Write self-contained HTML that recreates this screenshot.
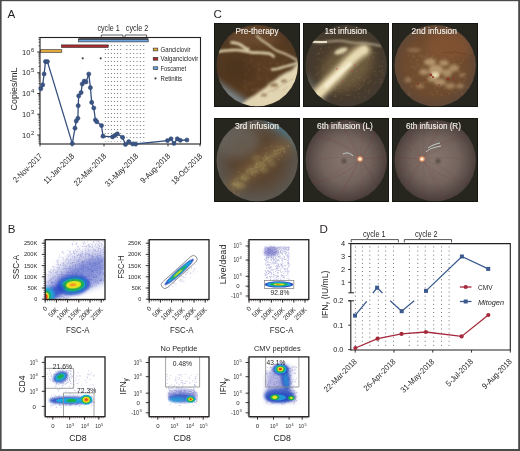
<!DOCTYPE html>
<html><head><meta charset="utf-8"><style>
html,body{margin:0;padding:0;background:#fff;}
svg{display:block;font-family:"Liberation Sans", sans-serif;filter:blur(0.3px);}
</style></head><body>
<svg width="520" height="451" viewBox="0 0 520 451">
<defs>
<filter id="bl05" x="-50%" y="-50%" width="200%" height="200%"><feGaussianBlur stdDeviation="0.5"/></filter>
<filter id="bl1" x="-50%" y="-50%" width="200%" height="200%"><feGaussianBlur stdDeviation="1"/></filter>
<filter id="bl15" x="-50%" y="-50%" width="200%" height="200%"><feGaussianBlur stdDeviation="1.5"/></filter>
<filter id="bl2" x="-50%" y="-50%" width="200%" height="200%"><feGaussianBlur stdDeviation="2"/></filter>
<filter id="bl3" x="-50%" y="-50%" width="200%" height="200%"><feGaussianBlur stdDeviation="3"/></filter>
<filter id="bl4" x="-50%" y="-50%" width="200%" height="200%"><feGaussianBlur stdDeviation="4"/></filter>

<radialGradient id="rg0" cx="0.5" cy="0.5" r="0.5"><stop offset="0" stop-color="#5a3d22"/><stop offset="0.75" stop-color="#573b21"/><stop offset="1" stop-color="#4e3826"/></radialGradient>
<radialGradient id="rg1" cx="0.5" cy="0.5" r="0.5"><stop offset="0" stop-color="#5a4833"/><stop offset="0.6" stop-color="#4a3c2c"/><stop offset="1" stop-color="#433a30"/></radialGradient>
<radialGradient id="rg2" cx="0.5" cy="0.5" r="0.5"><stop offset="0" stop-color="#7a5535"/><stop offset="0.7" stop-color="#6e4a2e"/><stop offset="1" stop-color="#5e4838"/></radialGradient>
<radialGradient id="rg3" cx="0.5" cy="0.5" r="0.5"><stop offset="0" stop-color="#5e4229"/><stop offset="0.55" stop-color="#5a4634"/><stop offset="1" stop-color="#5c5852"/></radialGradient>
<radialGradient id="rg4" cx="0.5" cy="0.5" r="0.5"><stop offset="0" stop-color="#86766f"/><stop offset="0.55" stop-color="#74645e"/><stop offset="1" stop-color="#483c38"/></radialGradient>

<clipPath id="cpB0"><rect x="45.2" y="239.7" width="59.8" height="59.8"/></clipPath><clipPath id="cpB1"><rect x="149.2" y="239.7" width="59.8" height="59.8"/></clipPath><clipPath id="cpB2"><rect x="249.0" y="239.7" width="59.8" height="59.8"/></clipPath><clipPath id="cpB3"><rect x="45.2" y="356.9" width="59.8" height="59.8"/></clipPath><clipPath id="cpB4"><rect x="149.2" y="356.9" width="59.8" height="59.8"/></clipPath><clipPath id="cpB5"><rect x="249.0" y="356.9" width="59.8" height="59.8"/></clipPath>
</defs>
<rect width="520" height="451" fill="#fff"/>
<rect x="0" y="0" width="520" height="1.2" fill="#4a4a4a"/>
<rect x="0" y="0" width="1.6" height="451" fill="#4a4a4a"/>
<rect x="518.2" y="0" width="1.8" height="451" fill="#4a4a4a"/>
<rect x="0" y="449" width="520" height="2" fill="#4a4a4a"/>
<text x="7.6" y="17.6" font-size="11.6" fill="#231f20">A</text>
<line x1="105.3" y1="45" x2="105.3" y2="141.5" stroke="#555" stroke-width="0.9" stroke-dasharray="0.9 3.1"/>
<line x1="108.3" y1="45" x2="108.3" y2="141.5" stroke="#555" stroke-width="0.9" stroke-dasharray="0.9 3.1"/>
<line x1="111.4" y1="45" x2="111.4" y2="141.5" stroke="#555" stroke-width="0.9" stroke-dasharray="0.9 3.1"/>
<line x1="114.6" y1="45" x2="114.6" y2="141.5" stroke="#555" stroke-width="0.9" stroke-dasharray="0.9 3.1"/>
<line x1="117.6" y1="45" x2="117.6" y2="141.5" stroke="#555" stroke-width="0.9" stroke-dasharray="0.9 3.1"/>
<line x1="120.7" y1="45" x2="120.7" y2="141.5" stroke="#555" stroke-width="0.9" stroke-dasharray="0.9 3.1"/>
<line x1="126.9" y1="45" x2="126.9" y2="141.5" stroke="#555" stroke-width="0.9" stroke-dasharray="0.9 3.1"/>
<line x1="130.3" y1="45" x2="130.3" y2="141.5" stroke="#555" stroke-width="0.9" stroke-dasharray="0.9 3.1"/>
<line x1="133.7" y1="45" x2="133.7" y2="141.5" stroke="#555" stroke-width="0.9" stroke-dasharray="0.9 3.1"/>
<line x1="137.0" y1="45" x2="137.0" y2="141.5" stroke="#555" stroke-width="0.9" stroke-dasharray="0.9 3.1"/>
<line x1="140.4" y1="45" x2="140.4" y2="141.5" stroke="#555" stroke-width="0.9" stroke-dasharray="0.9 3.1"/>
<line x1="143.8" y1="45" x2="143.8" y2="141.5" stroke="#555" stroke-width="0.9" stroke-dasharray="0.9 3.1"/>
<rect x="40.6" y="49.7" width="21.199999999999996" height="2.6" fill="#e0a73a" stroke="#2b2b2b" stroke-width="0.6"/>
<rect x="61.4" y="44.900000000000006" width="46.800000000000004" height="2.6" fill="#b02a2e" stroke="#2b2b2b" stroke-width="0.6"/>
<rect x="78.5" y="37.6" width="69.7" height="2.6" fill="#5a5a5a"/>
<rect x="78.5" y="39.300000000000004" width="69.69999999999999" height="2.6" fill="#6ea3dd" stroke="#2b2b2b" stroke-width="0.6"/>
<rect x="40" y="37.5" width="160.5" height="106.5" fill="none" stroke="#231f20" stroke-width="1.1"/>
<path d="M101.3 37.5 V35 H122.9 V37.5" fill="none" stroke="#231f20" stroke-width="0.7"/>
<path d="M125.0 37.5 V35 H146.6 V37.5" fill="none" stroke="#231f20" stroke-width="0.7"/>
<text x="97.4" y="31.2" font-size="8.8" fill="#231f20" textLength="22.3" lengthAdjust="spacingAndGlyphs">cycle 1</text>
<text x="125.8" y="31.2" font-size="8.8" fill="#231f20" textLength="22.4" lengthAdjust="spacingAndGlyphs">cycle 2</text>
<circle cx="82.7" cy="58.3" r="1.1" fill="#444"/>
<circle cx="100.7" cy="58.3" r="1.1" fill="#444"/>
<line x1="37.2" y1="135.0" x2="40" y2="135.0" stroke="#231f20" stroke-width="0.9"/>
<text x="22.0" y="137.6" font-size="7.6" fill="#231f20" textLength="8.4" lengthAdjust="spacingAndGlyphs">10</text>
<text x="30.9" y="134.7" font-size="5.8" fill="#231f20">2</text>
<line x1="38.4" y1="128.75362758997238" x2="40" y2="128.75362758997238" stroke="#231f20" stroke-width="0.6"/>
<line x1="38.4" y1="125.09973396456701" x2="40" y2="125.09973396456701" stroke="#231f20" stroke-width="0.6"/>
<line x1="38.4" y1="122.50725517994478" x2="40" y2="122.50725517994478" stroke="#231f20" stroke-width="0.6"/>
<line x1="38.4" y1="120.49637241002762" x2="40" y2="120.49637241002762" stroke="#231f20" stroke-width="0.6"/>
<line x1="38.4" y1="118.85336155453939" x2="40" y2="118.85336155453939" stroke="#231f20" stroke-width="0.6"/>
<line x1="38.4" y1="117.46421566970417" x2="40" y2="117.46421566970417" stroke="#231f20" stroke-width="0.6"/>
<line x1="38.4" y1="116.26088276991717" x2="40" y2="116.26088276991717" stroke="#231f20" stroke-width="0.6"/>
<line x1="38.4" y1="115.19946792913402" x2="40" y2="115.19946792913402" stroke="#231f20" stroke-width="0.6"/>
<line x1="37.2" y1="114.25" x2="40" y2="114.25" stroke="#231f20" stroke-width="0.9"/>
<text x="22.0" y="116.85" font-size="7.6" fill="#231f20" textLength="8.4" lengthAdjust="spacingAndGlyphs">10</text>
<text x="30.9" y="113.95" font-size="5.8" fill="#231f20">3</text>
<line x1="38.4" y1="108.00362758997238" x2="40" y2="108.00362758997238" stroke="#231f20" stroke-width="0.6"/>
<line x1="38.4" y1="104.34973396456701" x2="40" y2="104.34973396456701" stroke="#231f20" stroke-width="0.6"/>
<line x1="38.4" y1="101.75725517994478" x2="40" y2="101.75725517994478" stroke="#231f20" stroke-width="0.6"/>
<line x1="38.4" y1="99.74637241002762" x2="40" y2="99.74637241002762" stroke="#231f20" stroke-width="0.6"/>
<line x1="38.4" y1="98.10336155453939" x2="40" y2="98.10336155453939" stroke="#231f20" stroke-width="0.6"/>
<line x1="38.4" y1="96.71421566970417" x2="40" y2="96.71421566970417" stroke="#231f20" stroke-width="0.6"/>
<line x1="38.4" y1="95.51088276991717" x2="40" y2="95.51088276991717" stroke="#231f20" stroke-width="0.6"/>
<line x1="38.4" y1="94.44946792913402" x2="40" y2="94.44946792913402" stroke="#231f20" stroke-width="0.6"/>
<line x1="37.2" y1="93.5" x2="40" y2="93.5" stroke="#231f20" stroke-width="0.9"/>
<text x="22.0" y="96.1" font-size="7.6" fill="#231f20" textLength="8.4" lengthAdjust="spacingAndGlyphs">10</text>
<text x="30.9" y="93.2" font-size="5.8" fill="#231f20">4</text>
<line x1="38.4" y1="87.25362758997238" x2="40" y2="87.25362758997238" stroke="#231f20" stroke-width="0.6"/>
<line x1="38.4" y1="83.59973396456701" x2="40" y2="83.59973396456701" stroke="#231f20" stroke-width="0.6"/>
<line x1="38.4" y1="81.00725517994478" x2="40" y2="81.00725517994478" stroke="#231f20" stroke-width="0.6"/>
<line x1="38.4" y1="78.99637241002762" x2="40" y2="78.99637241002762" stroke="#231f20" stroke-width="0.6"/>
<line x1="38.4" y1="77.35336155453939" x2="40" y2="77.35336155453939" stroke="#231f20" stroke-width="0.6"/>
<line x1="38.4" y1="75.96421566970417" x2="40" y2="75.96421566970417" stroke="#231f20" stroke-width="0.6"/>
<line x1="38.4" y1="74.76088276991717" x2="40" y2="74.76088276991717" stroke="#231f20" stroke-width="0.6"/>
<line x1="38.4" y1="73.699467929134" x2="40" y2="73.699467929134" stroke="#231f20" stroke-width="0.6"/>
<line x1="37.2" y1="72.75" x2="40" y2="72.75" stroke="#231f20" stroke-width="0.9"/>
<text x="22.0" y="75.35" font-size="7.6" fill="#231f20" textLength="8.4" lengthAdjust="spacingAndGlyphs">10</text>
<text x="30.9" y="72.45" font-size="5.8" fill="#231f20">5</text>
<line x1="38.4" y1="66.50362758997238" x2="40" y2="66.50362758997238" stroke="#231f20" stroke-width="0.6"/>
<line x1="38.4" y1="62.849733964567" x2="40" y2="62.849733964567" stroke="#231f20" stroke-width="0.6"/>
<line x1="38.4" y1="60.25725517994478" x2="40" y2="60.25725517994478" stroke="#231f20" stroke-width="0.6"/>
<line x1="38.4" y1="58.24637241002761" x2="40" y2="58.24637241002761" stroke="#231f20" stroke-width="0.6"/>
<line x1="38.4" y1="56.60336155453939" x2="40" y2="56.60336155453939" stroke="#231f20" stroke-width="0.6"/>
<line x1="38.4" y1="55.21421566970417" x2="40" y2="55.21421566970417" stroke="#231f20" stroke-width="0.6"/>
<line x1="38.4" y1="54.01088276991717" x2="40" y2="54.01088276991717" stroke="#231f20" stroke-width="0.6"/>
<line x1="38.4" y1="52.949467929134" x2="40" y2="52.949467929134" stroke="#231f20" stroke-width="0.6"/>
<line x1="37.2" y1="52.0" x2="40" y2="52.0" stroke="#231f20" stroke-width="0.9"/>
<text x="22.0" y="54.6" font-size="7.6" fill="#231f20" textLength="8.4" lengthAdjust="spacingAndGlyphs">10</text>
<text x="30.9" y="51.7" font-size="5.8" fill="#231f20">6</text>
<line x1="38.4" y1="45.75362758997239" x2="40" y2="45.75362758997239" stroke="#231f20" stroke-width="0.6"/>
<line x1="38.4" y1="42.099733964567" x2="40" y2="42.099733964567" stroke="#231f20" stroke-width="0.6"/>
<line x1="38.4" y1="39.50725517994478" x2="40" y2="39.50725517994478" stroke="#231f20" stroke-width="0.6"/>
<line x1="38.4" y1="37.49637241002761" x2="40" y2="37.49637241002761" stroke="#231f20" stroke-width="0.6"/>
<line x1="38.4" y1="143.25725517994476" x2="40" y2="143.25725517994476" stroke="#231f20" stroke-width="0.6"/>
<line x1="38.4" y1="141.24637241002762" x2="40" y2="141.24637241002762" stroke="#231f20" stroke-width="0.6"/>
<line x1="38.4" y1="139.6033615545394" x2="40" y2="139.6033615545394" stroke="#231f20" stroke-width="0.6"/>
<line x1="38.4" y1="138.21421566970417" x2="40" y2="138.21421566970417" stroke="#231f20" stroke-width="0.6"/>
<line x1="38.4" y1="137.01088276991717" x2="40" y2="137.01088276991717" stroke="#231f20" stroke-width="0.6"/>
<line x1="38.4" y1="135.94946792913402" x2="40" y2="135.94946792913402" stroke="#231f20" stroke-width="0.6"/>
<line x1="40" y1="144" x2="40" y2="146.4" stroke="#231f20" stroke-width="0.9"/>
<text transform="translate(42.8,156.6) rotate(-45)" font-size="8.2" text-anchor="end" fill="#231f20" textLength="37.5" lengthAdjust="spacingAndGlyphs">2-Nov-2017</text>
<line x1="72" y1="144" x2="72" y2="146.4" stroke="#231f20" stroke-width="0.9"/>
<text transform="translate(74.8,156.6) rotate(-45)" font-size="8.2" text-anchor="end" fill="#231f20" textLength="39.5" lengthAdjust="spacingAndGlyphs">11-Jan-2018</text>
<line x1="104" y1="144" x2="104" y2="146.4" stroke="#231f20" stroke-width="0.9"/>
<text transform="translate(106.8,156.6) rotate(-45)" font-size="8.2" text-anchor="end" fill="#231f20" textLength="42.2" lengthAdjust="spacingAndGlyphs">22-Mar-2018</text>
<line x1="136" y1="144" x2="136" y2="146.4" stroke="#231f20" stroke-width="0.9"/>
<text transform="translate(138.8,156.6) rotate(-45)" font-size="8.2" text-anchor="end" fill="#231f20" textLength="43.2" lengthAdjust="spacingAndGlyphs">31-May-2018</text>
<line x1="168" y1="144" x2="168" y2="146.4" stroke="#231f20" stroke-width="0.9"/>
<text transform="translate(170.8,156.6) rotate(-45)" font-size="8.2" text-anchor="end" fill="#231f20" textLength="38.5" lengthAdjust="spacingAndGlyphs">9-Aug-2018</text>
<line x1="200" y1="144" x2="200" y2="146.4" stroke="#231f20" stroke-width="0.9"/>
<text transform="translate(202.8,156.6) rotate(-45)" font-size="8.2" text-anchor="end" fill="#231f20" textLength="40.0" lengthAdjust="spacingAndGlyphs">18-Oct-2018</text>
<text transform="translate(16.6,88.9) rotate(-90)" font-size="9" text-anchor="middle" fill="#231f20" textLength="43" lengthAdjust="spacingAndGlyphs">Copies/mL</text>
<path d="M40.8 88.8 L42.7 84.9 L44.1 74.0 L45.5 61.6 L47.4 61.6 L72.3 143.6 L75.0 128.2 L76.2 121.1 L77.9 118.3 L78.2 105.7 L78.7 95.9 L81.1 92.6 L82.2 84.0 L84.2 81.1 L86.0 82.0 L88.8 74.0 L90.4 87.7 L91.7 102.4 L93.8 108.0 L95.4 120.0 L96.8 121.8 L101.5 125.6 L103.0 136.2 L112.5 136.9 L114.9 135.5 L117.3 133.8 L122.6 137.4 L125.5 144.4 L128.8 141.7 L132.7 144.0 L135.6 144.0 L167.5 140.6 L171.0 138.8 L174.0 143.4 L177.3 138.8 L180.3 140.3 L186.9 140.0" fill="none" stroke="#34507e" stroke-width="1.3" stroke-linejoin="round"/>
<circle cx="40.8" cy="88.8" r="2.1" fill="#3a5583" stroke="#2c4572" stroke-width="0.5"/>
<circle cx="42.7" cy="84.9" r="2.1" fill="#3a5583" stroke="#2c4572" stroke-width="0.5"/>
<circle cx="44.1" cy="74.0" r="2.1" fill="#3a5583" stroke="#2c4572" stroke-width="0.5"/>
<circle cx="45.5" cy="61.6" r="2.1" fill="#3a5583" stroke="#2c4572" stroke-width="0.5"/>
<circle cx="47.4" cy="61.6" r="2.1" fill="#3a5583" stroke="#2c4572" stroke-width="0.5"/>
<circle cx="72.3" cy="143.6" r="2.1" fill="#3a5583" stroke="#2c4572" stroke-width="0.5"/>
<circle cx="75.0" cy="128.2" r="2.1" fill="#3a5583" stroke="#2c4572" stroke-width="0.5"/>
<circle cx="76.2" cy="121.1" r="2.1" fill="#3a5583" stroke="#2c4572" stroke-width="0.5"/>
<circle cx="77.9" cy="118.3" r="2.1" fill="#3a5583" stroke="#2c4572" stroke-width="0.5"/>
<circle cx="78.2" cy="105.7" r="2.1" fill="#3a5583" stroke="#2c4572" stroke-width="0.5"/>
<circle cx="78.7" cy="95.9" r="2.1" fill="#3a5583" stroke="#2c4572" stroke-width="0.5"/>
<circle cx="81.1" cy="92.6" r="2.1" fill="#3a5583" stroke="#2c4572" stroke-width="0.5"/>
<circle cx="82.2" cy="84.0" r="2.1" fill="#3a5583" stroke="#2c4572" stroke-width="0.5"/>
<circle cx="84.2" cy="81.1" r="2.1" fill="#3a5583" stroke="#2c4572" stroke-width="0.5"/>
<circle cx="86.0" cy="82.0" r="2.1" fill="#3a5583" stroke="#2c4572" stroke-width="0.5"/>
<circle cx="88.8" cy="74.0" r="2.1" fill="#3a5583" stroke="#2c4572" stroke-width="0.5"/>
<circle cx="90.4" cy="87.7" r="2.1" fill="#3a5583" stroke="#2c4572" stroke-width="0.5"/>
<circle cx="91.7" cy="102.4" r="2.1" fill="#3a5583" stroke="#2c4572" stroke-width="0.5"/>
<circle cx="93.8" cy="108.0" r="2.1" fill="#3a5583" stroke="#2c4572" stroke-width="0.5"/>
<circle cx="95.4" cy="120.0" r="2.1" fill="#3a5583" stroke="#2c4572" stroke-width="0.5"/>
<circle cx="96.8" cy="121.8" r="2.1" fill="#3a5583" stroke="#2c4572" stroke-width="0.5"/>
<circle cx="101.5" cy="125.6" r="2.1" fill="#3a5583" stroke="#2c4572" stroke-width="0.5"/>
<circle cx="103.0" cy="136.2" r="2.1" fill="#3a5583" stroke="#2c4572" stroke-width="0.5"/>
<circle cx="112.5" cy="136.9" r="2.1" fill="#3a5583" stroke="#2c4572" stroke-width="0.5"/>
<circle cx="114.9" cy="135.5" r="2.1" fill="#3a5583" stroke="#2c4572" stroke-width="0.5"/>
<circle cx="117.3" cy="133.8" r="2.1" fill="#3a5583" stroke="#2c4572" stroke-width="0.5"/>
<circle cx="122.6" cy="137.4" r="2.1" fill="#3a5583" stroke="#2c4572" stroke-width="0.5"/>
<circle cx="125.5" cy="144.4" r="2.1" fill="#3a5583" stroke="#2c4572" stroke-width="0.5"/>
<circle cx="128.8" cy="141.7" r="2.1" fill="#3a5583" stroke="#2c4572" stroke-width="0.5"/>
<circle cx="132.7" cy="144.0" r="2.1" fill="#3a5583" stroke="#2c4572" stroke-width="0.5"/>
<circle cx="135.6" cy="144.0" r="2.1" fill="#3a5583" stroke="#2c4572" stroke-width="0.5"/>
<circle cx="167.5" cy="140.6" r="2.1" fill="#3a5583" stroke="#2c4572" stroke-width="0.5"/>
<circle cx="171.0" cy="138.8" r="2.1" fill="#3a5583" stroke="#2c4572" stroke-width="0.5"/>
<circle cx="174.0" cy="143.4" r="2.1" fill="#3a5583" stroke="#2c4572" stroke-width="0.5"/>
<circle cx="177.3" cy="138.8" r="2.1" fill="#3a5583" stroke="#2c4572" stroke-width="0.5"/>
<circle cx="180.3" cy="140.3" r="2.1" fill="#3a5583" stroke="#2c4572" stroke-width="0.5"/>
<circle cx="186.9" cy="140.0" r="2.1" fill="#3a5583" stroke="#2c4572" stroke-width="0.5"/>
<rect x="153.2" y="48.1" width="4.6" height="2.8" fill="#e0a73a" stroke="#2b2b2b" stroke-width="0.6"/>
<rect x="153.2" y="57.4" width="4.6" height="2.8" fill="#b02a2e" stroke="#2b2b2b" stroke-width="0.6"/>
<rect x="153.2" y="66.8" width="4.6" height="2.8" fill="#6ea3dd" stroke="#2b2b2b" stroke-width="0.6"/>
<text x="160.6" y="51.8" font-size="6.4" fill="#231f20" textLength="30.0" lengthAdjust="spacingAndGlyphs">Ganciclovir</text>
<text x="160.6" y="61.1" font-size="6.4" fill="#231f20" textLength="37.6" lengthAdjust="spacingAndGlyphs">Valganciclovir</text>
<text x="160.6" y="70.5" font-size="6.4" fill="#231f20" textLength="25.5" lengthAdjust="spacingAndGlyphs">Foscarnet</text>
<circle cx="155.5" cy="78.4" r="1.1" fill="#444"/>
<text x="160.6" y="80.7" font-size="6.4" fill="#231f20" textLength="21.5" lengthAdjust="spacingAndGlyphs">Retinitis</text>
<text x="213.6" y="17.6" font-size="11.6" fill="#231f20">C</text>
<g transform="translate(214,23)">
<rect x="0" y="0" width="86" height="84" fill="#26261f"/>
<rect x="0.5" y="0.5" width="85" height="83" fill="none" stroke="#151512" stroke-width="1"/>
<clipPath id="fc0"><circle cx="43.2" cy="42.6" r="40.7"/></clipPath>
<g clip-path="url(#fc0)">

<rect x="0" y="0" width="86" height="84" fill="url(#rg0)"/>
<ellipse cx="40" cy="14" rx="26" ry="10" fill="#6e4e30" filter="url(#bl4)" opacity="0.8"/>
<ellipse cx="24" cy="46" rx="16" ry="14" fill="#4a301a" filter="url(#bl4)" opacity="0.7"/>
<path d="M0 54 C8 62 18 68 28 74 C34 78 38 84 38 84 L0 84Z" fill="#7e8a90" filter="url(#bl3)" opacity="0.95"/>
<path d="M84.0 40.0 C82.7 39.8 80.2 44.9 78.2 46.5 C76.2 48.1 74.0 48.4 72.0 49.5 C70.0 50.6 68.0 51.6 66.0 53.0 C64.0 54.4 61.7 56.5 60.0 57.7 C58.3 58.9 57.3 59.0 56.0 60.0 C54.7 61.0 53.7 62.7 52.0 64.0 C50.3 65.3 48.0 66.6 46.0 68.0 C44.0 69.4 42.0 71.2 40.0 72.5 C38.0 73.8 36.0 74.2 34.0 76.0 C32.0 77.8 25.3 81.5 28.0 83.0 C30.7 84.5 43.0 86.2 50.0 85.0 C57.0 83.8 64.7 79.8 70.0 76.0 C75.3 72.2 79.3 66.7 82.0 62.0 C84.7 57.3 85.7 51.7 86.0 48.0 C86.3 44.3 85.3 40.2 84.0 40.0Z" fill="#e2d6b2" filter="url(#bl15)"/>
<g fill="#8a6a48" filter="url(#bl1)" opacity="0.8">
<ellipse cx="60" cy="62" rx="4" ry="2"/><ellipse cx="70" cy="58" rx="3" ry="1.5"/><ellipse cx="50" cy="72" rx="3" ry="1.5"/>
</g>
<path d="M46 74 C56 68 66 64 80 55" stroke="#c0a888" stroke-width="1" fill="none" filter="url(#bl05)" opacity="0.5"/>
<g fill="none" stroke="#ddd0ab" stroke-linecap="round" stroke-linejoin="round" filter="url(#bl1)">
<path d="M4.0 28.5 C5.0 28.4 8.0 28.0 10.0 27.8 C12.0 27.6 13.9 27.3 16.0 27.2 C18.1 27.1 20.0 26.9 22.3 27.0 C24.6 27.1 27.3 27.5 29.8 27.9 C32.3 28.3 34.4 29.1 37.2 29.4 C40.0 29.7 43.4 29.6 46.5 29.8 C49.6 30.0 53.6 30.1 55.8 30.7 C58.0 31.3 59.0 33.0 59.6 33.5" stroke-width="2.6"/>
<path d="M17.7 19.5 C18.4 19.6 20.6 19.7 22.0 20.0 C23.4 20.3 24.4 20.5 26.0 21.4 C27.6 22.2 30.2 24.3 31.6 25.1 C33.0 25.9 33.9 25.9 34.4 26.0" stroke-width="2.8"/>
<path d="M42.8 13.0 C43.7 13.8 46.5 16.3 48.4 17.7 C50.3 19.1 51.8 19.8 54.0 21.4 C56.2 22.9 58.6 25.4 61.4 27.0 C64.2 28.6 67.9 29.5 70.7 30.7 C73.5 31.9 76.1 33.3 78.2 34.4 C80.3 35.5 82.6 37.0 83.5 37.5" stroke-width="1.8"/>
<path d="M58.0 46.5 C59.0 46.4 61.9 46.1 64.0 45.6 C66.1 45.1 68.5 44.3 70.7 43.7 C72.9 43.1 74.8 42.6 77.0 42.0 C79.2 41.4 82.8 40.3 84.0 40.0" stroke-width="2.4"/>
</g>
<g filter="url(#bl1)"><path d="M56.2 59.5h1.6v1.6h-1.6zM63.4 66.1h1.6v1.6h-1.6zM61.1 65.4h1.6v1.6h-1.6zM31.2 50.4h1.6v1.6h-1.6zM69.6 56.4h1.6v1.6h-1.6zM67.8 38.7h1.6v1.6h-1.6zM49.7 43.1h1.6v1.6h-1.6zM52.8 53.9h1.6v1.6h-1.6zM30.6 42.2h1.6v1.6h-1.6zM41.7 65.2h1.6v1.6h-1.6zM62.2 40.3h1.6v1.6h-1.6zM63.5 39.6h1.6v1.6h-1.6zM55.9 39.2h1.6v1.6h-1.6zM30.1 63.8h1.6v1.6h-1.6zM38.8 42.1h1.6v1.6h-1.6zM71.3 63.8h1.6v1.6h-1.6zM42.2 66.7h1.6v1.6h-1.6zM52.6 57.4h1.6v1.6h-1.6zM38.6 66.1h1.6v1.6h-1.6zM59.0 66.9h1.6v1.6h-1.6zM67.5 44.9h1.6v1.6h-1.6zM45.2 40.5h1.6v1.6h-1.6zM36.1 37.1h1.6v1.6h-1.6zM42.7 54.9h1.6v1.6h-1.6zM30.1 57.4h1.6v1.6h-1.6zM44.2 45.2h1.6v1.6h-1.6zM64.4 50.9h1.6v1.6h-1.6zM43.3 50.9h1.6v1.6h-1.6zM59.6 36.9h1.6v1.6h-1.6zM71.0 35.8h1.6v1.6h-1.6zM61.5 62.9h1.6v1.6h-1.6zM30.8 61.0h1.6v1.6h-1.6zM45.4 54.1h1.6v1.6h-1.6zM30.4 36.5h1.6v1.6h-1.6zM37.6 66.5h1.6v1.6h-1.6zM38.3 59.9h1.6v1.6h-1.6zM69.0 66.1h1.6v1.6h-1.6zM44.5 46.7h1.6v1.6h-1.6zM52.0 60.6h1.6v1.6h-1.6zM34.5 59.7h1.6v1.6h-1.6zM63.5 63.4h1.6v1.6h-1.6zM31.5 66.2h1.6v1.6h-1.6zM33.8 46.2h1.6v1.6h-1.6zM55.7 65.3h1.6v1.6h-1.6zM44.3 65.5h1.6v1.6h-1.6zM52.9 45.3h1.6v1.6h-1.6zM43.3 40.9h1.6v1.6h-1.6zM33.3 39.9h1.6v1.6h-1.6zM58.9 67.9h1.6v1.6h-1.6zM36.8 36.6h1.6v1.6h-1.6z" fill="#9a7a58" fill-opacity="0.35"/></g>

</g></g>
<text x="235.5" y="33.6" font-size="8.4" fill="#f4f1ea" textLength="43.0" lengthAdjust="spacingAndGlyphs" stroke="#f4f1ea" stroke-width="0.12">Pre-therapy</text>
<g transform="translate(303,23)">
<rect x="0" y="0" width="86" height="84" fill="#26261f"/>
<rect x="0.5" y="0.5" width="85" height="83" fill="none" stroke="#151512" stroke-width="1"/>
<clipPath id="fc1"><circle cx="43.2" cy="42.6" r="40.7"/></clipPath>
<g clip-path="url(#fc1)">

<rect x="0" y="0" width="86" height="84" fill="url(#rg1)"/>
<path d="M0 50 C10 60 18 72 24 84 L0 84Z" fill="#7a7a70" filter="url(#bl4)" opacity="0.8"/>
<ellipse cx="44" cy="44" rx="30" ry="20" transform="rotate(-40 44 44)" fill="#7a6644" filter="url(#bl4)" opacity="0.7"/>
<g filter="url(#bl05)"><path d="M79.1 50.8h1.4v1.4h-1.4zM39.6 34.8h1.4v1.4h-1.4zM52.4 66.6h1.4v1.4h-1.4zM43.0 44.8h1.4v1.4h-1.4zM15.8 71.5h1.4v1.4h-1.4zM14.2 48.7h1.4v1.4h-1.4zM69.0 29.1h1.4v1.4h-1.4zM61.8 73.3h1.4v1.4h-1.4zM54.9 64.6h1.4v1.4h-1.4zM19.3 45.5h1.4v1.4h-1.4zM22.1 67.6h1.4v1.4h-1.4zM32.0 46.5h1.4v1.4h-1.4zM80.0 68.0h1.4v1.4h-1.4zM78.4 46.5h1.4v1.4h-1.4zM45.2 61.4h1.4v1.4h-1.4zM44.6 37.7h1.4v1.4h-1.4zM39.5 29.9h1.4v1.4h-1.4zM37.6 75.4h1.4v1.4h-1.4zM77.3 55.9h1.4v1.4h-1.4zM46.0 40.3h1.4v1.4h-1.4zM18.1 36.7h1.4v1.4h-1.4zM65.2 68.8h1.4v1.4h-1.4zM36.6 64.4h1.4v1.4h-1.4zM64.7 59.5h1.4v1.4h-1.4zM57.2 63.0h1.4v1.4h-1.4zM36.7 60.0h1.4v1.4h-1.4zM31.1 48.2h1.4v1.4h-1.4zM64.3 59.3h1.4v1.4h-1.4zM32.0 73.1h1.4v1.4h-1.4zM56.2 53.4h1.4v1.4h-1.4zM12.8 51.5h1.4v1.4h-1.4zM29.0 58.3h1.4v1.4h-1.4zM43.5 66.1h1.4v1.4h-1.4zM56.0 65.1h1.4v1.4h-1.4zM35.7 56.8h1.4v1.4h-1.4zM62.2 66.7h1.4v1.4h-1.4zM35.8 67.5h1.4v1.4h-1.4zM71.2 59.2h1.4v1.4h-1.4zM78.4 73.7h1.4v1.4h-1.4zM47.2 50.6h1.4v1.4h-1.4zM23.3 67.2h1.4v1.4h-1.4zM75.7 47.8h1.4v1.4h-1.4zM59.0 60.9h1.4v1.4h-1.4zM61.7 31.3h1.4v1.4h-1.4zM65.1 53.4h1.4v1.4h-1.4zM57.3 44.7h1.4v1.4h-1.4zM54.4 63.8h1.4v1.4h-1.4zM55.3 60.9h1.4v1.4h-1.4zM13.9 30.6h1.4v1.4h-1.4zM42.0 57.1h1.4v1.4h-1.4zM26.9 59.0h1.4v1.4h-1.4zM54.9 24.3h1.4v1.4h-1.4zM44.1 34.2h1.4v1.4h-1.4zM15.7 29.2h1.4v1.4h-1.4zM33.6 31.8h1.4v1.4h-1.4zM25.1 23.9h1.4v1.4h-1.4zM43.6 42.5h1.4v1.4h-1.4zM53.6 53.9h1.4v1.4h-1.4zM28.2 70.8h1.4v1.4h-1.4zM12.0 43.9h1.4v1.4h-1.4zM30.9 44.1h1.4v1.4h-1.4zM19.8 66.9h1.4v1.4h-1.4zM37.4 23.9h1.4v1.4h-1.4zM53.7 27.1h1.4v1.4h-1.4zM49.1 40.3h1.4v1.4h-1.4zM51.5 73.7h1.4v1.4h-1.4zM67.7 44.6h1.4v1.4h-1.4zM67.3 56.7h1.4v1.4h-1.4zM37.1 29.7h1.4v1.4h-1.4zM52.5 52.4h1.4v1.4h-1.4zM77.1 74.3h1.4v1.4h-1.4zM53.4 41.0h1.4v1.4h-1.4zM72.8 22.1h1.4v1.4h-1.4zM19.3 52.6h1.4v1.4h-1.4zM53.8 29.6h1.4v1.4h-1.4zM54.8 70.1h1.4v1.4h-1.4zM37.6 45.3h1.4v1.4h-1.4zM27.4 37.7h1.4v1.4h-1.4zM78.1 42.5h1.4v1.4h-1.4zM77.4 71.3h1.4v1.4h-1.4zM52.5 36.0h1.4v1.4h-1.4zM78.7 48.8h1.4v1.4h-1.4zM40.3 39.2h1.4v1.4h-1.4zM78.9 48.6h1.4v1.4h-1.4zM31.5 47.8h1.4v1.4h-1.4zM20.3 55.6h1.4v1.4h-1.4zM42.2 37.8h1.4v1.4h-1.4zM65.2 66.6h1.4v1.4h-1.4zM12.9 50.8h1.4v1.4h-1.4zM30.6 72.5h1.4v1.4h-1.4zM65.2 35.3h1.4v1.4h-1.4zM30.2 30.4h1.4v1.4h-1.4zM79.2 37.8h1.4v1.4h-1.4zM53.3 47.6h1.4v1.4h-1.4zM55.9 54.6h1.4v1.4h-1.4zM62.6 28.4h1.4v1.4h-1.4zM63.7 38.2h1.4v1.4h-1.4zM48.3 40.2h1.4v1.4h-1.4zM32.2 50.6h1.4v1.4h-1.4zM43.6 41.5h1.4v1.4h-1.4zM62.7 53.9h1.4v1.4h-1.4zM14.5 35.6h1.4v1.4h-1.4zM43.0 71.5h1.4v1.4h-1.4zM72.4 51.5h1.4v1.4h-1.4zM13.0 64.0h1.4v1.4h-1.4zM41.1 53.1h1.4v1.4h-1.4zM60.2 56.1h1.4v1.4h-1.4zM44.8 71.2h1.4v1.4h-1.4zM38.2 43.2h1.4v1.4h-1.4zM69.9 32.6h1.4v1.4h-1.4zM32.2 66.8h1.4v1.4h-1.4zM16.5 67.2h1.4v1.4h-1.4zM59.2 45.4h1.4v1.4h-1.4zM31.5 64.2h1.4v1.4h-1.4zM73.9 29.7h1.4v1.4h-1.4zM44.5 51.7h1.4v1.4h-1.4zM45.8 39.9h1.4v1.4h-1.4zM22.4 53.6h1.4v1.4h-1.4zM67.2 25.7h1.4v1.4h-1.4zM27.6 66.3h1.4v1.4h-1.4zM65.8 57.8h1.4v1.4h-1.4zM13.7 61.0h1.4v1.4h-1.4zM78.6 75.9h1.4v1.4h-1.4zM59.7 24.6h1.4v1.4h-1.4zM69.3 33.8h1.4v1.4h-1.4zM55.9 73.4h1.4v1.4h-1.4zM60.4 29.3h1.4v1.4h-1.4zM31.9 71.6h1.4v1.4h-1.4zM22.2 55.0h1.4v1.4h-1.4zM40.1 30.7h1.4v1.4h-1.4zM54.3 24.4h1.4v1.4h-1.4zM19.4 42.5h1.4v1.4h-1.4zM16.9 25.1h1.4v1.4h-1.4zM51.1 62.1h1.4v1.4h-1.4zM71.7 29.3h1.4v1.4h-1.4zM41.4 39.0h1.4v1.4h-1.4zM52.8 48.4h1.4v1.4h-1.4zM75.8 42.2h1.4v1.4h-1.4zM15.8 59.7h1.4v1.4h-1.4zM22.3 56.1h1.4v1.4h-1.4zM46.4 71.2h1.4v1.4h-1.4zM49.7 55.5h1.4v1.4h-1.4zM29.9 51.8h1.4v1.4h-1.4zM29.3 62.5h1.4v1.4h-1.4zM47.2 29.2h1.4v1.4h-1.4zM27.9 42.0h1.4v1.4h-1.4zM62.1 31.7h1.4v1.4h-1.4zM60.5 57.4h1.4v1.4h-1.4zM17.8 58.1h1.4v1.4h-1.4zM18.2 28.7h1.4v1.4h-1.4zM52.4 34.9h1.4v1.4h-1.4zM71.6 47.9h1.4v1.4h-1.4zM34.0 65.0h1.4v1.4h-1.4zM14.0 61.2h1.4v1.4h-1.4zM15.6 30.1h1.4v1.4h-1.4zM76.7 58.8h1.4v1.4h-1.4zM27.2 28.3h1.4v1.4h-1.4zM78.1 57.9h1.4v1.4h-1.4zM67.8 29.5h1.4v1.4h-1.4zM54.5 41.1h1.4v1.4h-1.4z" fill="#a89060" fill-opacity="0.2"/></g>
<path d="M13.0 73.0 C14.2 71.8 17.5 68.5 20.0 66.0 C22.5 63.5 25.3 60.7 28.0 58.0 C30.7 55.3 33.5 52.7 36.0 50.0 C38.5 47.3 40.7 44.5 43.0 42.0 C45.3 39.5 47.8 37.0 50.0 35.0 C52.2 33.0 54.2 31.3 56.0 30.0 C57.8 28.7 60.2 27.5 61.0 27.0" stroke="#c8b88e" stroke-width="13" fill="none" filter="url(#bl2)" stroke-linecap="round"/>
<path d="M13.0 73.0 C14.2 71.8 17.5 68.5 20.0 66.0 C22.5 63.5 25.3 60.7 28.0 58.0 C30.7 55.3 33.5 52.7 36.0 50.0 C38.5 47.3 40.7 44.5 43.0 42.0 C45.3 39.5 47.8 37.0 50.0 35.0 C52.2 33.0 54.2 31.3 56.0 30.0 C57.8 28.7 60.2 27.5 61.0 27.0" stroke="#e6dab2" stroke-width="7" fill="none" filter="url(#bl1)" stroke-linecap="round"/>
<path d="M22 64 C30 56 38 48 48 40" stroke="#f6eed4" stroke-width="3.5" fill="none" filter="url(#bl1)"/>
<path d="M9.3 18.6 C10.9 18.8 16.1 19.5 18.6 19.5 C21.1 19.5 21.1 18.9 24.2 18.6 C27.3 18.3 33.2 17.6 37.2 17.7 C41.2 17.8 44.7 19.0 48.4 19.5 C52.1 20.0 55.9 20.2 59.6 20.5 C63.3 20.8 67.6 20.9 70.7 21.4 C73.8 21.9 77.0 23.0 78.2 23.3" stroke="#a89a80" stroke-width="2" fill="none" filter="url(#bl1)"/>
<path d="M8 18.5 L24 19" stroke="#e8e0c8" stroke-width="2.4" fill="none" filter="url(#bl05)"/>
<ellipse cx="38" cy="28" rx="7" ry="2.8" fill="#dcd0ac" filter="url(#bl1)" transform="rotate(-20 38 28)"/>
<g fill="#c04050" opacity="0.8"><circle cx="34" cy="46" r="0.8"/><circle cx="49" cy="48" r="0.8"/><circle cx="40" cy="58" r="0.7"/><circle cx="52" cy="42" r="0.7"/></g>

</g></g>
<text x="324.6" y="33.6" font-size="8.4" fill="#f4f1ea" textLength="42.3" lengthAdjust="spacingAndGlyphs" stroke="#f4f1ea" stroke-width="0.12">1st infusion</text>
<g transform="translate(392,23)">
<rect x="0" y="0" width="86" height="84" fill="#26261f"/>
<rect x="0.5" y="0.5" width="85" height="83" fill="none" stroke="#151512" stroke-width="1"/>
<clipPath id="fc2"><circle cx="43.2" cy="42.6" r="40.7"/></clipPath>
<g clip-path="url(#fc2)">

<rect x="0" y="0" width="86" height="84" fill="url(#rg2)"/>
<ellipse cx="58" cy="22" rx="24" ry="14" fill="#8a5634" filter="url(#bl4)" opacity="0.6"/>
<g filter="url(#bl05)"><path d="M29.0 44.0h1.5v1.5h-1.5zM53.3 44.6h1.5v1.5h-1.5zM38.7 35.7h1.5v1.5h-1.5zM67.2 57.2h1.5v1.5h-1.5zM65.5 48.2h1.5v1.5h-1.5zM68.5 51.7h1.5v1.5h-1.5zM51.9 54.1h1.5v1.5h-1.5zM61.4 46.6h1.5v1.5h-1.5zM20.2 31.4h1.5v1.5h-1.5zM27.0 31.7h1.5v1.5h-1.5zM70.9 50.2h1.5v1.5h-1.5zM62.7 30.0h1.5v1.5h-1.5zM44.1 67.4h1.5v1.5h-1.5zM53.6 48.0h1.5v1.5h-1.5zM43.8 34.2h1.5v1.5h-1.5zM23.9 36.7h1.5v1.5h-1.5zM38.0 46.2h1.5v1.5h-1.5zM70.3 36.4h1.5v1.5h-1.5zM30.3 41.7h1.5v1.5h-1.5zM24.3 42.1h1.5v1.5h-1.5zM29.1 50.2h1.5v1.5h-1.5zM16.1 68.8h1.5v1.5h-1.5zM37.6 69.4h1.5v1.5h-1.5zM58.0 58.3h1.5v1.5h-1.5zM44.2 69.7h1.5v1.5h-1.5zM21.5 58.1h1.5v1.5h-1.5zM32.6 58.3h1.5v1.5h-1.5zM60.7 36.9h1.5v1.5h-1.5zM26.9 31.0h1.5v1.5h-1.5zM28.8 33.3h1.5v1.5h-1.5zM39.7 70.9h1.5v1.5h-1.5zM37.3 43.1h1.5v1.5h-1.5zM44.0 41.9h1.5v1.5h-1.5zM60.9 60.2h1.5v1.5h-1.5zM24.5 40.1h1.5v1.5h-1.5zM57.0 69.5h1.5v1.5h-1.5zM55.3 48.1h1.5v1.5h-1.5zM76.4 30.3h1.5v1.5h-1.5zM17.9 62.7h1.5v1.5h-1.5zM40.3 31.9h1.5v1.5h-1.5zM49.1 71.6h1.5v1.5h-1.5zM47.2 44.7h1.5v1.5h-1.5zM20.0 33.0h1.5v1.5h-1.5zM71.5 50.6h1.5v1.5h-1.5zM73.9 32.3h1.5v1.5h-1.5zM29.6 32.1h1.5v1.5h-1.5zM39.4 32.5h1.5v1.5h-1.5zM30.3 47.1h1.5v1.5h-1.5zM33.6 32.2h1.5v1.5h-1.5zM16.4 70.8h1.5v1.5h-1.5zM25.5 51.4h1.5v1.5h-1.5zM39.8 52.3h1.5v1.5h-1.5zM19.4 43.2h1.5v1.5h-1.5zM20.9 52.8h1.5v1.5h-1.5zM73.0 55.1h1.5v1.5h-1.5zM68.8 39.0h1.5v1.5h-1.5zM15.1 52.7h1.5v1.5h-1.5zM45.1 54.0h1.5v1.5h-1.5zM38.1 56.3h1.5v1.5h-1.5zM60.4 68.3h1.5v1.5h-1.5zM33.7 48.9h1.5v1.5h-1.5zM66.9 39.4h1.5v1.5h-1.5zM21.4 43.1h1.5v1.5h-1.5zM19.6 62.4h1.5v1.5h-1.5zM66.4 43.1h1.5v1.5h-1.5zM22.3 33.4h1.5v1.5h-1.5zM29.7 33.5h1.5v1.5h-1.5zM41.4 54.2h1.5v1.5h-1.5zM29.7 32.6h1.5v1.5h-1.5zM58.8 32.0h1.5v1.5h-1.5zM26.8 42.0h1.5v1.5h-1.5zM37.9 34.1h1.5v1.5h-1.5zM40.9 43.2h1.5v1.5h-1.5zM62.1 53.4h1.5v1.5h-1.5zM71.3 57.5h1.5v1.5h-1.5zM62.6 54.1h1.5v1.5h-1.5zM42.3 64.3h1.5v1.5h-1.5zM55.9 70.1h1.5v1.5h-1.5zM60.6 59.4h1.5v1.5h-1.5zM31.1 64.1h1.5v1.5h-1.5zM38.5 35.5h1.5v1.5h-1.5zM18.2 37.1h1.5v1.5h-1.5zM30.8 58.4h1.5v1.5h-1.5zM32.3 32.7h1.5v1.5h-1.5zM62.9 53.4h1.5v1.5h-1.5zM15.8 32.1h1.5v1.5h-1.5zM22.3 45.0h1.5v1.5h-1.5zM69.0 69.9h1.5v1.5h-1.5zM53.2 39.7h1.5v1.5h-1.5zM41.4 45.2h1.5v1.5h-1.5zM35.1 30.5h1.5v1.5h-1.5zM51.4 64.7h1.5v1.5h-1.5zM60.5 34.0h1.5v1.5h-1.5zM47.9 37.2h1.5v1.5h-1.5zM59.4 48.7h1.5v1.5h-1.5zM74.1 63.4h1.5v1.5h-1.5zM21.6 43.3h1.5v1.5h-1.5zM72.6 49.4h1.5v1.5h-1.5zM41.8 48.5h1.5v1.5h-1.5zM63.1 69.3h1.5v1.5h-1.5zM48.1 70.7h1.5v1.5h-1.5zM52.1 34.3h1.5v1.5h-1.5zM66.1 47.6h1.5v1.5h-1.5zM17.3 71.1h1.5v1.5h-1.5zM16.1 54.2h1.5v1.5h-1.5zM44.8 67.0h1.5v1.5h-1.5zM39.1 39.1h1.5v1.5h-1.5zM31.7 38.4h1.5v1.5h-1.5zM50.0 45.0h1.5v1.5h-1.5zM62.1 40.1h1.5v1.5h-1.5z" fill="#b89060" fill-opacity="0.18"/></g>
<g filter="url(#bl15)" fill="#c2a67a"><ellipse cx="38" cy="39" rx="6" ry="3.5" opacity="0.8"/><ellipse cx="52" cy="40" rx="5" ry="3" opacity="0.75"/><ellipse cx="62" cy="45" rx="5" ry="3.5" opacity="0.7"/><ellipse cx="32" cy="49" rx="5" ry="3" opacity="0.7"/><ellipse cx="48" cy="59" rx="6" ry="3.5" opacity="0.75"/><ellipse cx="58" cy="63" rx="5" ry="3" opacity="0.6"/><ellipse cx="68" cy="63" rx="4" ry="2.5" opacity="0.55"/><ellipse cx="16" cy="57" rx="3.5" ry="2.5" opacity="0.5"/><ellipse cx="28" cy="63" rx="4" ry="2.5" opacity="0.5"/><ellipse cx="44" cy="47" rx="7" ry="5" opacity="0.85"/><ellipse cx="55" cy="50" rx="5" ry="4" opacity="0.7"/><ellipse cx="40" cy="56" rx="5" ry="3" opacity="0.7"/><ellipse cx="22" cy="27" rx="7" ry="2" opacity="0.4"/><ellipse cx="70" cy="52" rx="3" ry="2" opacity="0.5"/></g>
<ellipse cx="43" cy="52" rx="4.5" ry="3" fill="#e6d6ac" filter="url(#bl1)"/>
<g fill="#8e2c22" filter="url(#bl05)" opacity="0.9"><circle cx="38.9" cy="51.9" r="1.4"/><circle cx="41" cy="54" r="1.1"/><circle cx="56" cy="56" r="1.2"/><circle cx="26" cy="61" r="1.0"/><circle cx="62" cy="55" r="0.9"/><circle cx="47" cy="62" r="0.8"/><circle cx="34" cy="57" r="0.8"/></g>
<path d="M50 30 C62 28 72 30 84 34" stroke="#6a3a22" stroke-width="0.6" fill="none" opacity="0.7"/>
<path d="M70 9 l3 -1.5 l2 3 l-2.5 3 z" fill="#e8d890"/>

</g></g>
<text x="411.6" y="33.6" font-size="8.4" fill="#f4f1ea" textLength="45.3" lengthAdjust="spacingAndGlyphs" stroke="#f4f1ea" stroke-width="0.12">2nd infusion</text>
<g transform="translate(214,118)">
<rect x="0" y="0" width="86" height="84" fill="#26261f"/>
<rect x="0.5" y="0.5" width="85" height="83" fill="none" stroke="#151512" stroke-width="1"/>
<clipPath id="fc3"><circle cx="43.2" cy="42.6" r="40.7"/></clipPath>
<g clip-path="url(#fc3)">

<rect x="0" y="0" width="86" height="84" fill="url(#rg3)"/>
<ellipse cx="24" cy="24" rx="22" ry="16" fill="#6e6a64" filter="url(#bl4)" opacity="0.6"/>
<path d="M48 0 L86 0 L86 34 C76 24 64 12 48 0Z" fill="#4e7684" filter="url(#bl3)" opacity="0.85"/>
<path d="M18.0 70.0 C19.3 68.7 23.3 64.5 26.0 62.0 C28.7 59.5 31.3 57.3 34.0 55.0 C36.7 52.7 39.3 50.2 42.0 48.0 C44.7 45.8 47.3 44.0 50.0 42.0 C52.7 40.0 55.3 37.8 58.0 36.0 C60.7 34.2 63.7 32.3 66.0 31.0 C68.3 29.7 71.0 28.5 72.0 28.0" stroke="#7a6040" stroke-width="16" fill="none" filter="url(#bl4)" stroke-linecap="round" opacity="0.7"/>
<g filter="url(#bl15)" fill="#928050"><ellipse cx="22" cy="66" rx="5" ry="3" opacity="0.7"/><ellipse cx="30" cy="60" rx="5" ry="3.5" opacity="0.65"/><ellipse cx="38" cy="53" rx="6" ry="4" opacity="0.6"/><ellipse cx="46" cy="47" rx="6" ry="4" opacity="0.6"/><ellipse cx="54" cy="41" rx="5" ry="3.5" opacity="0.55"/><ellipse cx="61" cy="36" rx="4" ry="3" opacity="0.5"/><ellipse cx="67" cy="31" rx="4" ry="2" opacity="0.45"/><ellipse cx="50" cy="52" rx="5" ry="3" opacity="0.45"/><ellipse cx="42" cy="40" rx="4" ry="3" opacity="0.4"/><ellipse cx="58" cy="46" rx="4" ry="3" opacity="0.4"/><ellipse cx="26" cy="68" rx="6" ry="3" opacity="0.6"/></g>
<g filter="url(#bl05)"><path d="M42.6 44.5h1.2v1.2h-1.2zM63.0 30.9h1.2v1.2h-1.2zM31.7 56.2h1.2v1.2h-1.2zM29.2 56.3h1.2v1.2h-1.2zM32.5 52.3h1.2v1.2h-1.2zM44.3 38.3h1.2v1.2h-1.2zM51.4 46.8h1.2v1.2h-1.2zM49.1 42.9h1.2v1.2h-1.2zM18.7 64.8h1.2v1.2h-1.2zM47.4 43.8h1.2v1.2h-1.2zM73.7 27.4h1.2v1.2h-1.2zM23.3 62.4h1.2v1.2h-1.2zM50.5 39.4h1.2v1.2h-1.2zM37.5 56.2h1.2v1.2h-1.2zM60.4 35.5h1.2v1.2h-1.2zM19.9 66.4h1.2v1.2h-1.2zM69.5 30.0h1.2v1.2h-1.2zM42.6 45.2h1.2v1.2h-1.2zM52.9 38.8h1.2v1.2h-1.2zM24.4 67.4h1.2v1.2h-1.2zM48.1 39.1h1.2v1.2h-1.2zM76.3 24.4h1.2v1.2h-1.2zM49.5 46.3h1.2v1.2h-1.2zM58.2 37.6h1.2v1.2h-1.2zM18.7 71.0h1.2v1.2h-1.2zM52.0 41.1h1.2v1.2h-1.2zM48.3 44.7h1.2v1.2h-1.2zM52.1 34.8h1.2v1.2h-1.2zM41.4 47.5h1.2v1.2h-1.2zM27.5 64.7h1.2v1.2h-1.2zM37.2 54.0h1.2v1.2h-1.2zM50.9 37.2h1.2v1.2h-1.2zM35.4 46.5h1.2v1.2h-1.2zM60.5 35.0h1.2v1.2h-1.2zM54.7 42.6h1.2v1.2h-1.2zM67.3 29.7h1.2v1.2h-1.2zM55.1 37.2h1.2v1.2h-1.2zM33.9 59.4h1.2v1.2h-1.2zM43.7 54.4h1.2v1.2h-1.2zM60.9 32.1h1.2v1.2h-1.2zM51.1 29.7h1.2v1.2h-1.2zM21.9 64.9h1.2v1.2h-1.2zM31.7 53.8h1.2v1.2h-1.2zM64.3 40.7h1.2v1.2h-1.2zM48.6 49.0h1.2v1.2h-1.2zM38.6 54.1h1.2v1.2h-1.2zM47.0 51.0h1.2v1.2h-1.2zM70.2 33.1h1.2v1.2h-1.2zM41.1 52.9h1.2v1.2h-1.2zM22.8 60.0h1.2v1.2h-1.2zM69.4 33.1h1.2v1.2h-1.2zM64.1 31.9h1.2v1.2h-1.2zM27.8 58.1h1.2v1.2h-1.2zM20.4 66.5h1.2v1.2h-1.2zM69.8 29.2h1.2v1.2h-1.2zM40.8 57.4h1.2v1.2h-1.2zM31.6 59.8h1.2v1.2h-1.2zM50.6 41.2h1.2v1.2h-1.2zM27.7 60.1h1.2v1.2h-1.2zM49.1 50.3h1.2v1.2h-1.2zM63.9 33.9h1.2v1.2h-1.2zM66.2 30.6h1.2v1.2h-1.2zM62.5 32.0h1.2v1.2h-1.2zM20.3 60.1h1.2v1.2h-1.2zM74.0 26.7h1.2v1.2h-1.2zM72.1 27.4h1.2v1.2h-1.2zM67.9 29.2h1.2v1.2h-1.2zM33.2 54.8h1.2v1.2h-1.2zM50.0 45.9h1.2v1.2h-1.2zM65.7 30.9h1.2v1.2h-1.2zM40.6 48.9h1.2v1.2h-1.2zM62.5 27.8h1.2v1.2h-1.2zM52.3 39.5h1.2v1.2h-1.2zM43.8 48.9h1.2v1.2h-1.2zM46.2 51.3h1.2v1.2h-1.2zM42.7 53.1h1.2v1.2h-1.2zM62.1 34.9h1.2v1.2h-1.2zM42.2 48.8h1.2v1.2h-1.2zM60.0 32.6h1.2v1.2h-1.2zM22.5 58.5h1.2v1.2h-1.2zM27.3 59.3h1.2v1.2h-1.2zM20.4 65.9h1.2v1.2h-1.2zM49.6 46.7h1.2v1.2h-1.2zM23.8 63.9h1.2v1.2h-1.2zM20.9 66.2h1.2v1.2h-1.2zM22.4 65.8h1.2v1.2h-1.2zM59.7 31.1h1.2v1.2h-1.2zM48.6 53.4h1.2v1.2h-1.2zM25.5 65.7h1.2v1.2h-1.2zM55.8 38.3h1.2v1.2h-1.2zM49.6 41.9h1.2v1.2h-1.2zM19.7 65.1h1.2v1.2h-1.2zM42.2 46.0h1.2v1.2h-1.2zM25.4 64.9h1.2v1.2h-1.2zM48.1 40.5h1.2v1.2h-1.2zM66.1 33.1h1.2v1.2h-1.2zM66.9 37.6h1.2v1.2h-1.2zM51.8 38.4h1.2v1.2h-1.2zM50.1 37.1h1.2v1.2h-1.2zM19.9 61.7h1.2v1.2h-1.2zM69.6 32.8h1.2v1.2h-1.2zM17.5 65.9h1.2v1.2h-1.2zM53.4 40.1h1.2v1.2h-1.2zM22.9 63.7h1.2v1.2h-1.2zM57.2 27.6h1.2v1.2h-1.2zM69.9 30.3h1.2v1.2h-1.2zM35.0 51.4h1.2v1.2h-1.2zM38.7 50.7h1.2v1.2h-1.2zM63.2 31.9h1.2v1.2h-1.2zM31.6 59.9h1.2v1.2h-1.2zM41.8 48.6h1.2v1.2h-1.2zM41.9 45.0h1.2v1.2h-1.2zM21.6 61.3h1.2v1.2h-1.2zM49.1 42.9h1.2v1.2h-1.2zM39.7 46.6h1.2v1.2h-1.2zM28.5 54.9h1.2v1.2h-1.2zM65.6 34.8h1.2v1.2h-1.2zM23.3 66.1h1.2v1.2h-1.2zM37.5 50.1h1.2v1.2h-1.2zM67.1 27.4h1.2v1.2h-1.2zM23.7 68.9h1.2v1.2h-1.2zM29.9 61.0h1.2v1.2h-1.2zM60.8 32.7h1.2v1.2h-1.2zM69.1 30.8h1.2v1.2h-1.2zM64.4 34.3h1.2v1.2h-1.2zM24.1 75.4h1.2v1.2h-1.2zM74.0 27.8h1.2v1.2h-1.2zM45.5 46.3h1.2v1.2h-1.2zM51.2 34.3h1.2v1.2h-1.2zM45.3 47.1h1.2v1.2h-1.2zM19.5 73.6h1.2v1.2h-1.2zM23.2 69.0h1.2v1.2h-1.2zM41.5 51.0h1.2v1.2h-1.2zM69.7 33.9h1.2v1.2h-1.2zM23.7 53.3h1.2v1.2h-1.2zM40.7 47.5h1.2v1.2h-1.2zM38.2 53.1h1.2v1.2h-1.2zM47.9 39.8h1.2v1.2h-1.2zM36.2 50.2h1.2v1.2h-1.2zM44.8 44.0h1.2v1.2h-1.2z" fill="#b09a68" fill-opacity="0.3"/></g>

</g></g>
<text x="235.0" y="128.6" font-size="8.4" fill="#f4f1ea" textLength="43.9" lengthAdjust="spacingAndGlyphs" stroke="#f4f1ea" stroke-width="0.12">3rd infusion</text>
<g transform="translate(303,118)">
<rect x="0" y="0" width="86" height="84" fill="#26261f"/>
<rect x="0.5" y="0.5" width="85" height="83" fill="none" stroke="#151512" stroke-width="1"/>
<clipPath id="fc4"><circle cx="43.2" cy="42.6" r="40.7"/></clipPath>
<g clip-path="url(#fc4)">

<rect x="0" y="0" width="86" height="84" fill="url(#rg4)"/>
<g stroke="#7a3a36" stroke-width="0.5" fill="none" opacity="0.4"><path d="M57 41 C47 27 27 19 9 17"/><path d="M57 41 C51 31 41 11 35 -1"/><path d="M57 41 C63 33 71 21 77 1"/><path d="M57 41 C47 55 27 63 9 65"/><path d="M57 41 C51 51 41 71 35 83"/><path d="M57 41 C63 49 71 61 77 81"/><path d="M57 41 L87 39"/><path d="M57 41 Q81.0 38.0 97.0 41.0" stroke-width="0.35"/><path d="M57 41 Q78.32050807568878 48.0 91.6 61.0" stroke-width="0.35"/><path d="M57 41 Q71.0 55.32050807568877 77.0 75.6" stroke-width="0.35"/><path d="M57 41 Q61.0 58.0 57.0 81.0" stroke-width="0.35"/><path d="M57 41 Q51.0 55.32050807568878 37.0 75.6" stroke-width="0.35"/><path d="M57 41 Q43.67949192431122 48.0 22.4 61.0" stroke-width="0.35"/><path d="M57 41 Q41.0 38.0 17.0 41.0" stroke-width="0.35"/><path d="M57 41 Q43.67949192431123 28.0 22.4 21.0" stroke-width="0.35"/><path d="M57 41 Q50.99999999999999 20.679491924311233 37.0 6.4" stroke-width="0.35"/><path d="M57 41 Q61.0 18.0 57.0 1.0" stroke-width="0.35"/><path d="M57 41 Q71.0 20.67949192431123 77.0 6.4" stroke-width="0.35"/><path d="M57 41 Q78.32050807568876 27.999999999999993 91.6 21.0" stroke-width="0.35"/></g>
<circle cx="41" cy="43" r="2.6" fill="#4a4232" filter="url(#bl1)" opacity="0.7"/>
<circle cx="57" cy="41" r="2.8" fill="#e89868" filter="url(#bl05)"/>
<circle cx="57" cy="41" r="1.5" fill="#fff4e0" filter="url(#bl05)"/>
<path d="M40 36 C44 34 47 35 50 38" stroke="#d0e4e0" stroke-width="1" fill="none" filter="url(#bl05)" opacity="0.8"/>

</g></g>
<text x="317.0" y="128.6" font-size="8.4" fill="#f4f1ea" textLength="55.9" lengthAdjust="spacingAndGlyphs" stroke="#f4f1ea" stroke-width="0.12">6th infusion (L)</text>
<g transform="translate(392,118)">
<rect x="0" y="0" width="86" height="84" fill="#26261f"/>
<rect x="0.5" y="0.5" width="85" height="83" fill="none" stroke="#151512" stroke-width="1"/>
<clipPath id="fc5"><circle cx="43.2" cy="42.6" r="40.7"/></clipPath>
<g clip-path="url(#fc5)">

<rect x="0" y="0" width="86" height="84" fill="url(#rg4)"/>
<g stroke="#7a3a36" stroke-width="0.5" fill="none" opacity="0.4"><path d="M30 41 C40 27 60 19 78 17"/><path d="M30 41 C36 31 46 11 52 -1"/><path d="M30 41 C24 33 16 21 10 1"/><path d="M30 41 C40 55 60 63 78 65"/><path d="M30 41 C36 51 46 71 52 83"/><path d="M30 41 C24 49 16 61 10 81"/><path d="M30 41 L0 39"/><path d="M30 41 Q54.0 38.0 70.0 41.0" stroke-width="0.35"/><path d="M30 41 Q51.32050807568878 48.0 64.6 61.0" stroke-width="0.35"/><path d="M30 41 Q44.0 55.32050807568877 50.0 75.6" stroke-width="0.35"/><path d="M30 41 Q34.0 58.0 30.0 81.0" stroke-width="0.35"/><path d="M30 41 Q24.000000000000004 55.32050807568878 10.0 75.6" stroke-width="0.35"/><path d="M30 41 Q16.679491924311225 48.0 -4.6 61.0" stroke-width="0.35"/><path d="M30 41 Q14.0 38.0 -10.0 41.0" stroke-width="0.35"/><path d="M30 41 Q16.67949192431123 28.0 -4.6 21.0" stroke-width="0.35"/><path d="M30 41 Q23.999999999999993 20.679491924311233 10.0 6.4" stroke-width="0.35"/><path d="M30 41 Q34.0 18.0 30.0 1.0" stroke-width="0.35"/><path d="M30 41 Q44.0 20.67949192431123 50.0 6.4" stroke-width="0.35"/><path d="M30 41 Q51.320508075688764 27.999999999999993 64.6 21.0" stroke-width="0.35"/></g>
<circle cx="46" cy="43" r="2.6" fill="#4a4232" filter="url(#bl1)" opacity="0.7"/>
<circle cx="30" cy="41" r="2.8" fill="#e89868" filter="url(#bl05)"/>
<circle cx="30" cy="41" r="1.5" fill="#fff4e0" filter="url(#bl05)"/>
<path d="M34 34 C38 30 44 29 49 28 M36 30 C40 27 44 26 48 25" stroke="#d0e4e0" stroke-width="1" fill="none" filter="url(#bl05)" opacity="0.8"/>

</g></g>
<text x="406.0" y="128.6" font-size="8.4" fill="#f4f1ea" textLength="54.9" lengthAdjust="spacingAndGlyphs" stroke="#f4f1ea" stroke-width="0.12">6th infusion (R)</text>
<text x="7.8" y="232.7" font-size="11.6" fill="#231f20">B</text>
<g clip-path="url(#cpB0)">
<path d="M45 280 L60 264 L75 252 L105 246 L105 270 L80 276 L45 292Z" fill="#6a6cc8" fill-opacity="0.3" filter="url(#bl3)"/>
<path d="M72.9 270.2h0.8v0.8h-0.8zM92.6 245.6h0.8v0.8h-0.8zM84.2 276.6h0.8v0.8h-0.8zM76.1 278.1h0.8v0.8h-0.8zM84.7 267.2h0.8v0.8h-0.8zM95.4 282.1h0.8v0.8h-0.8zM58.8 257.2h0.8v0.8h-0.8zM91.0 263.8h0.8v0.8h-0.8zM68.2 297.0h0.8v0.8h-0.8zM99.6 268.0h0.8v0.8h-0.8zM91.7 256.1h0.8v0.8h-0.8zM65.0 297.4h0.8v0.8h-0.8zM92.8 250.6h0.8v0.8h-0.8zM52.9 278.3h0.8v0.8h-0.8zM70.2 252.7h0.8v0.8h-0.8zM63.2 292.6h0.8v0.8h-0.8zM68.7 290.8h0.8v0.8h-0.8zM51.0 298.9h0.8v0.8h-0.8zM60.5 286.0h0.8v0.8h-0.8zM50.4 274.7h0.8v0.8h-0.8zM81.1 262.1h0.8v0.8h-0.8zM102.5 268.8h0.8v0.8h-0.8zM97.0 250.9h0.8v0.8h-0.8zM56.8 296.5h0.8v0.8h-0.8zM81.2 265.1h0.8v0.8h-0.8zM47.3 297.3h0.8v0.8h-0.8zM80.8 257.5h0.8v0.8h-0.8zM88.2 244.1h0.8v0.8h-0.8zM78.6 290.7h0.8v0.8h-0.8zM61.8 294.6h0.8v0.8h-0.8zM71.7 243.6h0.8v0.8h-0.8zM67.1 274.0h0.8v0.8h-0.8zM66.7 293.0h0.8v0.8h-0.8zM84.4 281.1h0.8v0.8h-0.8zM46.1 294.2h0.8v0.8h-0.8zM102.8 241.3h0.8v0.8h-0.8zM73.9 283.5h0.8v0.8h-0.8zM105.0 244.5h0.8v0.8h-0.8zM89.2 281.9h0.8v0.8h-0.8zM99.9 260.9h0.8v0.8h-0.8zM70.0 287.0h0.8v0.8h-0.8zM79.4 277.2h0.8v0.8h-0.8zM80.0 276.2h0.8v0.8h-0.8zM97.8 283.3h0.8v0.8h-0.8zM89.1 274.6h0.8v0.8h-0.8zM58.8 281.6h0.8v0.8h-0.8zM63.1 280.3h0.8v0.8h-0.8zM55.2 293.9h0.8v0.8h-0.8zM71.5 293.1h0.8v0.8h-0.8zM85.0 251.8h0.8v0.8h-0.8zM97.8 262.9h0.8v0.8h-0.8zM74.8 289.8h0.8v0.8h-0.8zM72.0 256.4h0.8v0.8h-0.8zM69.8 277.2h0.8v0.8h-0.8zM72.1 244.4h0.8v0.8h-0.8zM82.8 279.0h0.8v0.8h-0.8zM102.5 280.7h0.8v0.8h-0.8zM73.5 250.6h0.8v0.8h-0.8zM73.3 282.5h0.8v0.8h-0.8zM76.2 276.6h0.8v0.8h-0.8zM68.6 287.1h0.8v0.8h-0.8zM50.2 295.5h0.8v0.8h-0.8zM99.6 262.4h0.8v0.8h-0.8zM101.7 267.6h0.8v0.8h-0.8zM83.5 282.7h0.8v0.8h-0.8zM103.6 271.9h0.8v0.8h-0.8zM64.2 294.1h0.8v0.8h-0.8zM48.8 287.6h0.8v0.8h-0.8zM65.1 286.9h0.8v0.8h-0.8zM95.4 281.0h0.8v0.8h-0.8zM83.3 271.1h0.8v0.8h-0.8zM78.6 258.5h0.8v0.8h-0.8zM76.5 274.1h0.8v0.8h-0.8zM77.2 269.9h0.8v0.8h-0.8zM46.7 297.7h0.8v0.8h-0.8zM69.0 287.7h0.8v0.8h-0.8zM74.5 281.1h0.8v0.8h-0.8zM100.4 256.0h0.8v0.8h-0.8zM99.0 268.4h0.8v0.8h-0.8zM52.8 286.4h0.8v0.8h-0.8zM86.2 259.2h0.8v0.8h-0.8zM52.4 270.4h0.8v0.8h-0.8zM56.9 271.6h0.8v0.8h-0.8zM82.9 278.0h0.8v0.8h-0.8zM96.1 276.4h0.8v0.8h-0.8zM99.2 258.8h0.8v0.8h-0.8zM98.3 248.0h0.8v0.8h-0.8zM88.6 255.4h0.8v0.8h-0.8zM94.9 265.1h0.8v0.8h-0.8zM103.1 246.9h0.8v0.8h-0.8zM90.5 269.9h0.8v0.8h-0.8zM78.1 270.6h0.8v0.8h-0.8zM100.6 245.7h0.8v0.8h-0.8zM102.1 267.5h0.8v0.8h-0.8zM64.6 267.8h0.8v0.8h-0.8zM70.8 275.8h0.8v0.8h-0.8zM69.3 251.6h0.8v0.8h-0.8zM93.1 281.9h0.8v0.8h-0.8zM82.8 264.1h0.8v0.8h-0.8zM89.7 286.3h0.8v0.8h-0.8zM69.3 293.3h0.8v0.8h-0.8zM86.7 285.7h0.8v0.8h-0.8zM69.3 283.0h0.8v0.8h-0.8zM65.5 267.9h0.8v0.8h-0.8zM66.3 278.0h0.8v0.8h-0.8zM58.9 296.2h0.8v0.8h-0.8zM65.3 279.3h0.8v0.8h-0.8zM83.5 281.7h0.8v0.8h-0.8zM103.8 241.4h0.8v0.8h-0.8zM89.3 255.3h0.8v0.8h-0.8zM99.3 272.7h0.8v0.8h-0.8zM103.0 273.8h0.8v0.8h-0.8zM83.3 288.2h0.8v0.8h-0.8zM80.9 285.2h0.8v0.8h-0.8zM100.8 249.5h0.8v0.8h-0.8zM48.5 296.2h0.8v0.8h-0.8zM76.6 275.6h0.8v0.8h-0.8zM62.1 279.0h0.8v0.8h-0.8zM62.0 282.6h0.8v0.8h-0.8zM90.3 263.2h0.8v0.8h-0.8zM94.0 275.9h0.8v0.8h-0.8zM82.5 267.1h0.8v0.8h-0.8zM48.1 271.4h0.8v0.8h-0.8zM71.6 279.7h0.8v0.8h-0.8zM60.7 274.6h0.8v0.8h-0.8zM91.7 271.6h0.8v0.8h-0.8zM82.5 261.4h0.8v0.8h-0.8zM86.1 273.6h0.8v0.8h-0.8zM83.0 284.8h0.8v0.8h-0.8zM59.9 298.3h0.8v0.8h-0.8zM97.7 242.4h0.8v0.8h-0.8zM51.1 272.2h0.8v0.8h-0.8zM82.9 262.2h0.8v0.8h-0.8zM95.3 244.4h0.8v0.8h-0.8zM93.6 277.1h0.8v0.8h-0.8zM57.8 265.2h0.8v0.8h-0.8zM93.6 262.0h0.8v0.8h-0.8zM104.4 259.4h0.8v0.8h-0.8zM70.7 262.0h0.8v0.8h-0.8zM97.5 244.7h0.8v0.8h-0.8zM78.9 268.8h0.8v0.8h-0.8zM62.9 286.1h0.8v0.8h-0.8zM57.8 279.4h0.8v0.8h-0.8zM63.2 283.1h0.8v0.8h-0.8zM66.5 283.2h0.8v0.8h-0.8zM52.0 282.2h0.8v0.8h-0.8zM99.8 266.1h0.8v0.8h-0.8zM66.8 263.5h0.8v0.8h-0.8zM77.4 289.8h0.8v0.8h-0.8zM75.9 272.4h0.8v0.8h-0.8zM103.0 278.7h0.8v0.8h-0.8zM50.1 277.7h0.8v0.8h-0.8zM89.7 278.6h0.8v0.8h-0.8zM58.2 285.5h0.8v0.8h-0.8zM90.9 263.5h0.8v0.8h-0.8zM103.1 280.0h0.8v0.8h-0.8zM77.2 282.9h0.8v0.8h-0.8zM99.9 264.4h0.8v0.8h-0.8zM83.4 271.2h0.8v0.8h-0.8zM93.1 265.1h0.8v0.8h-0.8zM67.5 250.0h0.8v0.8h-0.8zM59.1 282.7h0.8v0.8h-0.8zM90.5 258.5h0.8v0.8h-0.8zM94.0 268.5h0.8v0.8h-0.8zM74.0 253.1h0.8v0.8h-0.8zM68.1 271.4h0.8v0.8h-0.8zM61.5 298.9h0.8v0.8h-0.8zM87.8 276.1h0.8v0.8h-0.8zM60.6 291.7h0.8v0.8h-0.8zM61.0 271.8h0.8v0.8h-0.8zM88.0 245.8h0.8v0.8h-0.8zM80.2 291.0h0.8v0.8h-0.8zM92.4 264.8h0.8v0.8h-0.8zM50.5 289.2h0.8v0.8h-0.8zM77.6 271.3h0.8v0.8h-0.8zM94.9 258.5h0.8v0.8h-0.8zM73.0 282.6h0.8v0.8h-0.8zM86.2 246.3h0.8v0.8h-0.8zM94.8 278.9h0.8v0.8h-0.8zM67.6 282.2h0.8v0.8h-0.8zM78.8 267.3h0.8v0.8h-0.8zM57.4 276.7h0.8v0.8h-0.8zM67.6 272.1h0.8v0.8h-0.8zM78.8 283.1h0.8v0.8h-0.8zM94.6 245.5h0.8v0.8h-0.8zM80.6 245.4h0.8v0.8h-0.8zM70.6 270.4h0.8v0.8h-0.8zM68.2 259.7h0.8v0.8h-0.8zM92.4 279.3h0.8v0.8h-0.8zM65.5 278.7h0.8v0.8h-0.8zM94.5 276.4h0.8v0.8h-0.8zM77.9 261.0h0.8v0.8h-0.8zM76.0 282.6h0.8v0.8h-0.8zM56.8 296.2h0.8v0.8h-0.8zM64.8 295.3h0.8v0.8h-0.8zM53.1 293.8h0.8v0.8h-0.8zM78.6 273.3h0.8v0.8h-0.8zM94.1 275.8h0.8v0.8h-0.8zM56.1 272.6h0.8v0.8h-0.8zM84.5 258.3h0.8v0.8h-0.8zM89.3 262.7h0.8v0.8h-0.8zM93.2 241.0h0.8v0.8h-0.8zM60.8 273.8h0.8v0.8h-0.8zM53.7 297.1h0.8v0.8h-0.8zM86.4 285.1h0.8v0.8h-0.8zM69.5 265.8h0.8v0.8h-0.8zM99.3 271.3h0.8v0.8h-0.8zM70.9 293.8h0.8v0.8h-0.8zM88.9 275.6h0.8v0.8h-0.8zM63.3 275.3h0.8v0.8h-0.8zM86.7 271.3h0.8v0.8h-0.8zM63.4 263.5h0.8v0.8h-0.8zM70.3 287.9h0.8v0.8h-0.8zM89.8 273.7h0.8v0.8h-0.8zM50.9 287.1h0.8v0.8h-0.8zM63.0 259.3h0.8v0.8h-0.8zM98.9 258.3h0.8v0.8h-0.8zM73.4 252.3h0.8v0.8h-0.8zM56.7 289.9h0.8v0.8h-0.8zM104.7 252.0h0.8v0.8h-0.8zM56.5 292.4h0.8v0.8h-0.8zM51.4 283.2h0.8v0.8h-0.8zM101.3 266.5h0.8v0.8h-0.8zM80.4 253.6h0.8v0.8h-0.8zM100.6 279.7h0.8v0.8h-0.8zM71.4 271.4h0.8v0.8h-0.8zM47.7 275.7h0.8v0.8h-0.8zM60.1 287.8h0.8v0.8h-0.8zM62.1 285.0h0.8v0.8h-0.8zM61.7 272.6h0.8v0.8h-0.8zM83.7 261.4h0.8v0.8h-0.8zM92.0 270.7h0.8v0.8h-0.8zM95.7 280.7h0.8v0.8h-0.8zM102.1 250.3h0.8v0.8h-0.8zM54.9 276.2h0.8v0.8h-0.8zM71.4 286.0h0.8v0.8h-0.8zM92.5 254.0h0.8v0.8h-0.8zM58.3 274.5h0.8v0.8h-0.8zM79.4 291.9h0.8v0.8h-0.8zM74.8 265.9h0.8v0.8h-0.8zM60.8 287.5h0.8v0.8h-0.8zM99.4 273.8h0.8v0.8h-0.8zM92.5 254.2h0.8v0.8h-0.8zM63.9 277.0h0.8v0.8h-0.8zM60.9 275.0h0.8v0.8h-0.8zM94.2 250.2h0.8v0.8h-0.8zM92.2 243.6h0.8v0.8h-0.8zM98.4 248.4h0.8v0.8h-0.8zM62.9 265.3h0.8v0.8h-0.8zM47.1 299.3h0.8v0.8h-0.8zM89.0 253.7h0.8v0.8h-0.8zM78.1 254.4h0.8v0.8h-0.8zM100.9 261.7h0.8v0.8h-0.8zM103.9 276.3h0.8v0.8h-0.8zM69.2 278.7h0.8v0.8h-0.8zM67.9 286.5h0.8v0.8h-0.8zM57.9 267.8h0.8v0.8h-0.8zM57.3 262.8h0.8v0.8h-0.8zM86.5 261.6h0.8v0.8h-0.8zM87.9 256.0h0.8v0.8h-0.8zM54.2 295.7h0.8v0.8h-0.8zM90.9 283.0h0.8v0.8h-0.8zM64.5 285.9h0.8v0.8h-0.8zM54.1 275.4h0.8v0.8h-0.8zM53.2 282.0h0.8v0.8h-0.8zM88.5 279.6h0.8v0.8h-0.8zM58.0 281.0h0.8v0.8h-0.8zM59.1 277.6h0.8v0.8h-0.8zM70.7 263.4h0.8v0.8h-0.8zM69.1 268.3h0.8v0.8h-0.8zM84.9 254.3h0.8v0.8h-0.8zM65.5 265.1h0.8v0.8h-0.8zM80.0 281.7h0.8v0.8h-0.8zM87.0 241.4h0.8v0.8h-0.8zM80.2 267.9h0.8v0.8h-0.8zM65.8 293.1h0.8v0.8h-0.8zM60.7 279.7h0.8v0.8h-0.8zM91.3 277.3h0.8v0.8h-0.8zM69.7 264.7h0.8v0.8h-0.8zM67.9 294.1h0.8v0.8h-0.8zM53.2 270.2h0.8v0.8h-0.8zM66.6 298.1h0.8v0.8h-0.8zM85.8 254.0h0.8v0.8h-0.8zM77.6 263.4h0.8v0.8h-0.8zM74.6 278.7h0.8v0.8h-0.8zM82.5 273.4h0.8v0.8h-0.8zM103.1 259.8h0.8v0.8h-0.8zM98.2 258.6h0.8v0.8h-0.8zM86.7 280.8h0.8v0.8h-0.8zM94.5 249.5h0.8v0.8h-0.8zM74.4 273.5h0.8v0.8h-0.8zM62.1 284.6h0.8v0.8h-0.8zM55.7 270.6h0.8v0.8h-0.8zM51.1 281.9h0.8v0.8h-0.8zM72.1 285.9h0.8v0.8h-0.8zM75.4 287.4h0.8v0.8h-0.8zM79.0 265.0h0.8v0.8h-0.8zM82.4 289.4h0.8v0.8h-0.8zM85.2 253.7h0.8v0.8h-0.8zM103.2 248.0h0.8v0.8h-0.8zM70.2 277.6h0.8v0.8h-0.8zM47.9 282.4h0.8v0.8h-0.8zM74.0 262.2h0.8v0.8h-0.8zM68.4 281.3h0.8v0.8h-0.8zM93.0 248.7h0.8v0.8h-0.8zM51.4 295.5h0.8v0.8h-0.8zM53.6 277.2h0.8v0.8h-0.8zM58.7 268.7h0.8v0.8h-0.8zM48.9 293.1h0.8v0.8h-0.8zM57.1 291.6h0.8v0.8h-0.8zM69.9 288.0h0.8v0.8h-0.8zM71.6 289.6h0.8v0.8h-0.8zM90.2 258.4h0.8v0.8h-0.8zM102.6 240.7h0.8v0.8h-0.8zM89.1 263.8h0.8v0.8h-0.8zM94.7 285.7h0.8v0.8h-0.8zM51.1 296.5h0.8v0.8h-0.8zM46.4 274.3h0.8v0.8h-0.8zM93.6 261.7h0.8v0.8h-0.8zM65.1 284.1h0.8v0.8h-0.8zM89.6 272.5h0.8v0.8h-0.8zM75.2 264.0h0.8v0.8h-0.8zM57.3 292.4h0.8v0.8h-0.8zM104.4 248.8h0.8v0.8h-0.8zM67.7 278.3h0.8v0.8h-0.8zM96.4 277.4h0.8v0.8h-0.8zM86.4 267.0h0.8v0.8h-0.8zM70.2 262.9h0.8v0.8h-0.8zM81.0 274.1h0.8v0.8h-0.8zM80.6 275.4h0.8v0.8h-0.8zM89.3 258.6h0.8v0.8h-0.8zM104.4 263.9h0.8v0.8h-0.8zM52.6 298.9h0.8v0.8h-0.8zM59.0 290.0h0.8v0.8h-0.8zM92.9 270.4h0.8v0.8h-0.8zM48.9 291.8h0.8v0.8h-0.8zM60.0 288.0h0.8v0.8h-0.8zM77.2 291.5h0.8v0.8h-0.8zM61.8 278.3h0.8v0.8h-0.8zM78.3 286.8h0.8v0.8h-0.8zM91.2 272.7h0.8v0.8h-0.8zM92.8 249.0h0.8v0.8h-0.8zM65.7 291.5h0.8v0.8h-0.8zM68.3 290.5h0.8v0.8h-0.8zM86.6 267.8h0.8v0.8h-0.8zM52.0 296.0h0.8v0.8h-0.8zM86.5 283.8h0.8v0.8h-0.8zM63.6 264.3h0.8v0.8h-0.8zM69.5 267.2h0.8v0.8h-0.8zM101.5 260.6h0.8v0.8h-0.8zM59.1 274.5h0.8v0.8h-0.8zM97.4 257.0h0.8v0.8h-0.8zM68.3 284.2h0.8v0.8h-0.8zM62.6 281.3h0.8v0.8h-0.8zM59.7 264.5h0.8v0.8h-0.8zM98.7 255.0h0.8v0.8h-0.8zM65.5 288.8h0.8v0.8h-0.8zM80.4 272.5h0.8v0.8h-0.8zM98.8 245.3h0.8v0.8h-0.8zM67.5 283.0h0.8v0.8h-0.8zM65.6 293.4h0.8v0.8h-0.8zM66.7 267.7h0.8v0.8h-0.8zM85.3 276.0h0.8v0.8h-0.8zM68.7 289.3h0.8v0.8h-0.8zM69.1 279.0h0.8v0.8h-0.8zM104.4 252.5h0.8v0.8h-0.8zM83.9 277.1h0.8v0.8h-0.8zM60.2 288.3h0.8v0.8h-0.8zM91.6 247.1h0.8v0.8h-0.8zM98.7 241.4h0.8v0.8h-0.8zM77.2 271.8h0.8v0.8h-0.8zM92.4 257.9h0.8v0.8h-0.8zM52.5 273.8h0.8v0.8h-0.8zM50.3 270.5h0.8v0.8h-0.8zM91.6 254.7h0.8v0.8h-0.8zM72.1 273.2h0.8v0.8h-0.8zM54.3 297.7h0.8v0.8h-0.8zM102.8 264.6h0.8v0.8h-0.8zM54.2 288.7h0.8v0.8h-0.8zM87.8 249.3h0.8v0.8h-0.8zM63.0 297.5h0.8v0.8h-0.8zM95.9 242.7h0.8v0.8h-0.8zM51.7 294.7h0.8v0.8h-0.8zM74.3 278.9h0.8v0.8h-0.8zM101.8 273.8h0.8v0.8h-0.8zM99.2 263.5h0.8v0.8h-0.8zM89.4 255.4h0.8v0.8h-0.8zM70.8 268.4h0.8v0.8h-0.8zM70.8 266.8h0.8v0.8h-0.8zM95.1 243.7h0.8v0.8h-0.8zM77.9 263.8h0.8v0.8h-0.8zM63.9 268.8h0.8v0.8h-0.8zM90.0 269.0h0.8v0.8h-0.8zM102.6 261.8h0.8v0.8h-0.8zM80.4 258.8h0.8v0.8h-0.8zM76.0 284.8h0.8v0.8h-0.8zM61.2 287.3h0.8v0.8h-0.8zM96.6 263.9h0.8v0.8h-0.8zM94.9 259.5h0.8v0.8h-0.8zM100.6 278.0h0.8v0.8h-0.8zM71.4 284.7h0.8v0.8h-0.8zM71.9 266.0h0.8v0.8h-0.8zM64.2 283.7h0.8v0.8h-0.8zM52.0 289.6h0.8v0.8h-0.8zM77.9 246.7h0.8v0.8h-0.8zM63.6 296.8h0.8v0.8h-0.8zM100.3 252.6h0.8v0.8h-0.8zM77.2 289.9h0.8v0.8h-0.8zM97.4 268.1h0.8v0.8h-0.8zM100.7 269.4h0.8v0.8h-0.8zM68.3 286.3h0.8v0.8h-0.8zM89.5 249.9h0.8v0.8h-0.8zM57.1 260.6h0.8v0.8h-0.8zM66.0 275.2h0.8v0.8h-0.8zM66.5 274.7h0.8v0.8h-0.8zM103.8 259.5h0.8v0.8h-0.8zM79.5 255.3h0.8v0.8h-0.8zM94.5 262.5h0.8v0.8h-0.8zM71.0 276.7h0.8v0.8h-0.8zM72.3 269.0h0.8v0.8h-0.8zM90.2 246.1h0.8v0.8h-0.8zM79.1 272.8h0.8v0.8h-0.8zM54.1 296.6h0.8v0.8h-0.8zM77.1 276.3h0.8v0.8h-0.8zM90.9 274.7h0.8v0.8h-0.8zM100.4 281.0h0.8v0.8h-0.8zM102.1 282.8h0.8v0.8h-0.8zM96.5 283.2h0.8v0.8h-0.8zM77.2 255.1h0.8v0.8h-0.8zM74.1 256.2h0.8v0.8h-0.8zM81.6 272.4h0.8v0.8h-0.8zM77.1 279.3h0.8v0.8h-0.8zM91.5 255.5h0.8v0.8h-0.8zM101.2 261.6h0.8v0.8h-0.8zM59.0 266.9h0.8v0.8h-0.8zM75.3 273.7h0.8v0.8h-0.8zM58.9 296.5h0.8v0.8h-0.8zM101.4 279.1h0.8v0.8h-0.8zM99.1 246.1h0.8v0.8h-0.8zM52.2 298.8h0.8v0.8h-0.8zM92.1 271.0h0.8v0.8h-0.8zM66.3 269.7h0.8v0.8h-0.8zM87.3 264.8h0.8v0.8h-0.8zM103.4 273.4h0.8v0.8h-0.8zM80.4 280.8h0.8v0.8h-0.8zM94.8 281.0h0.8v0.8h-0.8zM79.8 285.1h0.8v0.8h-0.8zM95.0 264.3h0.8v0.8h-0.8zM91.2 255.6h0.8v0.8h-0.8zM60.6 271.1h0.8v0.8h-0.8zM97.6 251.0h0.8v0.8h-0.8zM85.4 287.0h0.8v0.8h-0.8zM49.7 285.4h0.8v0.8h-0.8zM104.4 263.0h0.8v0.8h-0.8zM92.4 286.5h0.8v0.8h-0.8zM92.4 262.6h0.8v0.8h-0.8zM80.6 284.1h0.8v0.8h-0.8zM94.1 240.8h0.8v0.8h-0.8zM99.9 248.5h0.8v0.8h-0.8zM100.9 260.3h0.8v0.8h-0.8zM72.2 262.2h0.8v0.8h-0.8zM61.4 295.9h0.8v0.8h-0.8zM56.1 260.7h0.8v0.8h-0.8zM63.4 250.9h0.8v0.8h-0.8zM76.6 272.1h0.8v0.8h-0.8zM90.7 271.3h0.8v0.8h-0.8zM75.2 249.5h0.8v0.8h-0.8zM103.4 267.4h0.8v0.8h-0.8zM95.8 267.7h0.8v0.8h-0.8zM46.5 285.4h0.8v0.8h-0.8zM55.4 283.8h0.8v0.8h-0.8zM92.9 269.7h0.8v0.8h-0.8zM72.9 250.9h0.8v0.8h-0.8zM60.6 276.8h0.8v0.8h-0.8zM73.4 277.1h0.8v0.8h-0.8zM66.4 292.6h0.8v0.8h-0.8zM70.0 272.1h0.8v0.8h-0.8zM64.9 294.4h0.8v0.8h-0.8zM97.9 249.7h0.8v0.8h-0.8zM104.1 257.2h0.8v0.8h-0.8zM88.4 254.0h0.8v0.8h-0.8zM54.5 296.4h0.8v0.8h-0.8zM50.8 280.9h0.8v0.8h-0.8zM75.9 262.5h0.8v0.8h-0.8zM82.9 267.5h0.8v0.8h-0.8zM74.9 268.7h0.8v0.8h-0.8zM103.2 256.7h0.8v0.8h-0.8zM50.1 287.6h0.8v0.8h-0.8zM60.3 293.7h0.8v0.8h-0.8zM74.4 268.7h0.8v0.8h-0.8zM95.5 269.9h0.8v0.8h-0.8zM86.1 287.4h0.8v0.8h-0.8zM55.6 288.5h0.8v0.8h-0.8zM59.6 294.7h0.8v0.8h-0.8zM101.0 278.3h0.8v0.8h-0.8zM97.3 258.5h0.8v0.8h-0.8zM86.7 285.1h0.8v0.8h-0.8zM83.3 269.3h0.8v0.8h-0.8zM54.7 287.3h0.8v0.8h-0.8zM84.2 286.1h0.8v0.8h-0.8zM75.9 258.8h0.8v0.8h-0.8zM101.5 259.7h0.8v0.8h-0.8zM91.4 259.8h0.8v0.8h-0.8zM76.4 269.0h0.8v0.8h-0.8zM96.8 271.9h0.8v0.8h-0.8zM89.7 254.9h0.8v0.8h-0.8zM79.8 254.4h0.8v0.8h-0.8zM83.4 264.7h0.8v0.8h-0.8zM90.7 273.0h0.8v0.8h-0.8zM88.6 259.0h0.8v0.8h-0.8zM83.9 282.0h0.8v0.8h-0.8zM61.2 281.3h0.8v0.8h-0.8zM89.7 264.0h0.8v0.8h-0.8zM85.9 276.6h0.8v0.8h-0.8zM87.6 247.6h0.8v0.8h-0.8zM73.4 241.0h0.8v0.8h-0.8zM68.5 267.9h0.8v0.8h-0.8zM74.2 275.0h0.8v0.8h-0.8zM104.0 247.1h0.8v0.8h-0.8zM58.3 291.5h0.8v0.8h-0.8zM60.4 287.1h0.8v0.8h-0.8zM71.9 261.8h0.8v0.8h-0.8zM69.1 279.9h0.8v0.8h-0.8zM84.3 279.8h0.8v0.8h-0.8zM65.5 282.3h0.8v0.8h-0.8zM70.0 285.6h0.8v0.8h-0.8zM81.8 253.1h0.8v0.8h-0.8zM104.6 251.7h0.8v0.8h-0.8zM95.2 263.3h0.8v0.8h-0.8zM87.7 285.3h0.8v0.8h-0.8zM53.2 286.4h0.8v0.8h-0.8zM61.5 273.7h0.8v0.8h-0.8zM98.6 279.5h0.8v0.8h-0.8zM93.4 265.0h0.8v0.8h-0.8zM81.4 267.4h0.8v0.8h-0.8zM104.5 273.9h0.8v0.8h-0.8zM66.2 285.2h0.8v0.8h-0.8zM63.0 281.2h0.8v0.8h-0.8zM94.7 262.6h0.8v0.8h-0.8zM66.5 272.0h0.8v0.8h-0.8zM67.5 279.1h0.8v0.8h-0.8zM63.7 291.9h0.8v0.8h-0.8zM92.6 284.0h0.8v0.8h-0.8zM74.3 281.4h0.8v0.8h-0.8zM65.2 292.3h0.8v0.8h-0.8zM73.4 258.7h0.8v0.8h-0.8zM93.7 273.9h0.8v0.8h-0.8zM104.2 253.3h0.8v0.8h-0.8zM65.5 266.2h0.8v0.8h-0.8zM85.6 250.2h0.8v0.8h-0.8zM97.3 253.5h0.8v0.8h-0.8zM58.7 282.8h0.8v0.8h-0.8zM77.6 274.7h0.8v0.8h-0.8zM104.1 275.7h0.8v0.8h-0.8zM46.3 281.5h0.8v0.8h-0.8zM61.4 279.7h0.8v0.8h-0.8zM64.3 267.8h0.8v0.8h-0.8zM78.7 261.2h0.8v0.8h-0.8zM80.5 256.0h0.8v0.8h-0.8zM95.8 267.9h0.8v0.8h-0.8zM63.7 292.8h0.8v0.8h-0.8zM82.4 279.2h0.8v0.8h-0.8zM75.0 264.6h0.8v0.8h-0.8zM75.2 267.9h0.8v0.8h-0.8zM77.0 286.9h0.8v0.8h-0.8zM92.8 276.9h0.8v0.8h-0.8zM56.5 291.7h0.8v0.8h-0.8zM86.0 281.2h0.8v0.8h-0.8zM72.3 263.6h0.8v0.8h-0.8zM103.3 272.3h0.8v0.8h-0.8zM63.6 291.3h0.8v0.8h-0.8zM68.4 278.1h0.8v0.8h-0.8zM71.1 285.4h0.8v0.8h-0.8zM99.0 280.1h0.8v0.8h-0.8zM71.8 272.3h0.8v0.8h-0.8zM79.7 277.6h0.8v0.8h-0.8zM58.2 279.1h0.8v0.8h-0.8zM49.4 285.3h0.8v0.8h-0.8zM102.5 273.2h0.8v0.8h-0.8zM88.4 285.1h0.8v0.8h-0.8zM47.1 287.5h0.8v0.8h-0.8zM101.1 242.6h0.8v0.8h-0.8zM68.0 289.0h0.8v0.8h-0.8zM87.9 251.0h0.8v0.8h-0.8zM103.1 254.3h0.8v0.8h-0.8zM100.1 280.1h0.8v0.8h-0.8zM62.4 290.3h0.8v0.8h-0.8zM103.8 279.8h0.8v0.8h-0.8zM68.0 282.7h0.8v0.8h-0.8zM68.0 271.6h0.8v0.8h-0.8zM46.7 298.5h0.8v0.8h-0.8zM99.9 250.7h0.8v0.8h-0.8zM75.0 285.6h0.8v0.8h-0.8zM73.1 290.2h0.8v0.8h-0.8zM89.7 285.3h0.8v0.8h-0.8zM48.1 289.1h0.8v0.8h-0.8zM46.7 292.2h0.8v0.8h-0.8zM95.8 275.8h0.8v0.8h-0.8zM62.2 251.4h0.8v0.8h-0.8zM57.0 278.1h0.8v0.8h-0.8zM55.1 271.9h0.8v0.8h-0.8zM68.3 268.2h0.8v0.8h-0.8zM81.9 251.5h0.8v0.8h-0.8zM45.6 292.8h0.8v0.8h-0.8zM87.5 262.1h0.8v0.8h-0.8zM99.5 242.4h0.8v0.8h-0.8zM62.6 284.6h0.8v0.8h-0.8zM98.9 274.3h0.8v0.8h-0.8zM52.9 286.5h0.8v0.8h-0.8zM82.7 256.6h0.8v0.8h-0.8zM81.4 251.4h0.8v0.8h-0.8zM56.4 290.5h0.8v0.8h-0.8zM78.4 260.2h0.8v0.8h-0.8zM70.3 258.9h0.8v0.8h-0.8zM63.8 284.1h0.8v0.8h-0.8zM103.0 252.1h0.8v0.8h-0.8zM79.3 280.1h0.8v0.8h-0.8zM94.5 280.7h0.8v0.8h-0.8zM96.4 262.1h0.8v0.8h-0.8zM83.5 241.5h0.8v0.8h-0.8zM48.8 271.6h0.8v0.8h-0.8zM81.2 289.0h0.8v0.8h-0.8zM98.0 273.0h0.8v0.8h-0.8zM96.8 280.3h0.8v0.8h-0.8zM62.2 286.1h0.8v0.8h-0.8zM60.8 275.8h0.8v0.8h-0.8zM75.6 243.5h0.8v0.8h-0.8zM81.4 280.6h0.8v0.8h-0.8zM92.6 257.3h0.8v0.8h-0.8zM75.3 287.8h0.8v0.8h-0.8zM100.2 268.8h0.8v0.8h-0.8zM49.8 280.3h0.8v0.8h-0.8zM90.8 266.4h0.8v0.8h-0.8zM67.1 292.9h0.8v0.8h-0.8zM45.7 292.7h0.8v0.8h-0.8zM48.9 280.2h0.8v0.8h-0.8zM71.8 276.0h0.8v0.8h-0.8zM101.1 259.9h0.8v0.8h-0.8zM91.8 246.5h0.8v0.8h-0.8zM92.4 252.3h0.8v0.8h-0.8zM81.2 268.0h0.8v0.8h-0.8zM100.0 252.4h0.8v0.8h-0.8zM96.9 254.8h0.8v0.8h-0.8zM90.6 260.0h0.8v0.8h-0.8zM86.8 283.3h0.8v0.8h-0.8zM55.2 289.2h0.8v0.8h-0.8zM83.7 261.7h0.8v0.8h-0.8zM55.6 298.0h0.8v0.8h-0.8zM81.8 285.8h0.8v0.8h-0.8zM69.4 278.6h0.8v0.8h-0.8zM93.0 280.2h0.8v0.8h-0.8zM68.2 278.2h0.8v0.8h-0.8zM63.2 262.5h0.8v0.8h-0.8zM66.2 268.2h0.8v0.8h-0.8zM62.4 265.3h0.8v0.8h-0.8zM93.2 259.4h0.8v0.8h-0.8zM92.5 275.9h0.8v0.8h-0.8zM72.2 275.6h0.8v0.8h-0.8zM66.2 297.9h0.8v0.8h-0.8zM50.4 273.2h0.8v0.8h-0.8zM54.4 299.0h0.8v0.8h-0.8zM90.5 278.4h0.8v0.8h-0.8zM91.7 279.8h0.8v0.8h-0.8zM76.8 264.6h0.8v0.8h-0.8zM87.8 281.0h0.8v0.8h-0.8zM102.5 258.4h0.8v0.8h-0.8zM72.9 273.6h0.8v0.8h-0.8zM91.7 259.7h0.8v0.8h-0.8zM50.6 292.6h0.8v0.8h-0.8zM61.0 285.7h0.8v0.8h-0.8zM85.0 264.6h0.8v0.8h-0.8zM57.2 267.5h0.8v0.8h-0.8zM85.5 246.4h0.8v0.8h-0.8zM103.6 250.6h0.8v0.8h-0.8zM91.6 266.0h0.8v0.8h-0.8zM73.1 262.0h0.8v0.8h-0.8zM86.1 282.3h0.8v0.8h-0.8zM79.0 248.6h0.8v0.8h-0.8zM68.2 261.4h0.8v0.8h-0.8zM67.1 258.5h0.8v0.8h-0.8zM80.4 289.9h0.8v0.8h-0.8zM45.9 285.5h0.8v0.8h-0.8zM88.4 287.1h0.8v0.8h-0.8zM89.2 258.0h0.8v0.8h-0.8zM57.0 287.9h0.8v0.8h-0.8zM96.9 270.3h0.8v0.8h-0.8zM101.6 275.4h0.8v0.8h-0.8zM88.9 260.3h0.8v0.8h-0.8zM69.7 272.5h0.8v0.8h-0.8zM78.9 257.3h0.8v0.8h-0.8zM85.5 260.0h0.8v0.8h-0.8zM67.7 256.1h0.8v0.8h-0.8zM62.8 257.7h0.8v0.8h-0.8zM46.2 292.3h0.8v0.8h-0.8zM71.6 271.3h0.8v0.8h-0.8zM51.1 286.7h0.8v0.8h-0.8zM75.2 287.1h0.8v0.8h-0.8zM98.6 283.2h0.8v0.8h-0.8zM72.7 271.7h0.8v0.8h-0.8zM76.5 288.7h0.8v0.8h-0.8zM67.5 296.4h0.8v0.8h-0.8zM74.3 283.8h0.8v0.8h-0.8zM98.0 240.4h0.8v0.8h-0.8zM91.6 256.4h0.8v0.8h-0.8zM87.6 283.5h0.8v0.8h-0.8zM101.1 271.4h0.8v0.8h-0.8zM73.8 260.1h0.8v0.8h-0.8zM52.4 266.5h0.8v0.8h-0.8zM85.3 246.5h0.8v0.8h-0.8zM69.6 268.1h0.8v0.8h-0.8zM94.7 253.6h0.8v0.8h-0.8zM72.6 278.3h0.8v0.8h-0.8zM88.0 268.1h0.8v0.8h-0.8zM91.0 270.3h0.8v0.8h-0.8zM76.5 279.4h0.8v0.8h-0.8zM88.8 269.0h0.8v0.8h-0.8zM104.4 266.6h0.8v0.8h-0.8zM84.9 281.3h0.8v0.8h-0.8zM88.4 287.8h0.8v0.8h-0.8zM77.9 246.5h0.8v0.8h-0.8zM68.9 254.6h0.8v0.8h-0.8zM99.8 280.3h0.8v0.8h-0.8zM97.1 276.2h0.8v0.8h-0.8zM81.8 261.1h0.8v0.8h-0.8zM49.3 279.5h0.8v0.8h-0.8zM85.1 276.1h0.8v0.8h-0.8zM104.4 267.3h0.8v0.8h-0.8zM81.9 278.0h0.8v0.8h-0.8zM81.7 261.6h0.8v0.8h-0.8zM94.8 277.2h0.8v0.8h-0.8zM80.6 290.7h0.8v0.8h-0.8zM104.5 267.5h0.8v0.8h-0.8zM70.4 287.7h0.8v0.8h-0.8zM103.6 251.6h0.8v0.8h-0.8zM63.1 293.3h0.8v0.8h-0.8zM74.3 271.2h0.8v0.8h-0.8zM62.1 288.5h0.8v0.8h-0.8zM87.0 275.4h0.8v0.8h-0.8zM89.5 243.3h0.8v0.8h-0.8zM85.1 255.5h0.8v0.8h-0.8zM63.2 276.1h0.8v0.8h-0.8zM100.3 255.1h0.8v0.8h-0.8zM50.4 274.6h0.8v0.8h-0.8zM50.9 296.5h0.8v0.8h-0.8zM88.0 271.4h0.8v0.8h-0.8zM94.1 269.5h0.8v0.8h-0.8zM46.7 281.6h0.8v0.8h-0.8zM79.7 264.6h0.8v0.8h-0.8zM66.0 285.9h0.8v0.8h-0.8zM103.9 275.0h0.8v0.8h-0.8zM81.7 277.0h0.8v0.8h-0.8zM74.6 265.0h0.8v0.8h-0.8zM102.1 258.7h0.8v0.8h-0.8zM76.9 246.1h0.8v0.8h-0.8zM48.0 281.8h0.8v0.8h-0.8zM88.6 254.6h0.8v0.8h-0.8zM100.4 272.2h0.8v0.8h-0.8zM67.1 294.1h0.8v0.8h-0.8zM97.8 261.0h0.8v0.8h-0.8zM82.0 279.1h0.8v0.8h-0.8zM77.2 282.5h0.8v0.8h-0.8zM86.7 253.3h0.8v0.8h-0.8zM50.4 281.3h0.8v0.8h-0.8zM97.9 263.2h0.8v0.8h-0.8zM93.2 276.1h0.8v0.8h-0.8zM51.9 278.2h0.8v0.8h-0.8zM53.6 269.2h0.8v0.8h-0.8zM97.1 280.6h0.8v0.8h-0.8zM74.3 294.3h0.8v0.8h-0.8zM58.0 260.5h0.8v0.8h-0.8zM90.9 268.2h0.8v0.8h-0.8zM61.3 276.7h0.8v0.8h-0.8zM94.1 284.0h0.8v0.8h-0.8zM72.4 266.2h0.8v0.8h-0.8zM92.3 273.9h0.8v0.8h-0.8zM53.7 267.3h0.8v0.8h-0.8zM81.6 291.6h0.8v0.8h-0.8zM95.4 274.8h0.8v0.8h-0.8zM83.0 242.9h0.8v0.8h-0.8zM70.9 290.2h0.8v0.8h-0.8zM80.5 255.4h0.8v0.8h-0.8zM61.8 276.1h0.8v0.8h-0.8zM65.7 296.8h0.8v0.8h-0.8zM60.4 278.5h0.8v0.8h-0.8zM81.6 254.4h0.8v0.8h-0.8zM103.8 275.9h0.8v0.8h-0.8zM82.4 274.6h0.8v0.8h-0.8zM67.8 273.9h0.8v0.8h-0.8zM88.2 253.4h0.8v0.8h-0.8zM77.8 270.8h0.8v0.8h-0.8zM78.2 280.4h0.8v0.8h-0.8zM78.2 254.0h0.8v0.8h-0.8zM71.4 292.8h0.8v0.8h-0.8zM62.6 274.2h0.8v0.8h-0.8zM61.7 252.1h0.8v0.8h-0.8zM49.8 271.2h0.8v0.8h-0.8zM83.6 275.7h0.8v0.8h-0.8zM73.8 276.4h0.8v0.8h-0.8zM72.8 281.0h0.8v0.8h-0.8zM89.0 274.8h0.8v0.8h-0.8zM82.0 272.7h0.8v0.8h-0.8zM89.1 282.8h0.8v0.8h-0.8zM82.3 262.9h0.8v0.8h-0.8zM81.9 286.6h0.8v0.8h-0.8zM89.5 275.9h0.8v0.8h-0.8zM77.9 279.7h0.8v0.8h-0.8zM55.6 282.4h0.8v0.8h-0.8zM50.3 291.1h0.8v0.8h-0.8zM71.9 277.9h0.8v0.8h-0.8zM97.2 246.8h0.8v0.8h-0.8zM80.9 256.1h0.8v0.8h-0.8zM74.3 257.1h0.8v0.8h-0.8zM73.4 287.3h0.8v0.8h-0.8zM59.2 298.1h0.8v0.8h-0.8zM71.2 280.7h0.8v0.8h-0.8zM76.4 272.6h0.8v0.8h-0.8zM50.5 298.8h0.8v0.8h-0.8zM48.2 288.7h0.8v0.8h-0.8zM74.7 290.2h0.8v0.8h-0.8zM85.4 254.3h0.8v0.8h-0.8zM93.3 256.3h0.8v0.8h-0.8zM58.6 281.0h0.8v0.8h-0.8zM65.0 299.3h0.8v0.8h-0.8zM75.6 250.6h0.8v0.8h-0.8zM83.7 246.1h0.8v0.8h-0.8zM50.1 272.3h0.8v0.8h-0.8zM60.8 285.6h0.8v0.8h-0.8zM82.3 266.5h0.8v0.8h-0.8zM62.0 296.1h0.8v0.8h-0.8zM72.2 285.7h0.8v0.8h-0.8zM100.3 280.9h0.8v0.8h-0.8zM76.5 261.2h0.8v0.8h-0.8zM60.2 264.0h0.8v0.8h-0.8zM80.8 265.6h0.8v0.8h-0.8zM70.5 286.6h0.8v0.8h-0.8zM51.3 269.3h0.8v0.8h-0.8zM62.9 296.4h0.8v0.8h-0.8zM89.0 279.4h0.8v0.8h-0.8zM91.0 244.0h0.8v0.8h-0.8zM91.7 285.6h0.8v0.8h-0.8zM75.5 287.6h0.8v0.8h-0.8zM76.5 251.0h0.8v0.8h-0.8zM72.6 277.8h0.8v0.8h-0.8zM76.9 292.4h0.8v0.8h-0.8zM86.4 272.9h0.8v0.8h-0.8zM51.1 279.3h0.8v0.8h-0.8zM81.7 272.7h0.8v0.8h-0.8zM70.8 254.2h0.8v0.8h-0.8zM70.8 277.6h0.8v0.8h-0.8zM63.8 289.3h0.8v0.8h-0.8zM78.4 270.9h0.8v0.8h-0.8zM92.5 256.6h0.8v0.8h-0.8zM97.8 244.1h0.8v0.8h-0.8zM101.3 280.1h0.8v0.8h-0.8zM95.0 250.6h0.8v0.8h-0.8zM74.7 288.6h0.8v0.8h-0.8zM85.0 248.4h0.8v0.8h-0.8zM88.3 273.8h0.8v0.8h-0.8zM82.7 290.8h0.8v0.8h-0.8zM66.1 274.6h0.8v0.8h-0.8zM81.5 279.2h0.8v0.8h-0.8zM98.9 260.7h0.8v0.8h-0.8zM59.6 296.6h0.8v0.8h-0.8zM55.7 283.5h0.8v0.8h-0.8zM68.1 262.5h0.8v0.8h-0.8zM50.6 287.3h0.8v0.8h-0.8zM97.8 282.0h0.8v0.8h-0.8zM69.8 275.3h0.8v0.8h-0.8zM45.4 284.9h0.8v0.8h-0.8zM59.1 276.7h0.8v0.8h-0.8zM102.4 266.7h0.8v0.8h-0.8zM63.6 297.0h0.8v0.8h-0.8zM101.4 244.7h0.8v0.8h-0.8zM88.4 269.5h0.8v0.8h-0.8zM85.5 245.5h0.8v0.8h-0.8zM76.5 285.1h0.8v0.8h-0.8zM50.7 283.3h0.8v0.8h-0.8zM53.4 269.2h0.8v0.8h-0.8zM92.1 270.1h0.8v0.8h-0.8zM94.2 263.2h0.8v0.8h-0.8zM77.4 249.2h0.8v0.8h-0.8zM105.0 272.4h0.8v0.8h-0.8zM81.1 268.4h0.8v0.8h-0.8zM83.5 266.4h0.8v0.8h-0.8zM51.8 285.4h0.8v0.8h-0.8zM62.2 286.5h0.8v0.8h-0.8zM62.4 263.3h0.8v0.8h-0.8zM77.4 280.6h0.8v0.8h-0.8zM71.2 276.4h0.8v0.8h-0.8zM84.2 260.4h0.8v0.8h-0.8zM76.6 243.3h0.8v0.8h-0.8zM87.9 249.9h0.8v0.8h-0.8zM104.7 276.3h0.8v0.8h-0.8zM96.7 270.2h0.8v0.8h-0.8zM81.9 269.2h0.8v0.8h-0.8zM69.7 250.7h0.8v0.8h-0.8zM92.7 270.7h0.8v0.8h-0.8zM81.9 289.4h0.8v0.8h-0.8zM55.8 296.6h0.8v0.8h-0.8zM75.5 267.4h0.8v0.8h-0.8zM83.7 279.6h0.8v0.8h-0.8zM102.1 265.2h0.8v0.8h-0.8zM100.6 278.6h0.8v0.8h-0.8zM89.8 284.1h0.8v0.8h-0.8zM55.5 287.5h0.8v0.8h-0.8zM83.2 244.5h0.8v0.8h-0.8zM89.0 246.6h0.8v0.8h-0.8zM69.8 290.7h0.8v0.8h-0.8zM64.2 296.9h0.8v0.8h-0.8zM99.5 273.7h0.8v0.8h-0.8zM89.4 278.6h0.8v0.8h-0.8zM90.6 269.9h0.8v0.8h-0.8zM72.7 266.5h0.8v0.8h-0.8zM92.3 275.0h0.8v0.8h-0.8zM61.3 293.3h0.8v0.8h-0.8zM81.1 276.9h0.8v0.8h-0.8zM78.5 283.1h0.8v0.8h-0.8zM55.1 279.7h0.8v0.8h-0.8zM89.1 272.8h0.8v0.8h-0.8zM72.1 243.0h0.8v0.8h-0.8zM81.4 276.0h0.8v0.8h-0.8zM63.3 253.3h0.8v0.8h-0.8zM85.4 256.4h0.8v0.8h-0.8zM60.5 284.4h0.8v0.8h-0.8zM80.7 283.8h0.8v0.8h-0.8zM50.7 278.7h0.8v0.8h-0.8zM76.9 260.3h0.8v0.8h-0.8zM97.3 257.7h0.8v0.8h-0.8zM103.8 262.6h0.8v0.8h-0.8zM65.3 280.3h0.8v0.8h-0.8zM100.0 271.6h0.8v0.8h-0.8zM91.6 270.2h0.8v0.8h-0.8zM83.1 273.7h0.8v0.8h-0.8zM47.9 285.2h0.8v0.8h-0.8zM51.2 294.9h0.8v0.8h-0.8zM80.7 274.8h0.8v0.8h-0.8zM66.2 295.5h0.8v0.8h-0.8zM56.8 267.3h0.8v0.8h-0.8zM75.8 244.2h0.8v0.8h-0.8zM75.5 272.0h0.8v0.8h-0.8zM48.1 290.1h0.8v0.8h-0.8zM58.3 264.4h0.8v0.8h-0.8zM77.8 278.1h0.8v0.8h-0.8zM58.1 275.9h0.8v0.8h-0.8zM82.0 277.3h0.8v0.8h-0.8zM59.0 254.2h0.8v0.8h-0.8zM48.4 274.6h0.8v0.8h-0.8zM53.8 297.5h0.8v0.8h-0.8zM66.7 258.4h0.8v0.8h-0.8zM71.9 268.7h0.8v0.8h-0.8zM75.0 287.7h0.8v0.8h-0.8zM90.2 286.3h0.8v0.8h-0.8zM89.4 260.9h0.8v0.8h-0.8zM88.5 281.2h0.8v0.8h-0.8zM80.7 279.3h0.8v0.8h-0.8zM63.7 282.5h0.8v0.8h-0.8zM82.1 263.6h0.8v0.8h-0.8zM103.4 245.5h0.8v0.8h-0.8zM81.8 276.5h0.8v0.8h-0.8zM97.3 265.9h0.8v0.8h-0.8zM85.0 287.9h0.8v0.8h-0.8zM88.3 274.9h0.8v0.8h-0.8zM79.2 259.2h0.8v0.8h-0.8zM89.2 260.4h0.8v0.8h-0.8zM101.4 243.7h0.8v0.8h-0.8zM72.6 286.9h0.8v0.8h-0.8zM84.6 243.1h0.8v0.8h-0.8zM80.1 283.1h0.8v0.8h-0.8zM69.9 259.8h0.8v0.8h-0.8zM52.6 276.6h0.8v0.8h-0.8zM95.8 275.6h0.8v0.8h-0.8zM53.2 266.0h0.8v0.8h-0.8zM98.3 247.5h0.8v0.8h-0.8zM52.7 271.6h0.8v0.8h-0.8zM65.1 260.8h0.8v0.8h-0.8zM89.3 261.9h0.8v0.8h-0.8zM71.3 288.4h0.8v0.8h-0.8zM79.9 255.2h0.8v0.8h-0.8zM88.5 245.0h0.8v0.8h-0.8zM56.9 274.3h0.8v0.8h-0.8zM59.3 255.7h0.8v0.8h-0.8zM95.1 280.8h0.8v0.8h-0.8zM65.2 265.5h0.8v0.8h-0.8zM57.6 259.0h0.8v0.8h-0.8zM95.9 246.7h0.8v0.8h-0.8zM102.9 277.8h0.8v0.8h-0.8zM81.8 242.3h0.8v0.8h-0.8zM89.4 279.4h0.8v0.8h-0.8zM101.2 257.7h0.8v0.8h-0.8zM77.4 269.0h0.8v0.8h-0.8zM68.7 290.7h0.8v0.8h-0.8zM66.0 259.1h0.8v0.8h-0.8zM91.4 257.5h0.8v0.8h-0.8zM70.6 274.4h0.8v0.8h-0.8zM60.3 284.6h0.8v0.8h-0.8zM99.9 272.4h0.8v0.8h-0.8zM66.3 287.0h0.8v0.8h-0.8zM79.0 263.0h0.8v0.8h-0.8zM101.7 244.1h0.8v0.8h-0.8zM87.3 252.9h0.8v0.8h-0.8zM87.8 259.8h0.8v0.8h-0.8zM56.7 264.3h0.8v0.8h-0.8zM74.9 284.9h0.8v0.8h-0.8zM89.2 245.4h0.8v0.8h-0.8zM67.4 254.5h0.8v0.8h-0.8zM83.1 265.6h0.8v0.8h-0.8zM74.7 270.1h0.8v0.8h-0.8zM99.4 243.3h0.8v0.8h-0.8zM92.6 258.8h0.8v0.8h-0.8zM65.6 283.4h0.8v0.8h-0.8zM82.4 246.1h0.8v0.8h-0.8zM78.6 276.4h0.8v0.8h-0.8zM96.9 256.2h0.8v0.8h-0.8zM82.3 253.8h0.8v0.8h-0.8zM91.3 275.1h0.8v0.8h-0.8zM95.9 256.0h0.8v0.8h-0.8zM83.4 277.5h0.8v0.8h-0.8zM99.8 267.8h0.8v0.8h-0.8zM62.6 283.5h0.8v0.8h-0.8zM84.3 241.7h0.8v0.8h-0.8zM104.1 262.3h0.8v0.8h-0.8zM105.0 275.1h0.8v0.8h-0.8zM74.0 277.1h0.8v0.8h-0.8zM61.5 257.3h0.8v0.8h-0.8zM86.7 245.2h0.8v0.8h-0.8zM91.9 279.8h0.8v0.8h-0.8zM57.4 270.4h0.8v0.8h-0.8zM76.2 241.9h0.8v0.8h-0.8zM73.5 253.0h0.8v0.8h-0.8zM99.8 248.1h0.8v0.8h-0.8zM97.7 240.9h0.8v0.8h-0.8zM90.7 286.8h0.8v0.8h-0.8zM97.3 282.2h0.8v0.8h-0.8zM45.4 295.8h0.8v0.8h-0.8zM95.9 240.7h0.8v0.8h-0.8zM92.8 278.7h0.8v0.8h-0.8zM69.1 287.2h0.8v0.8h-0.8zM76.8 284.0h0.8v0.8h-0.8zM76.2 280.4h0.8v0.8h-0.8zM94.9 249.4h0.8v0.8h-0.8zM87.4 288.5h0.8v0.8h-0.8zM96.1 285.0h0.8v0.8h-0.8zM54.6 294.0h0.8v0.8h-0.8zM52.2 281.7h0.8v0.8h-0.8zM99.9 266.4h0.8v0.8h-0.8zM59.0 290.4h0.8v0.8h-0.8zM64.3 275.2h0.8v0.8h-0.8zM48.9 289.9h0.8v0.8h-0.8zM93.1 242.1h0.8v0.8h-0.8zM58.8 288.6h0.8v0.8h-0.8zM68.2 290.4h0.8v0.8h-0.8zM59.4 284.2h0.8v0.8h-0.8zM91.0 279.2h0.8v0.8h-0.8zM73.2 265.2h0.8v0.8h-0.8zM78.3 281.1h0.8v0.8h-0.8zM76.2 289.2h0.8v0.8h-0.8zM61.3 296.6h0.8v0.8h-0.8zM86.9 261.9h0.8v0.8h-0.8zM75.1 277.9h0.8v0.8h-0.8zM70.7 280.5h0.8v0.8h-0.8zM57.4 262.0h0.8v0.8h-0.8zM102.7 269.2h0.8v0.8h-0.8zM96.5 269.9h0.8v0.8h-0.8zM69.0 266.8h0.8v0.8h-0.8zM103.7 271.7h0.8v0.8h-0.8zM55.7 280.4h0.8v0.8h-0.8zM69.6 269.4h0.8v0.8h-0.8zM85.7 275.3h0.8v0.8h-0.8zM72.8 285.3h0.8v0.8h-0.8zM89.5 276.8h0.8v0.8h-0.8zM51.8 283.5h0.8v0.8h-0.8zM67.8 274.7h0.8v0.8h-0.8zM96.8 272.5h0.8v0.8h-0.8zM64.4 274.2h0.8v0.8h-0.8zM81.6 270.4h0.8v0.8h-0.8zM93.0 272.3h0.8v0.8h-0.8zM70.1 294.0h0.8v0.8h-0.8zM55.7 293.7h0.8v0.8h-0.8zM66.6 284.3h0.8v0.8h-0.8zM86.6 270.0h0.8v0.8h-0.8zM61.8 278.6h0.8v0.8h-0.8zM78.9 291.4h0.8v0.8h-0.8zM83.8 285.3h0.8v0.8h-0.8zM70.7 278.8h0.8v0.8h-0.8zM82.0 260.6h0.8v0.8h-0.8zM81.5 271.9h0.8v0.8h-0.8zM75.7 276.7h0.8v0.8h-0.8zM88.2 282.0h0.8v0.8h-0.8zM73.2 278.1h0.8v0.8h-0.8zM62.4 269.2h0.8v0.8h-0.8zM103.2 249.1h0.8v0.8h-0.8zM83.0 261.6h0.8v0.8h-0.8zM52.9 294.6h0.8v0.8h-0.8zM51.4 281.5h0.8v0.8h-0.8zM71.3 289.9h0.8v0.8h-0.8zM59.2 298.7h0.8v0.8h-0.8zM66.8 271.4h0.8v0.8h-0.8zM63.3 268.2h0.8v0.8h-0.8zM79.4 284.0h0.8v0.8h-0.8zM57.8 296.1h0.8v0.8h-0.8z" fill="#4a4cb0" fill-opacity="0.4"/>
<path d="M45 290 L55 280 L68 270 L82 262 L100 256 L105 256 L105 282 L90 288 L70 294 L55 299 L45 299Z" fill="#3446c0" fill-opacity="0.5" filter="url(#bl3)"/>
<ellipse cx="73.5" cy="285.0" rx="16.5" ry="9.8" fill="#2a44c4" fill-opacity="0.9" filter="url(#bl15)" transform="rotate(-6 73.5 285.0)"/>
<ellipse cx="73.3" cy="285.0" rx="13.5" ry="7.8" fill="#1fa8df" fill-opacity="0.95" filter="url(#bl1)" transform="rotate(-6 73.3 285.0)"/>
<ellipse cx="73.4" cy="285.0" rx="12.4" ry="7.2" transform="rotate(-6 73.4 285)" fill="none" stroke="#1a2a50" stroke-width="0.5" opacity="0.55"/>
<ellipse cx="73.4" cy="285.0" rx="10.8" ry="5.9" fill="#1fae4c" fill-opacity="1" filter="url(#bl05)" transform="rotate(-6 73.4 285.0)"/>
<ellipse cx="73.6" cy="284.8" rx="7.6" ry="3.8" fill="#ebe224" fill-opacity="1" filter="url(#bl05)" transform="rotate(-6 73.6 284.8)"/>
<ellipse cx="72.8" cy="284.8" rx="3.4" ry="1.6" fill="#f59b20" fill-opacity="1" filter="url(#bl05)" transform="rotate(-6 72.8 284.8)"/>
<ellipse cx="55.0" cy="292.0" rx="11" ry="5.5" fill="#2a44c4" fill-opacity="0.75" filter="url(#bl15)" transform="rotate(-30 55 292)"/>
<ellipse cx="47.0" cy="295.0" rx="7.5" ry="7.5" fill="#1fa8df" fill-opacity="1" filter="url(#bl15)"/>
<ellipse cx="46.4" cy="295.8" rx="4.6" ry="5.2" fill="#1fae4c" fill-opacity="1" filter="url(#bl1)"/>
<ellipse cx="46.0" cy="296.4" rx="3.0" ry="3.8" fill="#ebe224" fill-opacity="1" filter="url(#bl05)"/>
<ellipse cx="45.6" cy="296.8" rx="2.0" ry="2.8" fill="#e43a25" fill-opacity="1" filter="url(#bl05)"/>
</g>
<line x1="41.800000000000004" y1="299.2" x2="45.2" y2="299.2" stroke="#231f20" stroke-width="0.9"/>
<text x="37.300000000000004" y="301.09999999999997" font-size="5.4" fill="#2a2a2a" text-anchor="end">0</text>
<line x1="41.800000000000004" y1="288.0" x2="45.2" y2="288.0" stroke="#231f20" stroke-width="0.9"/>
<text x="37.300000000000004" y="289.9" font-size="5.4" fill="#2a2a2a" text-anchor="end" textLength="9.6" lengthAdjust="spacingAndGlyphs">50K</text>
<line x1="41.800000000000004" y1="276.8" x2="45.2" y2="276.8" stroke="#231f20" stroke-width="0.9"/>
<text x="37.300000000000004" y="278.7" font-size="5.4" fill="#2a2a2a" text-anchor="end" textLength="13.4" lengthAdjust="spacingAndGlyphs">100K</text>
<line x1="41.800000000000004" y1="265.59999999999997" x2="45.2" y2="265.59999999999997" stroke="#231f20" stroke-width="0.9"/>
<text x="37.300000000000004" y="267.49999999999994" font-size="5.4" fill="#2a2a2a" text-anchor="end" textLength="13.4" lengthAdjust="spacingAndGlyphs">150K</text>
<line x1="41.800000000000004" y1="254.39999999999998" x2="45.2" y2="254.39999999999998" stroke="#231f20" stroke-width="0.9"/>
<text x="37.300000000000004" y="256.29999999999995" font-size="5.4" fill="#2a2a2a" text-anchor="end" textLength="13.4" lengthAdjust="spacingAndGlyphs">200K</text>
<line x1="41.800000000000004" y1="243.2" x2="45.2" y2="243.2" stroke="#231f20" stroke-width="0.9"/>
<text x="37.300000000000004" y="245.1" font-size="5.4" fill="#2a2a2a" text-anchor="end" textLength="13.4" lengthAdjust="spacingAndGlyphs">250K</text>
<line x1="43.400000000000006" y1="299.2" x2="45.2" y2="299.2" stroke="#231f20" stroke-width="0.6"/>
<line x1="43.400000000000006" y1="296.96" x2="45.2" y2="296.96" stroke="#231f20" stroke-width="0.6"/>
<line x1="43.400000000000006" y1="294.71999999999997" x2="45.2" y2="294.71999999999997" stroke="#231f20" stroke-width="0.6"/>
<line x1="43.400000000000006" y1="292.47999999999996" x2="45.2" y2="292.47999999999996" stroke="#231f20" stroke-width="0.6"/>
<line x1="43.400000000000006" y1="290.24" x2="45.2" y2="290.24" stroke="#231f20" stroke-width="0.6"/>
<line x1="43.400000000000006" y1="288.0" x2="45.2" y2="288.0" stroke="#231f20" stroke-width="0.6"/>
<line x1="43.400000000000006" y1="285.76" x2="45.2" y2="285.76" stroke="#231f20" stroke-width="0.6"/>
<line x1="43.400000000000006" y1="283.52" x2="45.2" y2="283.52" stroke="#231f20" stroke-width="0.6"/>
<line x1="43.400000000000006" y1="281.28" x2="45.2" y2="281.28" stroke="#231f20" stroke-width="0.6"/>
<line x1="43.400000000000006" y1="279.03999999999996" x2="45.2" y2="279.03999999999996" stroke="#231f20" stroke-width="0.6"/>
<line x1="43.400000000000006" y1="276.8" x2="45.2" y2="276.8" stroke="#231f20" stroke-width="0.6"/>
<line x1="43.400000000000006" y1="274.56" x2="45.2" y2="274.56" stroke="#231f20" stroke-width="0.6"/>
<line x1="43.400000000000006" y1="272.32" x2="45.2" y2="272.32" stroke="#231f20" stroke-width="0.6"/>
<line x1="43.400000000000006" y1="270.08" x2="45.2" y2="270.08" stroke="#231f20" stroke-width="0.6"/>
<line x1="43.400000000000006" y1="267.84" x2="45.2" y2="267.84" stroke="#231f20" stroke-width="0.6"/>
<line x1="43.400000000000006" y1="265.59999999999997" x2="45.2" y2="265.59999999999997" stroke="#231f20" stroke-width="0.6"/>
<line x1="43.400000000000006" y1="263.35999999999996" x2="45.2" y2="263.35999999999996" stroke="#231f20" stroke-width="0.6"/>
<line x1="43.400000000000006" y1="261.12" x2="45.2" y2="261.12" stroke="#231f20" stroke-width="0.6"/>
<line x1="43.400000000000006" y1="258.88" x2="45.2" y2="258.88" stroke="#231f20" stroke-width="0.6"/>
<line x1="43.400000000000006" y1="256.64" x2="45.2" y2="256.64" stroke="#231f20" stroke-width="0.6"/>
<line x1="43.400000000000006" y1="254.39999999999998" x2="45.2" y2="254.39999999999998" stroke="#231f20" stroke-width="0.6"/>
<line x1="43.400000000000006" y1="252.15999999999997" x2="45.2" y2="252.15999999999997" stroke="#231f20" stroke-width="0.6"/>
<line x1="43.400000000000006" y1="249.92" x2="45.2" y2="249.92" stroke="#231f20" stroke-width="0.6"/>
<line x1="43.400000000000006" y1="247.67999999999998" x2="45.2" y2="247.67999999999998" stroke="#231f20" stroke-width="0.6"/>
<line x1="43.400000000000006" y1="245.44" x2="45.2" y2="245.44" stroke="#231f20" stroke-width="0.6"/>
<line x1="43.400000000000006" y1="243.2" x2="45.2" y2="243.2" stroke="#231f20" stroke-width="0.6"/>
<line x1="43.400000000000006" y1="240.95999999999998" x2="45.2" y2="240.95999999999998" stroke="#231f20" stroke-width="0.6"/>
<line x1="45.2" y1="299.5" x2="45.2" y2="302.7" stroke="#231f20" stroke-width="0.9"/>
<text transform="translate(46.400000000000006,310.3) rotate(-45)" font-size="6.4" text-anchor="middle" fill="#2a2a2a">0</text>
<line x1="56.400000000000006" y1="299.5" x2="56.400000000000006" y2="302.7" stroke="#231f20" stroke-width="0.9"/>
<text transform="translate(58.7,310.1) rotate(-45)" font-size="6.8" text-anchor="end" fill="#2a2a2a" textLength="10.8" lengthAdjust="spacingAndGlyphs">50K</text>
<line x1="67.6" y1="299.5" x2="67.6" y2="302.7" stroke="#231f20" stroke-width="0.9"/>
<text transform="translate(69.89999999999999,310.1) rotate(-45)" font-size="6.8" text-anchor="end" fill="#2a2a2a" textLength="14.6" lengthAdjust="spacingAndGlyphs">100K</text>
<line x1="78.8" y1="299.5" x2="78.8" y2="302.7" stroke="#231f20" stroke-width="0.9"/>
<text transform="translate(81.1,310.1) rotate(-45)" font-size="6.8" text-anchor="end" fill="#2a2a2a" textLength="14.6" lengthAdjust="spacingAndGlyphs">150K</text>
<line x1="90.0" y1="299.5" x2="90.0" y2="302.7" stroke="#231f20" stroke-width="0.9"/>
<text transform="translate(92.3,310.1) rotate(-45)" font-size="6.8" text-anchor="end" fill="#2a2a2a" textLength="14.6" lengthAdjust="spacingAndGlyphs">200K</text>
<line x1="101.2" y1="299.5" x2="101.2" y2="302.7" stroke="#231f20" stroke-width="0.9"/>
<text transform="translate(103.5,310.1) rotate(-45)" font-size="6.8" text-anchor="end" fill="#2a2a2a" textLength="14.6" lengthAdjust="spacingAndGlyphs">250K</text>
<line x1="45.2" y1="299.5" x2="45.2" y2="301.3" stroke="#231f20" stroke-width="0.6"/>
<line x1="47.440000000000005" y1="299.5" x2="47.440000000000005" y2="301.3" stroke="#231f20" stroke-width="0.6"/>
<line x1="49.68000000000001" y1="299.5" x2="49.68000000000001" y2="301.3" stroke="#231f20" stroke-width="0.6"/>
<line x1="51.92" y1="299.5" x2="51.92" y2="301.3" stroke="#231f20" stroke-width="0.6"/>
<line x1="54.160000000000004" y1="299.5" x2="54.160000000000004" y2="301.3" stroke="#231f20" stroke-width="0.6"/>
<line x1="56.400000000000006" y1="299.5" x2="56.400000000000006" y2="301.3" stroke="#231f20" stroke-width="0.6"/>
<line x1="58.64" y1="299.5" x2="58.64" y2="301.3" stroke="#231f20" stroke-width="0.6"/>
<line x1="60.88" y1="299.5" x2="60.88" y2="301.3" stroke="#231f20" stroke-width="0.6"/>
<line x1="63.120000000000005" y1="299.5" x2="63.120000000000005" y2="301.3" stroke="#231f20" stroke-width="0.6"/>
<line x1="65.36000000000001" y1="299.5" x2="65.36000000000001" y2="301.3" stroke="#231f20" stroke-width="0.6"/>
<line x1="67.60000000000001" y1="299.5" x2="67.60000000000001" y2="301.3" stroke="#231f20" stroke-width="0.6"/>
<line x1="69.84" y1="299.5" x2="69.84" y2="301.3" stroke="#231f20" stroke-width="0.6"/>
<line x1="72.08000000000001" y1="299.5" x2="72.08000000000001" y2="301.3" stroke="#231f20" stroke-width="0.6"/>
<line x1="74.32000000000001" y1="299.5" x2="74.32000000000001" y2="301.3" stroke="#231f20" stroke-width="0.6"/>
<line x1="76.56" y1="299.5" x2="76.56" y2="301.3" stroke="#231f20" stroke-width="0.6"/>
<line x1="78.80000000000001" y1="299.5" x2="78.80000000000001" y2="301.3" stroke="#231f20" stroke-width="0.6"/>
<line x1="81.04" y1="299.5" x2="81.04" y2="301.3" stroke="#231f20" stroke-width="0.6"/>
<line x1="83.28" y1="299.5" x2="83.28" y2="301.3" stroke="#231f20" stroke-width="0.6"/>
<line x1="85.52000000000001" y1="299.5" x2="85.52000000000001" y2="301.3" stroke="#231f20" stroke-width="0.6"/>
<line x1="87.76" y1="299.5" x2="87.76" y2="301.3" stroke="#231f20" stroke-width="0.6"/>
<line x1="90.0" y1="299.5" x2="90.0" y2="301.3" stroke="#231f20" stroke-width="0.6"/>
<line x1="92.24000000000001" y1="299.5" x2="92.24000000000001" y2="301.3" stroke="#231f20" stroke-width="0.6"/>
<line x1="94.48" y1="299.5" x2="94.48" y2="301.3" stroke="#231f20" stroke-width="0.6"/>
<line x1="96.72" y1="299.5" x2="96.72" y2="301.3" stroke="#231f20" stroke-width="0.6"/>
<line x1="98.96000000000001" y1="299.5" x2="98.96000000000001" y2="301.3" stroke="#231f20" stroke-width="0.6"/>
<line x1="101.20000000000002" y1="299.5" x2="101.20000000000002" y2="301.3" stroke="#231f20" stroke-width="0.6"/>
<line x1="103.44000000000001" y1="299.5" x2="103.44000000000001" y2="301.3" stroke="#231f20" stroke-width="0.6"/>
<rect x="45.2" y="239.7" width="59.8" height="59.8" fill="none" stroke="#231f20" stroke-width="1.3"/>
<text x="77.80000000000001" y="332.6" font-size="9.7" fill="#231f20" text-anchor="middle" textLength="23.6" lengthAdjust="spacingAndGlyphs">FSC-A</text>
<text transform="translate(19.200000000000003,267.1) rotate(-90)" font-size="9.9" text-anchor="middle" fill="#231f20" textLength="24.4" lengthAdjust="spacingAndGlyphs">SSC-A</text>
<g clip-path="url(#cpB1)">
<path d="M173.3 283.1h0.8v0.8h-0.8zM174.3 282.2h0.8v0.8h-0.8zM181.3 275.6h0.8v0.8h-0.8zM181.2 281.3h0.8v0.8h-0.8zM191.1 267.7h0.8v0.8h-0.8zM166.6 287.0h0.8v0.8h-0.8zM180.2 279.3h0.8v0.8h-0.8zM193.6 270.4h0.8v0.8h-0.8zM188.0 270.7h0.8v0.8h-0.8zM191.2 267.0h0.8v0.8h-0.8zM185.6 272.8h0.8v0.8h-0.8zM195.1 264.3h0.8v0.8h-0.8zM173.7 282.6h0.8v0.8h-0.8zM180.0 280.3h0.8v0.8h-0.8zM175.2 279.3h0.8v0.8h-0.8zM187.1 270.1h0.8v0.8h-0.8zM172.7 286.4h0.8v0.8h-0.8zM174.6 279.0h0.8v0.8h-0.8zM194.4 269.0h0.8v0.8h-0.8zM185.1 277.2h0.8v0.8h-0.8zM165.3 285.8h0.8v0.8h-0.8zM179.9 280.0h0.8v0.8h-0.8zM168.9 289.3h0.8v0.8h-0.8zM187.5 269.9h0.8v0.8h-0.8zM192.7 270.6h0.8v0.8h-0.8zM178.7 275.0h0.8v0.8h-0.8zM178.5 279.7h0.8v0.8h-0.8zM184.8 272.6h0.8v0.8h-0.8zM183.2 276.0h0.8v0.8h-0.8zM175.6 283.0h0.8v0.8h-0.8zM187.8 270.5h0.8v0.8h-0.8zM187.4 272.4h0.8v0.8h-0.8zM163.4 285.0h0.8v0.8h-0.8zM179.9 276.3h0.8v0.8h-0.8zM185.7 274.3h0.8v0.8h-0.8zM182.8 273.2h0.8v0.8h-0.8zM186.4 271.5h0.8v0.8h-0.8zM179.0 281.4h0.8v0.8h-0.8zM166.4 286.6h0.8v0.8h-0.8zM182.6 280.6h0.8v0.8h-0.8zM181.4 276.2h0.8v0.8h-0.8zM188.8 268.1h0.8v0.8h-0.8zM182.2 277.8h0.8v0.8h-0.8zM180.2 278.8h0.8v0.8h-0.8zM172.7 283.2h0.8v0.8h-0.8zM168.8 287.2h0.8v0.8h-0.8zM190.1 276.9h0.8v0.8h-0.8zM175.5 284.7h0.8v0.8h-0.8zM174.8 280.0h0.8v0.8h-0.8zM193.6 268.5h0.8v0.8h-0.8zM191.0 267.3h0.8v0.8h-0.8zM183.1 276.6h0.8v0.8h-0.8zM171.2 281.6h0.8v0.8h-0.8zM190.6 273.1h0.8v0.8h-0.8zM184.9 274.0h0.8v0.8h-0.8zM193.5 268.3h0.8v0.8h-0.8zM181.6 278.9h0.8v0.8h-0.8zM182.4 273.5h0.8v0.8h-0.8zM180.4 275.5h0.8v0.8h-0.8zM181.6 280.4h0.8v0.8h-0.8zM189.5 263.7h0.8v0.8h-0.8zM189.9 273.2h0.8v0.8h-0.8zM196.8 271.4h0.8v0.8h-0.8zM190.3 272.3h0.8v0.8h-0.8zM187.1 271.9h0.8v0.8h-0.8zM183.7 281.4h0.8v0.8h-0.8zM184.5 276.9h0.8v0.8h-0.8zM171.6 285.4h0.8v0.8h-0.8zM193.0 272.8h0.8v0.8h-0.8zM171.9 279.2h0.8v0.8h-0.8z" fill="#4a4cb0" fill-opacity="0.3"/>
<ellipse cx="179.2" cy="272.0" rx="19.5" ry="2.8" fill="#2c4fbf" fill-opacity="1" filter="url(#bl05)" transform="rotate(-42 179.2 272.0)"/>
<ellipse cx="179.5" cy="271.7" rx="16" ry="2.0" fill="#1fa8df" fill-opacity="1" filter="url(#bl05)" transform="rotate(-42 179.5 271.7)"/>
<ellipse cx="178.7" cy="272.5" rx="10.5" ry="1.4" fill="#1fae4c" fill-opacity="1" filter="url(#bl05)" transform="rotate(-42 178.7 272.5)"/>
<ellipse cx="178.0" cy="273.2" rx="5.5" ry="0.8" fill="#ebe224" fill-opacity="1" filter="url(#bl05)" transform="rotate(-42 178.0 273.2)"/>
<rect x="156.39999999999998" y="268.3" width="45.6" height="7.4" rx="3.7" fill="none" stroke="#444" stroke-width="0.55" transform="rotate(-42 179.2 272.0)"/>
</g>
<line x1="145.79999999999998" y1="299.2" x2="149.2" y2="299.2" stroke="#231f20" stroke-width="0.9"/>
<text x="141.29999999999998" y="301.09999999999997" font-size="5.4" fill="#2a2a2a" text-anchor="end">0</text>
<line x1="145.79999999999998" y1="288.0" x2="149.2" y2="288.0" stroke="#231f20" stroke-width="0.9"/>
<text x="141.29999999999998" y="289.9" font-size="5.4" fill="#2a2a2a" text-anchor="end" textLength="9.6" lengthAdjust="spacingAndGlyphs">50K</text>
<line x1="145.79999999999998" y1="276.8" x2="149.2" y2="276.8" stroke="#231f20" stroke-width="0.9"/>
<text x="141.29999999999998" y="278.7" font-size="5.4" fill="#2a2a2a" text-anchor="end" textLength="13.4" lengthAdjust="spacingAndGlyphs">100K</text>
<line x1="145.79999999999998" y1="265.59999999999997" x2="149.2" y2="265.59999999999997" stroke="#231f20" stroke-width="0.9"/>
<text x="141.29999999999998" y="267.49999999999994" font-size="5.4" fill="#2a2a2a" text-anchor="end" textLength="13.4" lengthAdjust="spacingAndGlyphs">150K</text>
<line x1="145.79999999999998" y1="254.39999999999998" x2="149.2" y2="254.39999999999998" stroke="#231f20" stroke-width="0.9"/>
<text x="141.29999999999998" y="256.29999999999995" font-size="5.4" fill="#2a2a2a" text-anchor="end" textLength="13.4" lengthAdjust="spacingAndGlyphs">200K</text>
<line x1="145.79999999999998" y1="243.2" x2="149.2" y2="243.2" stroke="#231f20" stroke-width="0.9"/>
<text x="141.29999999999998" y="245.1" font-size="5.4" fill="#2a2a2a" text-anchor="end" textLength="13.4" lengthAdjust="spacingAndGlyphs">250K</text>
<line x1="147.39999999999998" y1="299.2" x2="149.2" y2="299.2" stroke="#231f20" stroke-width="0.6"/>
<line x1="147.39999999999998" y1="296.96" x2="149.2" y2="296.96" stroke="#231f20" stroke-width="0.6"/>
<line x1="147.39999999999998" y1="294.71999999999997" x2="149.2" y2="294.71999999999997" stroke="#231f20" stroke-width="0.6"/>
<line x1="147.39999999999998" y1="292.47999999999996" x2="149.2" y2="292.47999999999996" stroke="#231f20" stroke-width="0.6"/>
<line x1="147.39999999999998" y1="290.24" x2="149.2" y2="290.24" stroke="#231f20" stroke-width="0.6"/>
<line x1="147.39999999999998" y1="288.0" x2="149.2" y2="288.0" stroke="#231f20" stroke-width="0.6"/>
<line x1="147.39999999999998" y1="285.76" x2="149.2" y2="285.76" stroke="#231f20" stroke-width="0.6"/>
<line x1="147.39999999999998" y1="283.52" x2="149.2" y2="283.52" stroke="#231f20" stroke-width="0.6"/>
<line x1="147.39999999999998" y1="281.28" x2="149.2" y2="281.28" stroke="#231f20" stroke-width="0.6"/>
<line x1="147.39999999999998" y1="279.03999999999996" x2="149.2" y2="279.03999999999996" stroke="#231f20" stroke-width="0.6"/>
<line x1="147.39999999999998" y1="276.8" x2="149.2" y2="276.8" stroke="#231f20" stroke-width="0.6"/>
<line x1="147.39999999999998" y1="274.56" x2="149.2" y2="274.56" stroke="#231f20" stroke-width="0.6"/>
<line x1="147.39999999999998" y1="272.32" x2="149.2" y2="272.32" stroke="#231f20" stroke-width="0.6"/>
<line x1="147.39999999999998" y1="270.08" x2="149.2" y2="270.08" stroke="#231f20" stroke-width="0.6"/>
<line x1="147.39999999999998" y1="267.84" x2="149.2" y2="267.84" stroke="#231f20" stroke-width="0.6"/>
<line x1="147.39999999999998" y1="265.59999999999997" x2="149.2" y2="265.59999999999997" stroke="#231f20" stroke-width="0.6"/>
<line x1="147.39999999999998" y1="263.35999999999996" x2="149.2" y2="263.35999999999996" stroke="#231f20" stroke-width="0.6"/>
<line x1="147.39999999999998" y1="261.12" x2="149.2" y2="261.12" stroke="#231f20" stroke-width="0.6"/>
<line x1="147.39999999999998" y1="258.88" x2="149.2" y2="258.88" stroke="#231f20" stroke-width="0.6"/>
<line x1="147.39999999999998" y1="256.64" x2="149.2" y2="256.64" stroke="#231f20" stroke-width="0.6"/>
<line x1="147.39999999999998" y1="254.39999999999998" x2="149.2" y2="254.39999999999998" stroke="#231f20" stroke-width="0.6"/>
<line x1="147.39999999999998" y1="252.15999999999997" x2="149.2" y2="252.15999999999997" stroke="#231f20" stroke-width="0.6"/>
<line x1="147.39999999999998" y1="249.92" x2="149.2" y2="249.92" stroke="#231f20" stroke-width="0.6"/>
<line x1="147.39999999999998" y1="247.67999999999998" x2="149.2" y2="247.67999999999998" stroke="#231f20" stroke-width="0.6"/>
<line x1="147.39999999999998" y1="245.44" x2="149.2" y2="245.44" stroke="#231f20" stroke-width="0.6"/>
<line x1="147.39999999999998" y1="243.2" x2="149.2" y2="243.2" stroke="#231f20" stroke-width="0.6"/>
<line x1="147.39999999999998" y1="240.95999999999998" x2="149.2" y2="240.95999999999998" stroke="#231f20" stroke-width="0.6"/>
<line x1="149.2" y1="299.5" x2="149.2" y2="302.7" stroke="#231f20" stroke-width="0.9"/>
<text transform="translate(150.39999999999998,310.3) rotate(-45)" font-size="6.4" text-anchor="middle" fill="#2a2a2a">0</text>
<line x1="160.39999999999998" y1="299.5" x2="160.39999999999998" y2="302.7" stroke="#231f20" stroke-width="0.9"/>
<text transform="translate(162.7,310.1) rotate(-45)" font-size="6.8" text-anchor="end" fill="#2a2a2a" textLength="10.8" lengthAdjust="spacingAndGlyphs">50K</text>
<line x1="171.6" y1="299.5" x2="171.6" y2="302.7" stroke="#231f20" stroke-width="0.9"/>
<text transform="translate(173.9,310.1) rotate(-45)" font-size="6.8" text-anchor="end" fill="#2a2a2a" textLength="14.6" lengthAdjust="spacingAndGlyphs">100K</text>
<line x1="182.79999999999998" y1="299.5" x2="182.79999999999998" y2="302.7" stroke="#231f20" stroke-width="0.9"/>
<text transform="translate(185.1,310.1) rotate(-45)" font-size="6.8" text-anchor="end" fill="#2a2a2a" textLength="14.6" lengthAdjust="spacingAndGlyphs">150K</text>
<line x1="194.0" y1="299.5" x2="194.0" y2="302.7" stroke="#231f20" stroke-width="0.9"/>
<text transform="translate(196.3,310.1) rotate(-45)" font-size="6.8" text-anchor="end" fill="#2a2a2a" textLength="14.6" lengthAdjust="spacingAndGlyphs">200K</text>
<line x1="205.2" y1="299.5" x2="205.2" y2="302.7" stroke="#231f20" stroke-width="0.9"/>
<text transform="translate(207.5,310.1) rotate(-45)" font-size="6.8" text-anchor="end" fill="#2a2a2a" textLength="14.6" lengthAdjust="spacingAndGlyphs">250K</text>
<line x1="149.2" y1="299.5" x2="149.2" y2="301.3" stroke="#231f20" stroke-width="0.6"/>
<line x1="151.44" y1="299.5" x2="151.44" y2="301.3" stroke="#231f20" stroke-width="0.6"/>
<line x1="153.67999999999998" y1="299.5" x2="153.67999999999998" y2="301.3" stroke="#231f20" stroke-width="0.6"/>
<line x1="155.92" y1="299.5" x2="155.92" y2="301.3" stroke="#231f20" stroke-width="0.6"/>
<line x1="158.16" y1="299.5" x2="158.16" y2="301.3" stroke="#231f20" stroke-width="0.6"/>
<line x1="160.39999999999998" y1="299.5" x2="160.39999999999998" y2="301.3" stroke="#231f20" stroke-width="0.6"/>
<line x1="162.64" y1="299.5" x2="162.64" y2="301.3" stroke="#231f20" stroke-width="0.6"/>
<line x1="164.88" y1="299.5" x2="164.88" y2="301.3" stroke="#231f20" stroke-width="0.6"/>
<line x1="167.12" y1="299.5" x2="167.12" y2="301.3" stroke="#231f20" stroke-width="0.6"/>
<line x1="169.35999999999999" y1="299.5" x2="169.35999999999999" y2="301.3" stroke="#231f20" stroke-width="0.6"/>
<line x1="171.6" y1="299.5" x2="171.6" y2="301.3" stroke="#231f20" stroke-width="0.6"/>
<line x1="173.83999999999997" y1="299.5" x2="173.83999999999997" y2="301.3" stroke="#231f20" stroke-width="0.6"/>
<line x1="176.07999999999998" y1="299.5" x2="176.07999999999998" y2="301.3" stroke="#231f20" stroke-width="0.6"/>
<line x1="178.32" y1="299.5" x2="178.32" y2="301.3" stroke="#231f20" stroke-width="0.6"/>
<line x1="180.56" y1="299.5" x2="180.56" y2="301.3" stroke="#231f20" stroke-width="0.6"/>
<line x1="182.79999999999998" y1="299.5" x2="182.79999999999998" y2="301.3" stroke="#231f20" stroke-width="0.6"/>
<line x1="185.04" y1="299.5" x2="185.04" y2="301.3" stroke="#231f20" stroke-width="0.6"/>
<line x1="187.28" y1="299.5" x2="187.28" y2="301.3" stroke="#231f20" stroke-width="0.6"/>
<line x1="189.51999999999998" y1="299.5" x2="189.51999999999998" y2="301.3" stroke="#231f20" stroke-width="0.6"/>
<line x1="191.76" y1="299.5" x2="191.76" y2="301.3" stroke="#231f20" stroke-width="0.6"/>
<line x1="194.0" y1="299.5" x2="194.0" y2="301.3" stroke="#231f20" stroke-width="0.6"/>
<line x1="196.24" y1="299.5" x2="196.24" y2="301.3" stroke="#231f20" stroke-width="0.6"/>
<line x1="198.48" y1="299.5" x2="198.48" y2="301.3" stroke="#231f20" stroke-width="0.6"/>
<line x1="200.72" y1="299.5" x2="200.72" y2="301.3" stroke="#231f20" stroke-width="0.6"/>
<line x1="202.95999999999998" y1="299.5" x2="202.95999999999998" y2="301.3" stroke="#231f20" stroke-width="0.6"/>
<line x1="205.2" y1="299.5" x2="205.2" y2="301.3" stroke="#231f20" stroke-width="0.6"/>
<line x1="207.44" y1="299.5" x2="207.44" y2="301.3" stroke="#231f20" stroke-width="0.6"/>
<rect x="149.2" y="239.7" width="59.8" height="59.8" fill="none" stroke="#231f20" stroke-width="1.3"/>
<text x="181.79999999999998" y="332.6" font-size="9.7" fill="#231f20" text-anchor="middle" textLength="23.6" lengthAdjust="spacingAndGlyphs">FSC-A</text>
<text transform="translate(123.89999999999999,267.2) rotate(-90)" font-size="9.9" text-anchor="middle" fill="#231f20" textLength="23.3" lengthAdjust="spacingAndGlyphs">FSC-H</text>
<g clip-path="url(#cpB2)">
<path d="M278.0 247.6h0.8v0.8h-0.8zM270.1 267.1h0.8v0.8h-0.8zM267.1 253.6h0.8v0.8h-0.8zM287.3 254.6h0.8v0.8h-0.8zM267.8 263.6h0.8v0.8h-0.8zM272.7 269.8h0.8v0.8h-0.8zM273.1 271.7h0.8v0.8h-0.8zM284.6 248.7h0.8v0.8h-0.8zM277.7 255.8h0.8v0.8h-0.8zM267.1 275.9h0.8v0.8h-0.8zM272.5 262.0h0.8v0.8h-0.8zM265.5 277.9h0.8v0.8h-0.8zM288.5 265.0h0.8v0.8h-0.8zM267.3 264.1h0.8v0.8h-0.8zM275.7 256.8h0.8v0.8h-0.8zM269.5 248.2h0.8v0.8h-0.8zM285.1 261.7h0.8v0.8h-0.8zM282.7 267.5h0.8v0.8h-0.8zM274.0 259.6h0.8v0.8h-0.8zM271.6 263.8h0.8v0.8h-0.8zM274.8 269.5h0.8v0.8h-0.8zM271.3 253.8h0.8v0.8h-0.8zM266.1 246.7h0.8v0.8h-0.8zM269.4 246.5h0.8v0.8h-0.8zM274.6 253.7h0.8v0.8h-0.8zM286.1 246.7h0.8v0.8h-0.8zM288.6 247.3h0.8v0.8h-0.8zM284.8 253.1h0.8v0.8h-0.8zM270.1 261.9h0.8v0.8h-0.8zM272.9 246.5h0.8v0.8h-0.8zM267.3 264.8h0.8v0.8h-0.8zM282.0 280.1h0.8v0.8h-0.8zM270.3 268.8h0.8v0.8h-0.8zM272.6 258.3h0.8v0.8h-0.8zM271.0 254.7h0.8v0.8h-0.8zM286.9 250.2h0.8v0.8h-0.8zM274.6 275.7h0.8v0.8h-0.8zM275.3 270.9h0.8v0.8h-0.8zM277.4 252.8h0.8v0.8h-0.8zM282.0 263.7h0.8v0.8h-0.8zM273.5 280.4h0.8v0.8h-0.8zM266.3 272.7h0.8v0.8h-0.8zM282.0 266.1h0.8v0.8h-0.8zM275.8 267.9h0.8v0.8h-0.8zM265.1 264.4h0.8v0.8h-0.8zM285.6 254.6h0.8v0.8h-0.8zM282.5 265.5h0.8v0.8h-0.8zM276.5 268.9h0.8v0.8h-0.8zM276.1 247.6h0.8v0.8h-0.8zM277.1 268.1h0.8v0.8h-0.8zM268.1 256.4h0.8v0.8h-0.8zM284.9 246.5h0.8v0.8h-0.8zM285.6 252.9h0.8v0.8h-0.8zM273.1 265.7h0.8v0.8h-0.8zM278.3 251.1h0.8v0.8h-0.8zM267.9 255.0h0.8v0.8h-0.8zM286.2 280.2h0.8v0.8h-0.8zM281.9 265.5h0.8v0.8h-0.8zM281.2 275.9h0.8v0.8h-0.8zM268.0 248.0h0.8v0.8h-0.8zM285.1 246.6h0.8v0.8h-0.8zM277.1 254.4h0.8v0.8h-0.8zM287.0 262.5h0.8v0.8h-0.8zM269.6 246.9h0.8v0.8h-0.8zM275.8 259.6h0.8v0.8h-0.8zM275.7 260.8h0.8v0.8h-0.8zM265.5 253.1h0.8v0.8h-0.8zM284.7 251.2h0.8v0.8h-0.8zM268.7 248.7h0.8v0.8h-0.8zM287.5 273.7h0.8v0.8h-0.8zM274.1 252.3h0.8v0.8h-0.8zM273.2 274.3h0.8v0.8h-0.8zM286.7 277.9h0.8v0.8h-0.8zM285.4 264.8h0.8v0.8h-0.8zM266.9 277.4h0.8v0.8h-0.8zM268.2 267.5h0.8v0.8h-0.8zM272.9 246.7h0.8v0.8h-0.8zM280.5 250.3h0.8v0.8h-0.8zM286.2 248.7h0.8v0.8h-0.8zM280.7 255.5h0.8v0.8h-0.8zM265.2 251.0h0.8v0.8h-0.8zM271.7 269.1h0.8v0.8h-0.8zM283.3 277.1h0.8v0.8h-0.8zM268.1 249.3h0.8v0.8h-0.8zM273.3 252.0h0.8v0.8h-0.8zM269.2 268.1h0.8v0.8h-0.8zM264.1 259.1h0.8v0.8h-0.8zM267.3 251.8h0.8v0.8h-0.8zM271.3 256.4h0.8v0.8h-0.8zM287.5 267.3h0.8v0.8h-0.8zM274.7 279.9h0.8v0.8h-0.8zM270.3 248.9h0.8v0.8h-0.8zM279.9 268.9h0.8v0.8h-0.8zM282.1 258.0h0.8v0.8h-0.8zM282.1 252.3h0.8v0.8h-0.8zM287.7 267.5h0.8v0.8h-0.8zM284.0 259.2h0.8v0.8h-0.8zM287.0 256.6h0.8v0.8h-0.8zM287.8 255.8h0.8v0.8h-0.8zM287.8 251.9h0.8v0.8h-0.8zM276.9 260.0h0.8v0.8h-0.8zM277.7 272.4h0.8v0.8h-0.8zM285.2 248.7h0.8v0.8h-0.8zM281.6 258.7h0.8v0.8h-0.8zM274.1 247.6h0.8v0.8h-0.8zM286.7 279.9h0.8v0.8h-0.8zM282.1 260.4h0.8v0.8h-0.8zM266.1 252.0h0.8v0.8h-0.8zM272.2 247.2h0.8v0.8h-0.8zM273.4 253.3h0.8v0.8h-0.8zM274.3 247.0h0.8v0.8h-0.8zM267.3 277.9h0.8v0.8h-0.8zM277.9 249.8h0.8v0.8h-0.8zM275.2 253.2h0.8v0.8h-0.8zM276.1 248.6h0.8v0.8h-0.8zM282.6 276.9h0.8v0.8h-0.8zM279.7 278.3h0.8v0.8h-0.8zM284.4 259.1h0.8v0.8h-0.8zM277.1 265.3h0.8v0.8h-0.8zM273.2 247.1h0.8v0.8h-0.8zM275.3 271.1h0.8v0.8h-0.8zM280.9 246.7h0.8v0.8h-0.8zM284.7 246.8h0.8v0.8h-0.8zM277.0 248.6h0.8v0.8h-0.8zM271.5 249.8h0.8v0.8h-0.8zM279.4 266.2h0.8v0.8h-0.8zM286.1 257.9h0.8v0.8h-0.8zM265.5 246.7h0.8v0.8h-0.8zM266.1 247.8h0.8v0.8h-0.8zM268.4 251.4h0.8v0.8h-0.8zM267.8 272.7h0.8v0.8h-0.8zM273.0 257.0h0.8v0.8h-0.8zM283.6 248.7h0.8v0.8h-0.8zM276.5 246.7h0.8v0.8h-0.8zM276.1 276.7h0.8v0.8h-0.8zM278.2 251.5h0.8v0.8h-0.8zM279.8 257.8h0.8v0.8h-0.8zM276.4 263.0h0.8v0.8h-0.8zM281.8 274.7h0.8v0.8h-0.8zM288.4 278.4h0.8v0.8h-0.8zM284.3 265.0h0.8v0.8h-0.8zM284.0 249.0h0.8v0.8h-0.8zM268.9 272.4h0.8v0.8h-0.8zM274.9 246.6h0.8v0.8h-0.8zM282.6 247.9h0.8v0.8h-0.8zM270.8 276.3h0.8v0.8h-0.8zM268.7 271.6h0.8v0.8h-0.8zM270.7 270.0h0.8v0.8h-0.8zM273.5 260.0h0.8v0.8h-0.8zM281.1 266.5h0.8v0.8h-0.8zM269.2 264.5h0.8v0.8h-0.8zM268.2 250.1h0.8v0.8h-0.8zM283.5 248.2h0.8v0.8h-0.8zM274.3 247.6h0.8v0.8h-0.8zM278.6 248.6h0.8v0.8h-0.8zM273.0 279.4h0.8v0.8h-0.8zM275.1 257.7h0.8v0.8h-0.8zM264.8 250.5h0.8v0.8h-0.8zM266.6 262.3h0.8v0.8h-0.8zM267.9 248.6h0.8v0.8h-0.8zM267.6 267.5h0.8v0.8h-0.8zM280.3 251.2h0.8v0.8h-0.8zM271.9 250.8h0.8v0.8h-0.8zM277.7 260.3h0.8v0.8h-0.8zM267.3 248.2h0.8v0.8h-0.8zM279.7 250.9h0.8v0.8h-0.8zM280.6 248.6h0.8v0.8h-0.8zM266.5 247.0h0.8v0.8h-0.8zM285.4 259.1h0.8v0.8h-0.8zM264.5 253.0h0.8v0.8h-0.8zM279.8 249.5h0.8v0.8h-0.8zM284.8 246.5h0.8v0.8h-0.8zM277.1 260.5h0.8v0.8h-0.8zM268.7 279.8h0.8v0.8h-0.8zM277.7 247.8h0.8v0.8h-0.8zM282.9 246.6h0.8v0.8h-0.8zM281.0 272.0h0.8v0.8h-0.8zM280.0 246.6h0.8v0.8h-0.8zM265.6 271.7h0.8v0.8h-0.8zM285.2 250.7h0.8v0.8h-0.8zM287.2 270.9h0.8v0.8h-0.8zM266.7 274.5h0.8v0.8h-0.8zM264.3 252.1h0.8v0.8h-0.8zM269.2 249.3h0.8v0.8h-0.8zM276.5 246.7h0.8v0.8h-0.8zM288.1 249.3h0.8v0.8h-0.8zM281.1 252.9h0.8v0.8h-0.8zM286.9 260.0h0.8v0.8h-0.8zM276.4 268.4h0.8v0.8h-0.8zM278.1 256.0h0.8v0.8h-0.8zM268.3 270.3h0.8v0.8h-0.8zM279.7 256.4h0.8v0.8h-0.8zM288.7 256.5h0.8v0.8h-0.8zM282.5 248.4h0.8v0.8h-0.8zM273.0 262.8h0.8v0.8h-0.8zM270.5 280.3h0.8v0.8h-0.8zM288.8 263.4h0.8v0.8h-0.8zM282.0 250.7h0.8v0.8h-0.8zM283.3 273.2h0.8v0.8h-0.8zM275.5 260.2h0.8v0.8h-0.8zM280.4 250.2h0.8v0.8h-0.8zM265.1 248.7h0.8v0.8h-0.8zM277.1 263.0h0.8v0.8h-0.8zM285.4 250.6h0.8v0.8h-0.8zM268.2 255.0h0.8v0.8h-0.8zM268.1 250.4h0.8v0.8h-0.8zM276.2 265.1h0.8v0.8h-0.8zM266.6 248.6h0.8v0.8h-0.8zM275.8 258.5h0.8v0.8h-0.8zM268.4 264.0h0.8v0.8h-0.8zM278.1 278.5h0.8v0.8h-0.8zM287.8 262.6h0.8v0.8h-0.8zM266.2 258.5h0.8v0.8h-0.8zM270.8 250.9h0.8v0.8h-0.8zM265.9 265.3h0.8v0.8h-0.8zM280.4 250.8h0.8v0.8h-0.8zM269.8 280.1h0.8v0.8h-0.8zM277.8 265.6h0.8v0.8h-0.8zM270.1 277.4h0.8v0.8h-0.8zM282.0 258.0h0.8v0.8h-0.8zM266.8 255.5h0.8v0.8h-0.8zM264.6 249.3h0.8v0.8h-0.8zM283.5 247.5h0.8v0.8h-0.8zM269.1 252.6h0.8v0.8h-0.8zM288.2 248.4h0.8v0.8h-0.8zM274.4 258.9h0.8v0.8h-0.8zM265.1 260.1h0.8v0.8h-0.8zM265.8 252.0h0.8v0.8h-0.8zM272.1 280.3h0.8v0.8h-0.8zM275.0 251.4h0.8v0.8h-0.8zM272.2 251.5h0.8v0.8h-0.8zM268.1 251.9h0.8v0.8h-0.8zM281.3 252.9h0.8v0.8h-0.8zM269.7 246.7h0.8v0.8h-0.8zM283.7 251.4h0.8v0.8h-0.8zM270.8 272.6h0.8v0.8h-0.8zM288.2 259.6h0.8v0.8h-0.8zM265.7 272.0h0.8v0.8h-0.8zM283.1 246.6h0.8v0.8h-0.8zM271.2 272.0h0.8v0.8h-0.8zM275.9 248.6h0.8v0.8h-0.8zM288.6 249.3h0.8v0.8h-0.8zM268.5 265.5h0.8v0.8h-0.8zM288.7 266.0h0.8v0.8h-0.8zM264.5 246.6h0.8v0.8h-0.8zM269.4 264.2h0.8v0.8h-0.8zM288.0 247.6h0.8v0.8h-0.8zM280.7 264.6h0.8v0.8h-0.8zM264.7 275.4h0.8v0.8h-0.8zM271.8 253.6h0.8v0.8h-0.8zM283.8 259.3h0.8v0.8h-0.8zM279.7 246.9h0.8v0.8h-0.8zM279.6 248.1h0.8v0.8h-0.8zM284.6 269.1h0.8v0.8h-0.8zM280.2 263.4h0.8v0.8h-0.8zM288.4 271.7h0.8v0.8h-0.8zM281.9 253.1h0.8v0.8h-0.8zM264.3 280.5h0.8v0.8h-0.8zM265.6 246.7h0.8v0.8h-0.8zM278.9 280.1h0.8v0.8h-0.8zM275.1 249.3h0.8v0.8h-0.8zM264.5 248.3h0.8v0.8h-0.8zM273.1 252.8h0.8v0.8h-0.8zM270.7 274.2h0.8v0.8h-0.8zM289.0 279.3h0.8v0.8h-0.8zM268.9 265.6h0.8v0.8h-0.8zM268.1 256.4h0.8v0.8h-0.8zM276.5 251.9h0.8v0.8h-0.8zM283.6 249.5h0.8v0.8h-0.8zM284.1 268.7h0.8v0.8h-0.8zM279.7 247.1h0.8v0.8h-0.8zM267.0 270.6h0.8v0.8h-0.8zM288.0 250.0h0.8v0.8h-0.8zM280.7 268.3h0.8v0.8h-0.8zM285.7 247.9h0.8v0.8h-0.8zM269.1 246.9h0.8v0.8h-0.8zM281.3 253.1h0.8v0.8h-0.8zM281.5 248.4h0.8v0.8h-0.8zM280.0 250.8h0.8v0.8h-0.8zM275.0 261.1h0.8v0.8h-0.8zM287.8 248.9h0.8v0.8h-0.8zM283.6 246.8h0.8v0.8h-0.8zM268.4 265.6h0.8v0.8h-0.8zM266.1 272.3h0.8v0.8h-0.8zM286.2 249.5h0.8v0.8h-0.8zM281.7 263.5h0.8v0.8h-0.8zM288.4 257.6h0.8v0.8h-0.8zM273.2 274.1h0.8v0.8h-0.8zM270.7 275.9h0.8v0.8h-0.8zM273.1 254.6h0.8v0.8h-0.8zM284.9 268.3h0.8v0.8h-0.8zM268.6 263.9h0.8v0.8h-0.8zM288.7 254.4h0.8v0.8h-0.8zM277.9 263.8h0.8v0.8h-0.8zM282.0 254.1h0.8v0.8h-0.8zM273.5 248.6h0.8v0.8h-0.8zM279.7 252.3h0.8v0.8h-0.8zM283.7 246.7h0.8v0.8h-0.8zM283.0 248.3h0.8v0.8h-0.8zM285.7 271.4h0.8v0.8h-0.8zM272.9 247.3h0.8v0.8h-0.8zM269.3 249.3h0.8v0.8h-0.8zM288.5 270.6h0.8v0.8h-0.8zM264.6 246.5h0.8v0.8h-0.8zM278.0 256.1h0.8v0.8h-0.8zM277.8 272.3h0.8v0.8h-0.8zM284.9 247.9h0.8v0.8h-0.8zM288.2 256.3h0.8v0.8h-0.8zM275.8 248.2h0.8v0.8h-0.8zM270.0 248.8h0.8v0.8h-0.8zM271.0 259.3h0.8v0.8h-0.8zM270.4 250.7h0.8v0.8h-0.8zM266.8 247.0h0.8v0.8h-0.8zM286.8 255.6h0.8v0.8h-0.8zM275.3 247.8h0.8v0.8h-0.8zM288.6 246.5h0.8v0.8h-0.8zM283.6 246.7h0.8v0.8h-0.8zM271.2 257.2h0.8v0.8h-0.8zM275.4 265.9h0.8v0.8h-0.8zM278.3 265.8h0.8v0.8h-0.8zM265.7 251.3h0.8v0.8h-0.8zM270.9 257.1h0.8v0.8h-0.8zM274.5 247.5h0.8v0.8h-0.8zM267.2 246.9h0.8v0.8h-0.8zM265.4 263.4h0.8v0.8h-0.8zM288.1 261.3h0.8v0.8h-0.8zM268.9 262.0h0.8v0.8h-0.8zM276.4 251.0h0.8v0.8h-0.8zM284.1 250.5h0.8v0.8h-0.8zM271.6 246.7h0.8v0.8h-0.8zM270.1 276.4h0.8v0.8h-0.8zM276.0 267.0h0.8v0.8h-0.8zM276.2 250.6h0.8v0.8h-0.8zM272.9 258.0h0.8v0.8h-0.8zM271.7 258.3h0.8v0.8h-0.8zM264.6 254.0h0.8v0.8h-0.8zM266.9 257.0h0.8v0.8h-0.8zM277.3 275.8h0.8v0.8h-0.8zM285.8 274.9h0.8v0.8h-0.8zM275.1 251.3h0.8v0.8h-0.8zM285.2 247.6h0.8v0.8h-0.8zM273.5 246.9h0.8v0.8h-0.8zM284.3 267.7h0.8v0.8h-0.8zM287.2 248.8h0.8v0.8h-0.8zM284.9 265.6h0.8v0.8h-0.8zM277.6 255.8h0.8v0.8h-0.8zM284.1 256.8h0.8v0.8h-0.8zM287.7 276.5h0.8v0.8h-0.8zM273.2 259.1h0.8v0.8h-0.8zM274.7 275.3h0.8v0.8h-0.8zM285.3 254.4h0.8v0.8h-0.8zM273.2 251.9h0.8v0.8h-0.8zM280.6 264.2h0.8v0.8h-0.8zM279.5 258.5h0.8v0.8h-0.8zM280.8 246.5h0.8v0.8h-0.8zM276.0 265.4h0.8v0.8h-0.8zM282.2 271.0h0.8v0.8h-0.8zM269.6 276.6h0.8v0.8h-0.8zM288.2 262.3h0.8v0.8h-0.8zM284.5 249.0h0.8v0.8h-0.8zM268.7 249.5h0.8v0.8h-0.8zM277.3 274.9h0.8v0.8h-0.8zM272.8 276.9h0.8v0.8h-0.8zM284.8 246.7h0.8v0.8h-0.8zM264.7 280.4h0.8v0.8h-0.8zM276.5 269.3h0.8v0.8h-0.8zM285.5 251.6h0.8v0.8h-0.8zM264.4 273.5h0.8v0.8h-0.8zM287.3 254.3h0.8v0.8h-0.8zM280.5 246.5h0.8v0.8h-0.8zM287.5 262.0h0.8v0.8h-0.8zM288.4 265.2h0.8v0.8h-0.8zM273.0 248.7h0.8v0.8h-0.8zM276.9 273.4h0.8v0.8h-0.8zM277.4 259.2h0.8v0.8h-0.8zM269.5 248.1h0.8v0.8h-0.8zM270.0 251.6h0.8v0.8h-0.8zM275.8 277.4h0.8v0.8h-0.8zM270.8 249.7h0.8v0.8h-0.8zM282.5 277.2h0.8v0.8h-0.8zM269.9 251.4h0.8v0.8h-0.8zM274.4 246.9h0.8v0.8h-0.8zM266.3 259.6h0.8v0.8h-0.8zM270.1 249.8h0.8v0.8h-0.8zM284.1 257.1h0.8v0.8h-0.8zM278.1 263.8h0.8v0.8h-0.8zM282.6 276.3h0.8v0.8h-0.8zM288.3 247.5h0.8v0.8h-0.8zM282.5 246.6h0.8v0.8h-0.8zM267.0 250.3h0.8v0.8h-0.8zM267.2 248.2h0.8v0.8h-0.8zM269.8 270.9h0.8v0.8h-0.8zM283.7 257.8h0.8v0.8h-0.8zM277.7 267.9h0.8v0.8h-0.8zM278.8 247.1h0.8v0.8h-0.8zM275.5 249.1h0.8v0.8h-0.8zM275.8 279.3h0.8v0.8h-0.8zM268.9 252.1h0.8v0.8h-0.8zM278.5 264.0h0.8v0.8h-0.8zM271.6 254.2h0.8v0.8h-0.8zM276.5 276.8h0.8v0.8h-0.8zM265.2 274.7h0.8v0.8h-0.8zM277.9 276.1h0.8v0.8h-0.8zM273.8 263.6h0.8v0.8h-0.8zM264.6 249.6h0.8v0.8h-0.8zM280.2 252.3h0.8v0.8h-0.8zM276.9 279.6h0.8v0.8h-0.8zM278.0 264.4h0.8v0.8h-0.8zM278.1 250.3h0.8v0.8h-0.8zM288.6 253.7h0.8v0.8h-0.8zM264.6 255.2h0.8v0.8h-0.8zM274.4 249.2h0.8v0.8h-0.8zM274.7 247.0h0.8v0.8h-0.8zM287.5 258.5h0.8v0.8h-0.8zM271.2 259.5h0.8v0.8h-0.8zM278.8 254.0h0.8v0.8h-0.8zM284.2 256.2h0.8v0.8h-0.8zM287.1 268.7h0.8v0.8h-0.8zM281.3 248.4h0.8v0.8h-0.8zM281.6 279.4h0.8v0.8h-0.8zM284.3 246.7h0.8v0.8h-0.8zM271.1 246.5h0.8v0.8h-0.8zM280.6 274.5h0.8v0.8h-0.8zM281.2 264.2h0.8v0.8h-0.8zM277.6 267.1h0.8v0.8h-0.8zM277.7 270.2h0.8v0.8h-0.8zM267.9 256.7h0.8v0.8h-0.8zM279.7 247.0h0.8v0.8h-0.8zM278.1 276.0h0.8v0.8h-0.8zM266.2 267.2h0.8v0.8h-0.8zM282.0 274.7h0.8v0.8h-0.8zM288.2 263.0h0.8v0.8h-0.8zM278.9 256.8h0.8v0.8h-0.8zM275.0 261.6h0.8v0.8h-0.8zM272.4 270.2h0.8v0.8h-0.8zM277.7 255.5h0.8v0.8h-0.8zM276.9 266.1h0.8v0.8h-0.8zM284.9 271.0h0.8v0.8h-0.8zM281.7 250.1h0.8v0.8h-0.8zM264.0 247.7h0.8v0.8h-0.8zM266.1 258.0h0.8v0.8h-0.8zM265.9 256.8h0.8v0.8h-0.8zM282.9 255.7h0.8v0.8h-0.8zM285.8 253.1h0.8v0.8h-0.8zM276.1 250.6h0.8v0.8h-0.8zM267.3 260.6h0.8v0.8h-0.8zM267.1 248.1h0.8v0.8h-0.8zM271.3 267.0h0.8v0.8h-0.8zM288.5 249.5h0.8v0.8h-0.8zM270.0 278.9h0.8v0.8h-0.8zM278.5 270.1h0.8v0.8h-0.8zM289.0 264.0h0.8v0.8h-0.8zM270.2 279.5h0.8v0.8h-0.8zM286.3 246.5h0.8v0.8h-0.8zM288.2 263.5h0.8v0.8h-0.8zM269.8 256.8h0.8v0.8h-0.8zM271.5 269.1h0.8v0.8h-0.8zM274.0 247.2h0.8v0.8h-0.8zM286.2 252.3h0.8v0.8h-0.8zM268.4 265.7h0.8v0.8h-0.8zM267.3 261.7h0.8v0.8h-0.8zM275.1 247.7h0.8v0.8h-0.8zM287.9 265.4h0.8v0.8h-0.8zM265.4 275.2h0.8v0.8h-0.8zM280.1 271.4h0.8v0.8h-0.8zM283.3 248.5h0.8v0.8h-0.8zM271.9 248.5h0.8v0.8h-0.8zM284.3 277.7h0.8v0.8h-0.8zM278.3 264.2h0.8v0.8h-0.8zM288.4 258.5h0.8v0.8h-0.8zM275.0 251.0h0.8v0.8h-0.8zM288.7 247.7h0.8v0.8h-0.8zM268.8 272.8h0.8v0.8h-0.8zM264.7 249.1h0.8v0.8h-0.8zM277.2 249.9h0.8v0.8h-0.8zM273.6 246.6h0.8v0.8h-0.8zM280.7 247.0h0.8v0.8h-0.8zM271.2 247.4h0.8v0.8h-0.8zM281.4 249.5h0.8v0.8h-0.8zM277.9 246.6h0.8v0.8h-0.8zM278.2 252.6h0.8v0.8h-0.8zM286.7 249.0h0.8v0.8h-0.8zM271.4 273.6h0.8v0.8h-0.8zM265.5 257.4h0.8v0.8h-0.8zM276.1 251.2h0.8v0.8h-0.8zM268.2 257.7h0.8v0.8h-0.8zM264.7 246.5h0.8v0.8h-0.8zM271.1 253.7h0.8v0.8h-0.8zM270.5 266.2h0.8v0.8h-0.8zM274.4 261.9h0.8v0.8h-0.8zM278.7 266.2h0.8v0.8h-0.8zM287.3 260.0h0.8v0.8h-0.8zM281.4 259.8h0.8v0.8h-0.8zM265.9 271.9h0.8v0.8h-0.8zM277.2 246.7h0.8v0.8h-0.8zM282.6 257.8h0.8v0.8h-0.8zM287.7 254.9h0.8v0.8h-0.8zM275.8 275.0h0.8v0.8h-0.8zM287.2 268.9h0.8v0.8h-0.8zM275.1 255.4h0.8v0.8h-0.8zM282.4 275.1h0.8v0.8h-0.8zM275.4 265.8h0.8v0.8h-0.8zM278.0 259.6h0.8v0.8h-0.8zM269.3 251.0h0.8v0.8h-0.8zM270.4 279.6h0.8v0.8h-0.8zM264.6 249.5h0.8v0.8h-0.8zM269.1 271.1h0.8v0.8h-0.8zM280.8 251.7h0.8v0.8h-0.8zM266.7 264.5h0.8v0.8h-0.8zM282.7 263.2h0.8v0.8h-0.8zM281.9 261.4h0.8v0.8h-0.8zM264.7 270.1h0.8v0.8h-0.8zM285.8 248.4h0.8v0.8h-0.8zM273.6 279.6h0.8v0.8h-0.8zM288.4 271.1h0.8v0.8h-0.8zM285.1 248.3h0.8v0.8h-0.8zM285.9 271.4h0.8v0.8h-0.8zM269.0 275.8h0.8v0.8h-0.8zM284.3 276.0h0.8v0.8h-0.8zM286.5 247.3h0.8v0.8h-0.8zM268.2 270.6h0.8v0.8h-0.8zM268.3 252.8h0.8v0.8h-0.8zM283.7 271.7h0.8v0.8h-0.8zM274.0 254.8h0.8v0.8h-0.8zM281.4 280.3h0.8v0.8h-0.8zM279.7 252.7h0.8v0.8h-0.8zM270.0 248.8h0.8v0.8h-0.8zM279.3 266.6h0.8v0.8h-0.8zM269.6 267.7h0.8v0.8h-0.8zM279.1 260.4h0.8v0.8h-0.8zM277.2 254.7h0.8v0.8h-0.8zM264.4 259.1h0.8v0.8h-0.8zM280.6 274.6h0.8v0.8h-0.8zM288.3 263.5h0.8v0.8h-0.8zM268.0 273.2h0.8v0.8h-0.8zM274.4 278.5h0.8v0.8h-0.8zM287.6 247.2h0.8v0.8h-0.8zM265.3 246.8h0.8v0.8h-0.8zM280.9 257.4h0.8v0.8h-0.8zM279.6 252.1h0.8v0.8h-0.8zM278.8 247.3h0.8v0.8h-0.8zM269.2 267.2h0.8v0.8h-0.8zM269.7 247.6h0.8v0.8h-0.8zM280.2 279.6h0.8v0.8h-0.8zM287.4 274.3h0.8v0.8h-0.8zM281.8 246.5h0.8v0.8h-0.8zM267.9 260.8h0.8v0.8h-0.8zM277.3 272.1h0.8v0.8h-0.8zM264.8 262.5h0.8v0.8h-0.8zM265.8 268.2h0.8v0.8h-0.8zM266.2 257.2h0.8v0.8h-0.8zM283.3 279.7h0.8v0.8h-0.8zM283.9 269.4h0.8v0.8h-0.8zM271.5 263.1h0.8v0.8h-0.8zM277.5 257.5h0.8v0.8h-0.8zM278.9 255.8h0.8v0.8h-0.8zM273.5 268.6h0.8v0.8h-0.8zM280.2 279.2h0.8v0.8h-0.8zM287.2 270.3h0.8v0.8h-0.8zM266.8 257.8h0.8v0.8h-0.8zM276.4 269.8h0.8v0.8h-0.8zM286.7 249.0h0.8v0.8h-0.8zM264.3 273.7h0.8v0.8h-0.8zM288.4 252.5h0.8v0.8h-0.8zM279.0 253.9h0.8v0.8h-0.8zM273.6 263.0h0.8v0.8h-0.8zM281.3 275.3h0.8v0.8h-0.8zM273.1 257.5h0.8v0.8h-0.8zM275.3 279.7h0.8v0.8h-0.8zM276.9 276.1h0.8v0.8h-0.8zM288.2 246.6h0.8v0.8h-0.8zM283.3 247.5h0.8v0.8h-0.8zM276.4 262.7h0.8v0.8h-0.8zM266.0 260.7h0.8v0.8h-0.8zM281.3 252.8h0.8v0.8h-0.8zM277.5 254.2h0.8v0.8h-0.8zM267.8 250.3h0.8v0.8h-0.8zM287.5 263.0h0.8v0.8h-0.8zM277.5 270.5h0.8v0.8h-0.8zM284.9 268.2h0.8v0.8h-0.8zM274.0 259.2h0.8v0.8h-0.8zM272.1 246.9h0.8v0.8h-0.8zM287.1 247.1h0.8v0.8h-0.8zM273.3 272.8h0.8v0.8h-0.8zM271.8 275.8h0.8v0.8h-0.8zM264.5 248.1h0.8v0.8h-0.8zM275.2 263.0h0.8v0.8h-0.8zM283.8 275.0h0.8v0.8h-0.8zM284.5 248.8h0.8v0.8h-0.8zM288.8 246.7h0.8v0.8h-0.8zM275.7 252.8h0.8v0.8h-0.8zM264.6 249.2h0.8v0.8h-0.8zM288.8 278.9h0.8v0.8h-0.8zM272.6 280.5h0.8v0.8h-0.8zM282.5 246.6h0.8v0.8h-0.8zM279.1 249.2h0.8v0.8h-0.8zM271.0 266.5h0.8v0.8h-0.8zM269.2 252.9h0.8v0.8h-0.8zM264.1 252.0h0.8v0.8h-0.8zM271.6 247.5h0.8v0.8h-0.8zM266.4 254.6h0.8v0.8h-0.8zM266.0 277.1h0.8v0.8h-0.8zM270.4 253.3h0.8v0.8h-0.8zM265.6 270.9h0.8v0.8h-0.8zM268.7 247.1h0.8v0.8h-0.8zM273.3 275.9h0.8v0.8h-0.8zM286.9 256.5h0.8v0.8h-0.8zM278.5 247.0h0.8v0.8h-0.8zM286.6 268.1h0.8v0.8h-0.8zM270.2 272.2h0.8v0.8h-0.8zM268.0 257.1h0.8v0.8h-0.8zM271.2 260.2h0.8v0.8h-0.8zM270.3 259.3h0.8v0.8h-0.8zM270.4 246.5h0.8v0.8h-0.8zM266.8 269.8h0.8v0.8h-0.8zM275.2 258.2h0.8v0.8h-0.8zM280.5 250.3h0.8v0.8h-0.8zM268.7 254.6h0.8v0.8h-0.8zM282.8 267.1h0.8v0.8h-0.8zM275.5 261.8h0.8v0.8h-0.8zM270.4 277.7h0.8v0.8h-0.8zM280.0 270.5h0.8v0.8h-0.8zM273.2 260.7h0.8v0.8h-0.8zM281.8 258.9h0.8v0.8h-0.8zM283.0 250.7h0.8v0.8h-0.8zM283.6 251.9h0.8v0.8h-0.8zM276.9 248.0h0.8v0.8h-0.8zM274.1 274.5h0.8v0.8h-0.8zM264.8 248.8h0.8v0.8h-0.8zM277.6 263.9h0.8v0.8h-0.8zM281.2 265.1h0.8v0.8h-0.8zM282.0 261.6h0.8v0.8h-0.8zM267.8 259.3h0.8v0.8h-0.8zM271.0 246.5h0.8v0.8h-0.8zM276.7 279.1h0.8v0.8h-0.8zM275.7 268.4h0.8v0.8h-0.8zM279.6 246.7h0.8v0.8h-0.8zM277.7 279.9h0.8v0.8h-0.8zM280.3 251.4h0.8v0.8h-0.8zM286.6 264.4h0.8v0.8h-0.8zM287.3 272.6h0.8v0.8h-0.8zM278.6 256.6h0.8v0.8h-0.8zM277.3 252.0h0.8v0.8h-0.8zM285.3 247.8h0.8v0.8h-0.8zM288.7 252.5h0.8v0.8h-0.8zM275.0 261.9h0.8v0.8h-0.8zM271.8 261.8h0.8v0.8h-0.8zM265.4 273.7h0.8v0.8h-0.8zM266.6 273.9h0.8v0.8h-0.8zM285.5 269.7h0.8v0.8h-0.8z" fill="#4a4cb0" fill-opacity="0.4"/>
<ellipse cx="271.0" cy="252.0" rx="7" ry="5" fill="#4a4cb8" fill-opacity="0.55" filter="url(#bl15)"/>
<ellipse cx="279.0" cy="284.4" rx="14.2" ry="3.2" fill="#2c4fbf" fill-opacity="1" filter="url(#bl05)"/>
<ellipse cx="279.0" cy="284.4" rx="12" ry="2.3" fill="#1fa8df" fill-opacity="1" filter="url(#bl05)"/>
<ellipse cx="279.0" cy="284.4" rx="9" ry="1.5" fill="#1fae4c" fill-opacity="1" filter="url(#bl05)"/>
<ellipse cx="279.0" cy="284.4" rx="5.5" ry="0.8" fill="#ebe224" fill-opacity="1" filter="url(#bl05)"/>
<ellipse cx="278.0" cy="284.4" rx="2.5" ry="0.5" fill="#f59b20" fill-opacity="1" filter="url(#bl05)"/>
</g>
<rect x="264.4" y="280.4" width="29.400000000000034" height="8.100000000000023" fill="none" stroke="#8a8a8a" stroke-width="0.8"/>
<text x="270.6" y="295.4" font-size="7.4" fill="#231f20" textLength="18.8" lengthAdjust="spacingAndGlyphs">92.8%</text>
<line x1="249.0" y1="299.5" x2="249.0" y2="302.7" stroke="#231f20" stroke-width="0.9"/>
<text transform="translate(250.2,310.3) rotate(-45)" font-size="6.4" text-anchor="middle" fill="#2a2a2a">0</text>
<line x1="260.2" y1="299.5" x2="260.2" y2="302.7" stroke="#231f20" stroke-width="0.9"/>
<text transform="translate(262.5,310.1) rotate(-45)" font-size="6.8" text-anchor="end" fill="#2a2a2a" textLength="10.8" lengthAdjust="spacingAndGlyphs">50K</text>
<line x1="271.4" y1="299.5" x2="271.4" y2="302.7" stroke="#231f20" stroke-width="0.9"/>
<text transform="translate(273.7,310.1) rotate(-45)" font-size="6.8" text-anchor="end" fill="#2a2a2a" textLength="14.6" lengthAdjust="spacingAndGlyphs">100K</text>
<line x1="282.6" y1="299.5" x2="282.6" y2="302.7" stroke="#231f20" stroke-width="0.9"/>
<text transform="translate(284.90000000000003,310.1) rotate(-45)" font-size="6.8" text-anchor="end" fill="#2a2a2a" textLength="14.6" lengthAdjust="spacingAndGlyphs">150K</text>
<line x1="293.8" y1="299.5" x2="293.8" y2="302.7" stroke="#231f20" stroke-width="0.9"/>
<text transform="translate(296.1,310.1) rotate(-45)" font-size="6.8" text-anchor="end" fill="#2a2a2a" textLength="14.6" lengthAdjust="spacingAndGlyphs">200K</text>
<line x1="305.0" y1="299.5" x2="305.0" y2="302.7" stroke="#231f20" stroke-width="0.9"/>
<text transform="translate(307.3,310.1) rotate(-45)" font-size="6.8" text-anchor="end" fill="#2a2a2a" textLength="14.6" lengthAdjust="spacingAndGlyphs">250K</text>
<line x1="249.0" y1="299.5" x2="249.0" y2="301.3" stroke="#231f20" stroke-width="0.6"/>
<line x1="251.24" y1="299.5" x2="251.24" y2="301.3" stroke="#231f20" stroke-width="0.6"/>
<line x1="253.48" y1="299.5" x2="253.48" y2="301.3" stroke="#231f20" stroke-width="0.6"/>
<line x1="255.72" y1="299.5" x2="255.72" y2="301.3" stroke="#231f20" stroke-width="0.6"/>
<line x1="257.96" y1="299.5" x2="257.96" y2="301.3" stroke="#231f20" stroke-width="0.6"/>
<line x1="260.2" y1="299.5" x2="260.2" y2="301.3" stroke="#231f20" stroke-width="0.6"/>
<line x1="262.44" y1="299.5" x2="262.44" y2="301.3" stroke="#231f20" stroke-width="0.6"/>
<line x1="264.68" y1="299.5" x2="264.68" y2="301.3" stroke="#231f20" stroke-width="0.6"/>
<line x1="266.92" y1="299.5" x2="266.92" y2="301.3" stroke="#231f20" stroke-width="0.6"/>
<line x1="269.16" y1="299.5" x2="269.16" y2="301.3" stroke="#231f20" stroke-width="0.6"/>
<line x1="271.4" y1="299.5" x2="271.4" y2="301.3" stroke="#231f20" stroke-width="0.6"/>
<line x1="273.64" y1="299.5" x2="273.64" y2="301.3" stroke="#231f20" stroke-width="0.6"/>
<line x1="275.88" y1="299.5" x2="275.88" y2="301.3" stroke="#231f20" stroke-width="0.6"/>
<line x1="278.12" y1="299.5" x2="278.12" y2="301.3" stroke="#231f20" stroke-width="0.6"/>
<line x1="280.36" y1="299.5" x2="280.36" y2="301.3" stroke="#231f20" stroke-width="0.6"/>
<line x1="282.6" y1="299.5" x2="282.6" y2="301.3" stroke="#231f20" stroke-width="0.6"/>
<line x1="284.84000000000003" y1="299.5" x2="284.84000000000003" y2="301.3" stroke="#231f20" stroke-width="0.6"/>
<line x1="287.08" y1="299.5" x2="287.08" y2="301.3" stroke="#231f20" stroke-width="0.6"/>
<line x1="289.32" y1="299.5" x2="289.32" y2="301.3" stroke="#231f20" stroke-width="0.6"/>
<line x1="291.56" y1="299.5" x2="291.56" y2="301.3" stroke="#231f20" stroke-width="0.6"/>
<line x1="293.8" y1="299.5" x2="293.8" y2="301.3" stroke="#231f20" stroke-width="0.6"/>
<line x1="296.04" y1="299.5" x2="296.04" y2="301.3" stroke="#231f20" stroke-width="0.6"/>
<line x1="298.28" y1="299.5" x2="298.28" y2="301.3" stroke="#231f20" stroke-width="0.6"/>
<line x1="300.52" y1="299.5" x2="300.52" y2="301.3" stroke="#231f20" stroke-width="0.6"/>
<line x1="302.76" y1="299.5" x2="302.76" y2="301.3" stroke="#231f20" stroke-width="0.6"/>
<line x1="305.0" y1="299.5" x2="305.0" y2="301.3" stroke="#231f20" stroke-width="0.6"/>
<line x1="307.24" y1="299.5" x2="307.24" y2="301.3" stroke="#231f20" stroke-width="0.6"/>
<line x1="245.6" y1="246.0" x2="249.0" y2="246.0" stroke="#231f20" stroke-width="0.9"/>
<text x="239.0" y="248.3" font-size="6.4" fill="#2a2a2a" text-anchor="end" textLength="5.4" lengthAdjust="spacingAndGlyphs">10</text>
<text x="239.4" y="245.4" font-size="4.0" fill="#2a2a2a">5</text>
<line x1="245.6" y1="260.0" x2="249.0" y2="260.0" stroke="#231f20" stroke-width="0.9"/>
<text x="239.0" y="262.3" font-size="6.4" fill="#2a2a2a" text-anchor="end" textLength="5.4" lengthAdjust="spacingAndGlyphs">10</text>
<text x="239.4" y="259.4" font-size="4.0" fill="#2a2a2a">4</text>
<line x1="245.6" y1="276.3" x2="249.0" y2="276.3" stroke="#231f20" stroke-width="0.9"/>
<text x="239.0" y="278.6" font-size="6.4" fill="#2a2a2a" text-anchor="end" textLength="5.4" lengthAdjust="spacingAndGlyphs">10</text>
<text x="239.4" y="275.7" font-size="4.0" fill="#2a2a2a">3</text>
<line x1="245.6" y1="286.2" x2="249.0" y2="286.2" stroke="#231f20" stroke-width="0.9"/>
<text x="239.6" y="288.3" font-size="6.0" fill="#2a2a2a" text-anchor="end">0</text>
<line x1="245.6" y1="296.0" x2="249.0" y2="296.0" stroke="#231f20" stroke-width="0.9"/>
<text x="239.0" y="298.3" font-size="6.4" fill="#2a2a2a" text-anchor="end" textLength="8.0" lengthAdjust="spacingAndGlyphs">-10</text>
<text x="239.4" y="295.4" font-size="4.0" fill="#2a2a2a">3</text>
<line x1="247.4" y1="241.7" x2="249.0" y2="241.7" stroke="#231f20" stroke-width="0.55"/>
<line x1="247.4" y1="243.7" x2="249.0" y2="243.7" stroke="#231f20" stroke-width="0.55"/>
<line x1="247.4" y1="245.7" x2="249.0" y2="245.7" stroke="#231f20" stroke-width="0.55"/>
<line x1="247.4" y1="247.7" x2="249.0" y2="247.7" stroke="#231f20" stroke-width="0.55"/>
<line x1="247.4" y1="249.7" x2="249.0" y2="249.7" stroke="#231f20" stroke-width="0.55"/>
<line x1="247.4" y1="251.7" x2="249.0" y2="251.7" stroke="#231f20" stroke-width="0.55"/>
<line x1="247.4" y1="253.7" x2="249.0" y2="253.7" stroke="#231f20" stroke-width="0.55"/>
<line x1="247.4" y1="255.7" x2="249.0" y2="255.7" stroke="#231f20" stroke-width="0.55"/>
<line x1="247.4" y1="257.7" x2="249.0" y2="257.7" stroke="#231f20" stroke-width="0.55"/>
<line x1="247.4" y1="259.7" x2="249.0" y2="259.7" stroke="#231f20" stroke-width="0.55"/>
<line x1="247.4" y1="261.7" x2="249.0" y2="261.7" stroke="#231f20" stroke-width="0.55"/>
<line x1="247.4" y1="263.7" x2="249.0" y2="263.7" stroke="#231f20" stroke-width="0.55"/>
<line x1="247.4" y1="265.7" x2="249.0" y2="265.7" stroke="#231f20" stroke-width="0.55"/>
<line x1="247.4" y1="267.7" x2="249.0" y2="267.7" stroke="#231f20" stroke-width="0.55"/>
<line x1="247.4" y1="269.7" x2="249.0" y2="269.7" stroke="#231f20" stroke-width="0.55"/>
<line x1="247.4" y1="271.7" x2="249.0" y2="271.7" stroke="#231f20" stroke-width="0.55"/>
<line x1="247.4" y1="273.7" x2="249.0" y2="273.7" stroke="#231f20" stroke-width="0.55"/>
<line x1="247.4" y1="275.7" x2="249.0" y2="275.7" stroke="#231f20" stroke-width="0.55"/>
<line x1="247.4" y1="277.7" x2="249.0" y2="277.7" stroke="#231f20" stroke-width="0.55"/>
<line x1="247.4" y1="279.7" x2="249.0" y2="279.7" stroke="#231f20" stroke-width="0.55"/>
<line x1="247.4" y1="281.7" x2="249.0" y2="281.7" stroke="#231f20" stroke-width="0.55"/>
<line x1="247.4" y1="283.7" x2="249.0" y2="283.7" stroke="#231f20" stroke-width="0.55"/>
<line x1="247.4" y1="285.7" x2="249.0" y2="285.7" stroke="#231f20" stroke-width="0.55"/>
<line x1="247.4" y1="287.7" x2="249.0" y2="287.7" stroke="#231f20" stroke-width="0.55"/>
<line x1="247.4" y1="289.7" x2="249.0" y2="289.7" stroke="#231f20" stroke-width="0.55"/>
<line x1="247.4" y1="291.7" x2="249.0" y2="291.7" stroke="#231f20" stroke-width="0.55"/>
<line x1="247.4" y1="293.7" x2="249.0" y2="293.7" stroke="#231f20" stroke-width="0.55"/>
<line x1="247.4" y1="295.7" x2="249.0" y2="295.7" stroke="#231f20" stroke-width="0.55"/>
<line x1="247.4" y1="297.7" x2="249.0" y2="297.7" stroke="#231f20" stroke-width="0.55"/>
<rect x="249.0" y="239.7" width="59.8" height="59.8" fill="none" stroke="#231f20" stroke-width="1.3"/>
<text x="281.6" y="332.6" font-size="9.7" fill="#231f20" text-anchor="middle" textLength="23.6" lengthAdjust="spacingAndGlyphs">FSC-A</text>
<text transform="translate(226.2,264.3) rotate(-90)" font-size="9.9" text-anchor="middle" fill="#231f20" textLength="39.7" lengthAdjust="spacingAndGlyphs">Live/dead</text>
<g clip-path="url(#cpB3)">
<path d="M58.2 399.5h0.8v0.8h-0.8zM84.7 400.1h0.8v0.8h-0.8zM58.5 377.6h0.8v0.8h-0.8zM80.7 404.3h0.8v0.8h-0.8zM57.8 402.0h0.8v0.8h-0.8zM67.8 370.4h0.8v0.8h-0.8zM60.6 374.5h0.8v0.8h-0.8zM69.2 405.3h0.8v0.8h-0.8zM65.1 377.2h0.8v0.8h-0.8zM60.8 372.7h0.8v0.8h-0.8zM53.6 401.3h0.8v0.8h-0.8zM64.5 374.4h0.8v0.8h-0.8zM89.4 396.4h0.8v0.8h-0.8zM55.9 378.1h0.8v0.8h-0.8zM93.0 375.6h0.8v0.8h-0.8zM62.8 404.0h0.8v0.8h-0.8zM57.3 389.2h0.8v0.8h-0.8zM58.4 377.4h0.8v0.8h-0.8zM53.8 401.6h0.8v0.8h-0.8zM57.2 380.4h0.8v0.8h-0.8zM71.0 378.0h0.8v0.8h-0.8zM60.1 401.2h0.8v0.8h-0.8zM92.5 401.0h0.8v0.8h-0.8zM84.7 399.8h0.8v0.8h-0.8zM75.5 404.0h0.8v0.8h-0.8zM71.4 403.3h0.8v0.8h-0.8zM58.0 397.5h0.8v0.8h-0.8zM93.7 391.3h0.8v0.8h-0.8zM65.5 372.9h0.8v0.8h-0.8zM53.5 402.2h0.8v0.8h-0.8zM64.9 375.4h0.8v0.8h-0.8zM89.2 393.8h0.8v0.8h-0.8zM58.3 384.2h0.8v0.8h-0.8zM69.2 378.7h0.8v0.8h-0.8zM59.5 380.6h0.8v0.8h-0.8zM76.3 397.9h0.8v0.8h-0.8zM76.6 383.2h0.8v0.8h-0.8zM64.8 404.7h0.8v0.8h-0.8zM53.9 399.7h0.8v0.8h-0.8zM51.9 398.5h0.8v0.8h-0.8zM61.1 377.5h0.8v0.8h-0.8zM55.3 402.6h0.8v0.8h-0.8zM60.1 375.3h0.8v0.8h-0.8zM68.1 401.7h0.8v0.8h-0.8zM68.9 376.9h0.8v0.8h-0.8zM60.7 381.1h0.8v0.8h-0.8zM75.9 399.2h0.8v0.8h-0.8zM66.3 383.2h0.8v0.8h-0.8zM64.0 402.1h0.8v0.8h-0.8zM84.5 398.6h0.8v0.8h-0.8zM62.3 402.5h0.8v0.8h-0.8zM60.1 372.1h0.8v0.8h-0.8zM70.6 400.2h0.8v0.8h-0.8zM61.1 396.4h0.8v0.8h-0.8zM67.2 378.5h0.8v0.8h-0.8zM61.8 402.3h0.8v0.8h-0.8zM91.4 401.1h0.8v0.8h-0.8zM75.6 378.4h0.8v0.8h-0.8zM69.9 370.0h0.8v0.8h-0.8zM57.6 376.8h0.8v0.8h-0.8zM69.9 371.0h0.8v0.8h-0.8zM62.9 398.5h0.8v0.8h-0.8zM64.8 397.9h0.8v0.8h-0.8zM84.0 395.8h0.8v0.8h-0.8zM59.6 382.6h0.8v0.8h-0.8zM89.3 399.5h0.8v0.8h-0.8zM61.1 381.5h0.8v0.8h-0.8zM62.4 385.1h0.8v0.8h-0.8zM63.0 373.2h0.8v0.8h-0.8zM59.6 404.7h0.8v0.8h-0.8zM74.1 389.7h0.8v0.8h-0.8zM78.5 401.5h0.8v0.8h-0.8zM76.0 400.2h0.8v0.8h-0.8zM79.6 376.3h0.8v0.8h-0.8zM57.7 376.2h0.8v0.8h-0.8zM63.6 376.4h0.8v0.8h-0.8zM57.6 373.1h0.8v0.8h-0.8zM69.8 388.2h0.8v0.8h-0.8zM93.7 402.2h0.8v0.8h-0.8zM58.9 372.8h0.8v0.8h-0.8zM80.4 401.0h0.8v0.8h-0.8zM55.0 371.3h0.8v0.8h-0.8zM61.9 400.4h0.8v0.8h-0.8zM67.3 377.8h0.8v0.8h-0.8zM82.7 403.0h0.8v0.8h-0.8zM56.5 399.9h0.8v0.8h-0.8zM74.6 390.1h0.8v0.8h-0.8zM61.9 376.7h0.8v0.8h-0.8zM63.2 375.1h0.8v0.8h-0.8zM54.7 379.1h0.8v0.8h-0.8zM57.8 402.2h0.8v0.8h-0.8zM88.2 374.1h0.8v0.8h-0.8zM61.2 376.0h0.8v0.8h-0.8zM72.1 397.1h0.8v0.8h-0.8zM64.0 377.0h0.8v0.8h-0.8zM50.9 375.6h0.8v0.8h-0.8zM69.9 381.2h0.8v0.8h-0.8zM93.6 374.7h0.8v0.8h-0.8zM67.6 378.9h0.8v0.8h-0.8zM60.7 383.2h0.8v0.8h-0.8zM58.4 373.2h0.8v0.8h-0.8zM64.3 379.3h0.8v0.8h-0.8zM61.7 387.0h0.8v0.8h-0.8zM75.0 380.4h0.8v0.8h-0.8zM86.7 402.4h0.8v0.8h-0.8zM90.5 402.8h0.8v0.8h-0.8zM92.1 399.9h0.8v0.8h-0.8zM66.4 376.8h0.8v0.8h-0.8zM54.2 397.0h0.8v0.8h-0.8zM65.0 380.8h0.8v0.8h-0.8zM84.3 399.9h0.8v0.8h-0.8zM58.1 371.1h0.8v0.8h-0.8zM64.0 398.4h0.8v0.8h-0.8zM70.8 403.9h0.8v0.8h-0.8zM83.4 401.8h0.8v0.8h-0.8zM63.2 374.4h0.8v0.8h-0.8zM65.4 380.7h0.8v0.8h-0.8zM62.4 400.3h0.8v0.8h-0.8zM61.4 382.9h0.8v0.8h-0.8zM63.2 376.3h0.8v0.8h-0.8zM56.0 377.1h0.8v0.8h-0.8zM65.2 379.7h0.8v0.8h-0.8zM66.2 404.7h0.8v0.8h-0.8zM59.8 375.0h0.8v0.8h-0.8zM63.5 372.4h0.8v0.8h-0.8zM53.4 401.1h0.8v0.8h-0.8zM64.5 375.0h0.8v0.8h-0.8zM88.6 400.1h0.8v0.8h-0.8zM63.3 402.3h0.8v0.8h-0.8zM50.0 397.7h0.8v0.8h-0.8zM57.8 380.1h0.8v0.8h-0.8zM69.2 377.6h0.8v0.8h-0.8zM71.2 374.9h0.8v0.8h-0.8zM58.6 378.7h0.8v0.8h-0.8zM76.9 402.9h0.8v0.8h-0.8zM59.5 373.0h0.8v0.8h-0.8zM63.4 375.6h0.8v0.8h-0.8zM90.9 402.9h0.8v0.8h-0.8zM65.2 404.9h0.8v0.8h-0.8zM63.0 382.5h0.8v0.8h-0.8zM76.9 391.0h0.8v0.8h-0.8zM78.5 395.8h0.8v0.8h-0.8zM81.6 400.9h0.8v0.8h-0.8zM59.4 397.4h0.8v0.8h-0.8zM57.8 396.1h0.8v0.8h-0.8zM50.6 404.8h0.8v0.8h-0.8zM59.2 374.4h0.8v0.8h-0.8zM84.6 398.9h0.8v0.8h-0.8zM93.2 398.5h0.8v0.8h-0.8zM56.7 397.4h0.8v0.8h-0.8zM70.9 370.4h0.8v0.8h-0.8zM58.3 399.1h0.8v0.8h-0.8zM58.2 379.2h0.8v0.8h-0.8zM49.3 378.1h0.8v0.8h-0.8zM56.5 395.9h0.8v0.8h-0.8zM60.4 374.4h0.8v0.8h-0.8zM57.5 377.3h0.8v0.8h-0.8zM62.4 379.2h0.8v0.8h-0.8zM56.6 378.8h0.8v0.8h-0.8zM62.7 380.5h0.8v0.8h-0.8zM60.1 378.1h0.8v0.8h-0.8zM55.4 398.9h0.8v0.8h-0.8zM92.8 400.8h0.8v0.8h-0.8zM53.8 401.1h0.8v0.8h-0.8zM61.0 388.3h0.8v0.8h-0.8zM86.7 402.2h0.8v0.8h-0.8zM68.4 397.9h0.8v0.8h-0.8zM81.1 404.0h0.8v0.8h-0.8zM87.1 398.6h0.8v0.8h-0.8zM60.2 399.1h0.8v0.8h-0.8zM59.7 379.6h0.8v0.8h-0.8zM76.7 404.1h0.8v0.8h-0.8zM65.0 376.4h0.8v0.8h-0.8zM64.8 378.3h0.8v0.8h-0.8zM82.7 392.3h0.8v0.8h-0.8zM74.1 400.5h0.8v0.8h-0.8zM74.2 399.6h0.8v0.8h-0.8zM84.9 402.1h0.8v0.8h-0.8zM90.7 384.5h0.8v0.8h-0.8zM57.7 376.2h0.8v0.8h-0.8zM83.2 398.6h0.8v0.8h-0.8zM73.7 371.9h0.8v0.8h-0.8zM68.6 402.4h0.8v0.8h-0.8zM62.6 374.9h0.8v0.8h-0.8zM56.8 376.5h0.8v0.8h-0.8zM49.5 379.7h0.8v0.8h-0.8zM69.0 403.9h0.8v0.8h-0.8zM58.9 389.3h0.8v0.8h-0.8zM81.3 394.5h0.8v0.8h-0.8zM79.0 402.3h0.8v0.8h-0.8zM60.6 407.2h0.8v0.8h-0.8zM58.3 400.9h0.8v0.8h-0.8zM67.5 382.3h0.8v0.8h-0.8zM90.0 400.7h0.8v0.8h-0.8zM59.6 378.8h0.8v0.8h-0.8zM87.0 373.7h0.8v0.8h-0.8zM80.3 398.0h0.8v0.8h-0.8zM59.3 398.1h0.8v0.8h-0.8zM63.8 380.8h0.8v0.8h-0.8zM63.6 374.9h0.8v0.8h-0.8zM56.0 372.5h0.8v0.8h-0.8zM69.6 404.4h0.8v0.8h-0.8zM86.6 376.6h0.8v0.8h-0.8zM59.1 398.2h0.8v0.8h-0.8zM67.1 397.7h0.8v0.8h-0.8zM61.7 371.8h0.8v0.8h-0.8zM56.2 380.6h0.8v0.8h-0.8zM74.1 403.5h0.8v0.8h-0.8zM91.4 400.8h0.8v0.8h-0.8zM78.3 382.4h0.8v0.8h-0.8zM53.8 375.4h0.8v0.8h-0.8zM64.8 376.6h0.8v0.8h-0.8zM63.6 373.2h0.8v0.8h-0.8zM81.9 399.4h0.8v0.8h-0.8zM90.8 372.6h0.8v0.8h-0.8zM90.7 401.9h0.8v0.8h-0.8zM61.9 381.0h0.8v0.8h-0.8zM56.3 407.0h0.8v0.8h-0.8zM68.3 381.7h0.8v0.8h-0.8zM56.2 375.5h0.8v0.8h-0.8zM78.0 401.5h0.8v0.8h-0.8zM81.4 400.1h0.8v0.8h-0.8zM77.6 400.4h0.8v0.8h-0.8zM61.6 369.5h0.8v0.8h-0.8zM76.3 398.2h0.8v0.8h-0.8zM60.5 366.9h0.8v0.8h-0.8zM78.3 398.2h0.8v0.8h-0.8zM60.7 380.1h0.8v0.8h-0.8zM78.6 379.4h0.8v0.8h-0.8zM59.8 372.6h0.8v0.8h-0.8zM77.3 404.1h0.8v0.8h-0.8zM71.3 376.8h0.8v0.8h-0.8zM90.9 398.9h0.8v0.8h-0.8zM51.0 394.8h0.8v0.8h-0.8zM60.8 398.3h0.8v0.8h-0.8zM58.4 395.7h0.8v0.8h-0.8zM65.6 383.0h0.8v0.8h-0.8zM74.6 395.8h0.8v0.8h-0.8zM57.9 399.0h0.8v0.8h-0.8zM85.9 381.9h0.8v0.8h-0.8zM59.1 400.6h0.8v0.8h-0.8zM85.8 401.5h0.8v0.8h-0.8zM62.3 380.8h0.8v0.8h-0.8zM60.7 374.1h0.8v0.8h-0.8zM52.3 381.2h0.8v0.8h-0.8zM55.1 401.1h0.8v0.8h-0.8zM78.8 401.3h0.8v0.8h-0.8zM58.5 384.3h0.8v0.8h-0.8zM59.4 369.9h0.8v0.8h-0.8zM64.0 400.1h0.8v0.8h-0.8zM77.4 393.7h0.8v0.8h-0.8zM90.9 404.9h0.8v0.8h-0.8zM55.5 399.8h0.8v0.8h-0.8zM68.6 399.0h0.8v0.8h-0.8zM55.3 379.0h0.8v0.8h-0.8zM83.9 405.2h0.8v0.8h-0.8zM58.2 377.6h0.8v0.8h-0.8zM58.2 379.5h0.8v0.8h-0.8zM61.8 382.3h0.8v0.8h-0.8zM62.3 375.8h0.8v0.8h-0.8zM63.9 399.6h0.8v0.8h-0.8zM53.2 401.6h0.8v0.8h-0.8zM73.4 399.8h0.8v0.8h-0.8zM52.9 404.8h0.8v0.8h-0.8zM89.5 389.2h0.8v0.8h-0.8zM70.4 373.1h0.8v0.8h-0.8zM90.4 399.9h0.8v0.8h-0.8zM85.6 399.2h0.8v0.8h-0.8zM78.5 402.7h0.8v0.8h-0.8zM75.1 398.2h0.8v0.8h-0.8zM87.3 401.7h0.8v0.8h-0.8zM65.3 402.1h0.8v0.8h-0.8zM65.9 377.0h0.8v0.8h-0.8zM72.7 375.2h0.8v0.8h-0.8zM59.6 376.5h0.8v0.8h-0.8zM55.8 376.4h0.8v0.8h-0.8zM55.7 406.6h0.8v0.8h-0.8zM78.3 403.0h0.8v0.8h-0.8zM58.5 402.4h0.8v0.8h-0.8zM70.4 403.1h0.8v0.8h-0.8zM53.5 402.6h0.8v0.8h-0.8zM59.3 380.1h0.8v0.8h-0.8zM49.1 370.1h0.8v0.8h-0.8zM55.2 402.2h0.8v0.8h-0.8zM60.3 377.2h0.8v0.8h-0.8zM67.9 372.5h0.8v0.8h-0.8zM63.4 396.4h0.8v0.8h-0.8zM70.1 373.7h0.8v0.8h-0.8zM80.2 401.7h0.8v0.8h-0.8zM92.8 384.6h0.8v0.8h-0.8zM79.5 375.0h0.8v0.8h-0.8zM61.8 405.0h0.8v0.8h-0.8zM55.6 373.8h0.8v0.8h-0.8zM56.4 397.0h0.8v0.8h-0.8zM54.8 398.0h0.8v0.8h-0.8zM62.6 373.2h0.8v0.8h-0.8zM63.8 375.5h0.8v0.8h-0.8zM51.6 400.3h0.8v0.8h-0.8zM50.2 401.9h0.8v0.8h-0.8zM70.1 393.5h0.8v0.8h-0.8zM83.2 403.0h0.8v0.8h-0.8zM57.6 401.8h0.8v0.8h-0.8zM65.4 403.1h0.8v0.8h-0.8zM55.5 403.6h0.8v0.8h-0.8zM59.9 398.1h0.8v0.8h-0.8zM76.3 399.4h0.8v0.8h-0.8zM56.2 382.5h0.8v0.8h-0.8zM61.8 369.5h0.8v0.8h-0.8zM85.1 380.2h0.8v0.8h-0.8zM53.8 399.9h0.8v0.8h-0.8zM84.5 402.7h0.8v0.8h-0.8zM83.6 396.6h0.8v0.8h-0.8zM63.5 381.6h0.8v0.8h-0.8zM71.9 400.8h0.8v0.8h-0.8zM71.9 376.1h0.8v0.8h-0.8zM56.6 378.4h0.8v0.8h-0.8zM55.7 385.7h0.8v0.8h-0.8zM68.5 400.8h0.8v0.8h-0.8zM66.3 374.7h0.8v0.8h-0.8zM83.7 398.8h0.8v0.8h-0.8zM61.7 381.8h0.8v0.8h-0.8zM88.8 401.8h0.8v0.8h-0.8zM84.7 397.4h0.8v0.8h-0.8zM55.3 399.4h0.8v0.8h-0.8zM84.3 401.5h0.8v0.8h-0.8zM52.4 400.0h0.8v0.8h-0.8zM83.1 400.8h0.8v0.8h-0.8zM60.2 375.8h0.8v0.8h-0.8zM63.6 375.8h0.8v0.8h-0.8zM91.1 400.8h0.8v0.8h-0.8zM67.7 397.2h0.8v0.8h-0.8zM61.8 372.5h0.8v0.8h-0.8zM71.1 400.7h0.8v0.8h-0.8zM64.4 376.1h0.8v0.8h-0.8zM54.7 380.6h0.8v0.8h-0.8zM59.8 377.5h0.8v0.8h-0.8zM64.5 373.0h0.8v0.8h-0.8zM86.8 400.3h0.8v0.8h-0.8zM55.8 374.2h0.8v0.8h-0.8zM79.5 392.3h0.8v0.8h-0.8zM61.7 379.4h0.8v0.8h-0.8zM55.0 399.0h0.8v0.8h-0.8zM69.9 375.9h0.8v0.8h-0.8zM55.7 384.1h0.8v0.8h-0.8zM57.2 380.3h0.8v0.8h-0.8zM65.2 380.2h0.8v0.8h-0.8zM59.0 381.1h0.8v0.8h-0.8zM55.6 401.7h0.8v0.8h-0.8zM72.6 403.4h0.8v0.8h-0.8zM69.3 394.4h0.8v0.8h-0.8zM57.2 374.0h0.8v0.8h-0.8zM60.9 401.3h0.8v0.8h-0.8zM90.1 401.6h0.8v0.8h-0.8zM67.6 374.9h0.8v0.8h-0.8zM67.8 381.3h0.8v0.8h-0.8zM58.3 378.8h0.8v0.8h-0.8zM58.4 401.1h0.8v0.8h-0.8zM72.8 380.6h0.8v0.8h-0.8zM60.5 400.3h0.8v0.8h-0.8zM76.7 383.1h0.8v0.8h-0.8zM79.1 401.3h0.8v0.8h-0.8zM58.4 378.1h0.8v0.8h-0.8zM66.3 379.1h0.8v0.8h-0.8zM58.4 374.3h0.8v0.8h-0.8zM71.7 402.0h0.8v0.8h-0.8zM65.5 403.4h0.8v0.8h-0.8zM91.2 395.6h0.8v0.8h-0.8zM66.1 383.2h0.8v0.8h-0.8zM60.1 402.2h0.8v0.8h-0.8zM66.6 398.6h0.8v0.8h-0.8zM89.6 379.1h0.8v0.8h-0.8zM55.8 373.7h0.8v0.8h-0.8zM65.0 375.0h0.8v0.8h-0.8zM59.9 400.1h0.8v0.8h-0.8zM54.4 379.8h0.8v0.8h-0.8zM59.0 376.3h0.8v0.8h-0.8zM68.7 397.4h0.8v0.8h-0.8zM81.6 401.8h0.8v0.8h-0.8zM58.4 374.8h0.8v0.8h-0.8zM65.0 400.7h0.8v0.8h-0.8zM63.9 378.6h0.8v0.8h-0.8zM60.2 379.6h0.8v0.8h-0.8zM60.1 375.1h0.8v0.8h-0.8zM78.6 406.0h0.8v0.8h-0.8zM60.8 401.3h0.8v0.8h-0.8zM69.6 380.4h0.8v0.8h-0.8zM55.3 373.8h0.8v0.8h-0.8zM69.8 397.3h0.8v0.8h-0.8zM54.4 401.5h0.8v0.8h-0.8zM55.3 377.2h0.8v0.8h-0.8zM67.3 402.5h0.8v0.8h-0.8zM58.6 389.5h0.8v0.8h-0.8zM59.8 376.0h0.8v0.8h-0.8zM62.8 382.2h0.8v0.8h-0.8zM71.5 403.6h0.8v0.8h-0.8zM94.0 401.2h0.8v0.8h-0.8zM56.9 371.0h0.8v0.8h-0.8zM88.5 388.7h0.8v0.8h-0.8zM81.3 399.0h0.8v0.8h-0.8zM85.2 401.5h0.8v0.8h-0.8zM92.4 402.4h0.8v0.8h-0.8zM62.1 374.1h0.8v0.8h-0.8zM88.4 404.4h0.8v0.8h-0.8zM57.4 400.2h0.8v0.8h-0.8zM59.3 404.7h0.8v0.8h-0.8zM70.3 404.7h0.8v0.8h-0.8zM67.2 374.3h0.8v0.8h-0.8zM67.2 396.9h0.8v0.8h-0.8zM61.2 382.1h0.8v0.8h-0.8zM61.3 380.5h0.8v0.8h-0.8zM75.3 396.2h0.8v0.8h-0.8zM54.1 374.2h0.8v0.8h-0.8zM58.6 377.3h0.8v0.8h-0.8zM69.0 401.4h0.8v0.8h-0.8zM59.6 405.1h0.8v0.8h-0.8zM49.9 372.3h0.8v0.8h-0.8zM62.7 372.1h0.8v0.8h-0.8zM50.6 399.8h0.8v0.8h-0.8zM93.6 387.1h0.8v0.8h-0.8zM84.1 401.0h0.8v0.8h-0.8zM65.4 376.6h0.8v0.8h-0.8zM50.5 406.5h0.8v0.8h-0.8zM66.1 370.9h0.8v0.8h-0.8zM69.4 400.4h0.8v0.8h-0.8zM86.7 401.4h0.8v0.8h-0.8zM80.5 403.3h0.8v0.8h-0.8zM51.4 400.6h0.8v0.8h-0.8zM77.1 403.3h0.8v0.8h-0.8zM56.7 375.7h0.8v0.8h-0.8zM83.0 391.1h0.8v0.8h-0.8zM66.5 381.9h0.8v0.8h-0.8zM65.6 371.8h0.8v0.8h-0.8zM75.2 400.1h0.8v0.8h-0.8zM59.6 378.0h0.8v0.8h-0.8zM52.7 401.2h0.8v0.8h-0.8zM56.9 402.5h0.8v0.8h-0.8zM80.8 384.7h0.8v0.8h-0.8zM68.8 369.9h0.8v0.8h-0.8zM65.3 375.0h0.8v0.8h-0.8zM63.1 380.6h0.8v0.8h-0.8zM67.1 380.3h0.8v0.8h-0.8zM66.0 400.3h0.8v0.8h-0.8zM52.6 402.8h0.8v0.8h-0.8zM64.2 400.3h0.8v0.8h-0.8zM58.0 376.5h0.8v0.8h-0.8zM59.5 404.1h0.8v0.8h-0.8zM78.2 401.6h0.8v0.8h-0.8zM52.2 405.0h0.8v0.8h-0.8zM50.3 397.4h0.8v0.8h-0.8zM63.4 384.5h0.8v0.8h-0.8zM57.8 378.6h0.8v0.8h-0.8zM55.3 395.6h0.8v0.8h-0.8zM62.3 377.7h0.8v0.8h-0.8zM66.4 376.0h0.8v0.8h-0.8zM51.4 380.5h0.8v0.8h-0.8zM62.0 382.5h0.8v0.8h-0.8zM73.0 394.5h0.8v0.8h-0.8zM65.9 396.5h0.8v0.8h-0.8zM63.0 399.5h0.8v0.8h-0.8zM59.0 377.4h0.8v0.8h-0.8zM50.7 376.5h0.8v0.8h-0.8zM93.4 402.4h0.8v0.8h-0.8zM69.8 374.3h0.8v0.8h-0.8zM82.5 392.0h0.8v0.8h-0.8zM86.1 397.1h0.8v0.8h-0.8zM53.2 381.2h0.8v0.8h-0.8zM51.8 378.6h0.8v0.8h-0.8zM86.7 398.5h0.8v0.8h-0.8zM54.2 401.8h0.8v0.8h-0.8zM66.4 370.0h0.8v0.8h-0.8zM63.9 374.0h0.8v0.8h-0.8zM75.0 405.7h0.8v0.8h-0.8zM63.6 376.4h0.8v0.8h-0.8zM67.5 372.3h0.8v0.8h-0.8zM49.9 372.8h0.8v0.8h-0.8zM90.7 390.1h0.8v0.8h-0.8zM72.4 387.0h0.8v0.8h-0.8zM86.1 395.8h0.8v0.8h-0.8zM90.6 397.2h0.8v0.8h-0.8zM89.4 374.5h0.8v0.8h-0.8zM60.1 377.0h0.8v0.8h-0.8zM69.9 369.5h0.8v0.8h-0.8zM72.7 403.3h0.8v0.8h-0.8zM69.1 385.8h0.8v0.8h-0.8zM70.0 402.9h0.8v0.8h-0.8zM81.4 401.7h0.8v0.8h-0.8zM64.6 379.6h0.8v0.8h-0.8zM82.9 401.4h0.8v0.8h-0.8zM55.0 398.0h0.8v0.8h-0.8zM87.7 400.3h0.8v0.8h-0.8zM56.1 383.3h0.8v0.8h-0.8zM80.5 397.0h0.8v0.8h-0.8zM70.3 383.1h0.8v0.8h-0.8zM59.9 380.3h0.8v0.8h-0.8zM61.5 384.9h0.8v0.8h-0.8zM79.3 405.2h0.8v0.8h-0.8zM89.6 374.2h0.8v0.8h-0.8zM63.4 375.2h0.8v0.8h-0.8zM92.1 396.6h0.8v0.8h-0.8zM66.1 375.1h0.8v0.8h-0.8zM56.3 400.4h0.8v0.8h-0.8zM51.1 404.6h0.8v0.8h-0.8zM59.5 378.0h0.8v0.8h-0.8zM74.9 405.7h0.8v0.8h-0.8zM56.8 380.2h0.8v0.8h-0.8zM59.0 404.1h0.8v0.8h-0.8zM62.4 378.8h0.8v0.8h-0.8zM68.8 400.8h0.8v0.8h-0.8zM60.0 375.8h0.8v0.8h-0.8zM56.8 377.1h0.8v0.8h-0.8zM70.2 380.9h0.8v0.8h-0.8zM76.7 375.6h0.8v0.8h-0.8zM93.6 401.8h0.8v0.8h-0.8zM56.7 379.9h0.8v0.8h-0.8zM58.6 371.3h0.8v0.8h-0.8zM64.6 379.9h0.8v0.8h-0.8zM88.8 393.8h0.8v0.8h-0.8zM53.7 399.5h0.8v0.8h-0.8zM89.5 398.4h0.8v0.8h-0.8zM81.0 404.2h0.8v0.8h-0.8zM90.4 401.7h0.8v0.8h-0.8zM63.3 383.1h0.8v0.8h-0.8zM69.8 401.6h0.8v0.8h-0.8zM54.9 400.3h0.8v0.8h-0.8zM59.6 376.0h0.8v0.8h-0.8zM63.6 401.7h0.8v0.8h-0.8zM54.0 379.2h0.8v0.8h-0.8zM54.1 394.0h0.8v0.8h-0.8zM53.0 398.2h0.8v0.8h-0.8zM88.2 401.3h0.8v0.8h-0.8zM84.9 403.7h0.8v0.8h-0.8zM81.9 401.7h0.8v0.8h-0.8zM58.3 390.7h0.8v0.8h-0.8zM67.3 378.1h0.8v0.8h-0.8zM92.3 401.6h0.8v0.8h-0.8zM89.2 397.3h0.8v0.8h-0.8zM64.0 397.2h0.8v0.8h-0.8zM77.2 395.7h0.8v0.8h-0.8zM59.6 371.9h0.8v0.8h-0.8zM70.2 402.7h0.8v0.8h-0.8zM56.9 401.0h0.8v0.8h-0.8zM58.2 378.1h0.8v0.8h-0.8zM50.0 379.6h0.8v0.8h-0.8zM54.5 396.3h0.8v0.8h-0.8zM66.2 375.4h0.8v0.8h-0.8zM52.8 380.3h0.8v0.8h-0.8zM60.9 376.2h0.8v0.8h-0.8zM58.8 376.8h0.8v0.8h-0.8zM66.4 399.7h0.8v0.8h-0.8zM56.7 378.9h0.8v0.8h-0.8zM90.3 396.4h0.8v0.8h-0.8zM54.8 398.6h0.8v0.8h-0.8zM51.2 400.7h0.8v0.8h-0.8zM49.9 372.3h0.8v0.8h-0.8zM52.4 402.5h0.8v0.8h-0.8zM64.9 395.4h0.8v0.8h-0.8zM54.2 372.9h0.8v0.8h-0.8zM59.1 378.5h0.8v0.8h-0.8zM65.6 375.5h0.8v0.8h-0.8zM60.7 398.3h0.8v0.8h-0.8zM63.6 382.7h0.8v0.8h-0.8zM88.2 396.2h0.8v0.8h-0.8zM59.8 375.2h0.8v0.8h-0.8zM68.7 400.2h0.8v0.8h-0.8zM54.5 398.5h0.8v0.8h-0.8zM60.7 378.5h0.8v0.8h-0.8zM60.2 378.3h0.8v0.8h-0.8zM66.1 373.6h0.8v0.8h-0.8zM65.0 397.5h0.8v0.8h-0.8zM64.8 397.1h0.8v0.8h-0.8zM46.8 374.2h0.8v0.8h-0.8zM52.4 381.3h0.8v0.8h-0.8zM76.9 401.6h0.8v0.8h-0.8zM64.7 402.1h0.8v0.8h-0.8zM53.1 377.5h0.8v0.8h-0.8zM88.5 403.8h0.8v0.8h-0.8zM73.3 395.5h0.8v0.8h-0.8zM60.8 375.8h0.8v0.8h-0.8zM87.6 397.0h0.8v0.8h-0.8zM48.2 376.3h0.8v0.8h-0.8zM57.5 375.0h0.8v0.8h-0.8zM78.1 401.6h0.8v0.8h-0.8zM62.6 370.6h0.8v0.8h-0.8zM77.9 372.2h0.8v0.8h-0.8zM91.5 402.3h0.8v0.8h-0.8zM56.8 378.1h0.8v0.8h-0.8zM59.3 402.4h0.8v0.8h-0.8zM68.6 401.0h0.8v0.8h-0.8zM59.4 396.5h0.8v0.8h-0.8zM51.2 374.4h0.8v0.8h-0.8zM60.7 376.7h0.8v0.8h-0.8zM68.9 379.6h0.8v0.8h-0.8zM60.1 375.7h0.8v0.8h-0.8zM58.5 374.2h0.8v0.8h-0.8zM75.9 404.3h0.8v0.8h-0.8zM47.4 372.8h0.8v0.8h-0.8zM61.6 377.7h0.8v0.8h-0.8zM91.8 404.8h0.8v0.8h-0.8zM57.7 375.1h0.8v0.8h-0.8zM83.9 401.9h0.8v0.8h-0.8zM57.1 376.7h0.8v0.8h-0.8zM84.7 400.8h0.8v0.8h-0.8zM58.5 377.1h0.8v0.8h-0.8zM55.9 375.2h0.8v0.8h-0.8zM52.5 397.3h0.8v0.8h-0.8zM60.5 371.5h0.8v0.8h-0.8zM73.6 384.3h0.8v0.8h-0.8zM88.6 399.5h0.8v0.8h-0.8zM66.4 403.8h0.8v0.8h-0.8zM54.4 403.9h0.8v0.8h-0.8zM57.3 399.7h0.8v0.8h-0.8zM65.5 401.6h0.8v0.8h-0.8zM64.9 376.1h0.8v0.8h-0.8zM88.4 370.2h0.8v0.8h-0.8zM82.3 399.6h0.8v0.8h-0.8zM70.7 370.7h0.8v0.8h-0.8zM54.7 385.9h0.8v0.8h-0.8zM59.8 370.2h0.8v0.8h-0.8zM56.1 377.5h0.8v0.8h-0.8zM53.5 400.2h0.8v0.8h-0.8zM70.9 399.9h0.8v0.8h-0.8zM93.5 389.7h0.8v0.8h-0.8zM66.6 397.9h0.8v0.8h-0.8zM92.9 398.8h0.8v0.8h-0.8zM56.5 397.0h0.8v0.8h-0.8zM69.6 379.5h0.8v0.8h-0.8zM76.6 399.3h0.8v0.8h-0.8zM76.5 400.7h0.8v0.8h-0.8zM73.3 401.8h0.8v0.8h-0.8zM67.5 396.6h0.8v0.8h-0.8zM65.5 390.5h0.8v0.8h-0.8zM71.3 383.4h0.8v0.8h-0.8zM91.0 402.2h0.8v0.8h-0.8zM51.8 396.9h0.8v0.8h-0.8zM65.4 375.5h0.8v0.8h-0.8zM50.5 398.7h0.8v0.8h-0.8zM59.0 394.5h0.8v0.8h-0.8zM69.1 385.9h0.8v0.8h-0.8zM75.0 404.1h0.8v0.8h-0.8zM70.2 397.1h0.8v0.8h-0.8zM53.3 374.2h0.8v0.8h-0.8zM65.1 381.2h0.8v0.8h-0.8zM87.3 377.6h0.8v0.8h-0.8zM65.0 384.0h0.8v0.8h-0.8zM53.5 400.1h0.8v0.8h-0.8zM60.5 373.4h0.8v0.8h-0.8zM57.2 399.1h0.8v0.8h-0.8zM55.0 379.0h0.8v0.8h-0.8zM63.2 368.1h0.8v0.8h-0.8zM57.5 378.6h0.8v0.8h-0.8z" fill="#4a4cb0" fill-opacity="0.4"/>
<ellipse cx="60.5" cy="377.0" rx="7.8" ry="5.2" fill="#2c4fbf" fill-opacity="0.9" filter="url(#bl1)" transform="rotate(-25 60.5 377)"/>
<ellipse cx="60.5" cy="377.0" rx="5.6" ry="3.6" fill="#1fa8df" fill-opacity="1" filter="url(#bl05)" transform="rotate(-25 60.5 377)"/>
<ellipse cx="60.5" cy="376.5" rx="3.4" ry="2.0" fill="#1fae4c" fill-opacity="1" filter="url(#bl05)" transform="rotate(-25 60.5 376.5)"/>
<ellipse cx="70.0" cy="400.5" rx="21" ry="3.9" fill="#2c4fbf" fill-opacity="0.9" filter="url(#bl1)"/>
<ellipse cx="71.0" cy="400.5" rx="15" ry="2.6" fill="#1fa8df" fill-opacity="1" filter="url(#bl05)"/>
<ellipse cx="71.5" cy="400.5" rx="5" ry="1.8" fill="#1fae4c" fill-opacity="1" filter="url(#bl05)"/>
<ellipse cx="86.2" cy="399.8" rx="6.2" ry="5" fill="#1fa8df" fill-opacity="1" filter="url(#bl05)"/>
<ellipse cx="86.2" cy="399.8" rx="4.8" ry="3.9" fill="#1fae4c" fill-opacity="1" filter="url(#bl05)"/>
<ellipse cx="86.3" cy="399.8" rx="3.6" ry="3.0" fill="#ebe224" fill-opacity="1" filter="url(#bl05)"/>
<ellipse cx="86.3" cy="399.7" rx="2.4" ry="2.0" fill="#f59b20" fill-opacity="1" filter="url(#bl05)"/>
<ellipse cx="86.3" cy="399.7" rx="1.3" ry="1.1" fill="#e43a25" fill-opacity="1" filter="url(#bl05)"/>
</g>
<path d="M45.2 368.4 H73.6 V388.3 H45.2" fill="none" stroke="#8a8a8a" stroke-width="0.8"/>
<path d="M63.5 416.7 V392.9 H94.0 V416.7" fill="none" stroke="#8a8a8a" stroke-width="0.8"/>
<text x="52.8" y="368.6" font-size="7.4" fill="#231f20" textLength="19.3" lengthAdjust="spacingAndGlyphs">21.6%</text>
<text x="77.0" y="393.3" font-size="7.4" fill="#231f20" textLength="19.3" lengthAdjust="spacingAndGlyphs">72.3%</text>
<line x1="41.800000000000004" y1="362.4" x2="45.2" y2="362.4" stroke="#231f20" stroke-width="0.9"/>
<text x="35.2" y="364.7" font-size="6.4" fill="#2a2a2a" text-anchor="end" textLength="5.4" lengthAdjust="spacingAndGlyphs">10</text>
<text x="35.6" y="361.79999999999995" font-size="4.0" fill="#2a2a2a">5</text>
<line x1="41.800000000000004" y1="376.6" x2="45.2" y2="376.6" stroke="#231f20" stroke-width="0.9"/>
<text x="35.2" y="378.90000000000003" font-size="6.4" fill="#2a2a2a" text-anchor="end" textLength="5.4" lengthAdjust="spacingAndGlyphs">10</text>
<text x="35.6" y="376.0" font-size="4.0" fill="#2a2a2a">4</text>
<line x1="41.800000000000004" y1="391.3" x2="45.2" y2="391.3" stroke="#231f20" stroke-width="0.9"/>
<text x="35.2" y="393.6" font-size="6.4" fill="#2a2a2a" text-anchor="end" textLength="5.4" lengthAdjust="spacingAndGlyphs">10</text>
<text x="35.6" y="390.7" font-size="4.0" fill="#2a2a2a">3</text>
<line x1="41.800000000000004" y1="406.4" x2="45.2" y2="406.4" stroke="#231f20" stroke-width="0.9"/>
<text x="35.800000000000004" y="408.5" font-size="6.0" fill="#2a2a2a" text-anchor="end">0</text>
<line x1="43.6" y1="358.9" x2="45.2" y2="358.9" stroke="#231f20" stroke-width="0.55"/>
<line x1="43.6" y1="360.9" x2="45.2" y2="360.9" stroke="#231f20" stroke-width="0.55"/>
<line x1="43.6" y1="362.9" x2="45.2" y2="362.9" stroke="#231f20" stroke-width="0.55"/>
<line x1="43.6" y1="364.9" x2="45.2" y2="364.9" stroke="#231f20" stroke-width="0.55"/>
<line x1="43.6" y1="366.9" x2="45.2" y2="366.9" stroke="#231f20" stroke-width="0.55"/>
<line x1="43.6" y1="368.9" x2="45.2" y2="368.9" stroke="#231f20" stroke-width="0.55"/>
<line x1="43.6" y1="370.9" x2="45.2" y2="370.9" stroke="#231f20" stroke-width="0.55"/>
<line x1="43.6" y1="372.9" x2="45.2" y2="372.9" stroke="#231f20" stroke-width="0.55"/>
<line x1="43.6" y1="374.9" x2="45.2" y2="374.9" stroke="#231f20" stroke-width="0.55"/>
<line x1="43.6" y1="376.9" x2="45.2" y2="376.9" stroke="#231f20" stroke-width="0.55"/>
<line x1="43.6" y1="378.9" x2="45.2" y2="378.9" stroke="#231f20" stroke-width="0.55"/>
<line x1="43.6" y1="380.9" x2="45.2" y2="380.9" stroke="#231f20" stroke-width="0.55"/>
<line x1="43.6" y1="382.9" x2="45.2" y2="382.9" stroke="#231f20" stroke-width="0.55"/>
<line x1="43.6" y1="384.9" x2="45.2" y2="384.9" stroke="#231f20" stroke-width="0.55"/>
<line x1="43.6" y1="386.9" x2="45.2" y2="386.9" stroke="#231f20" stroke-width="0.55"/>
<line x1="43.6" y1="388.9" x2="45.2" y2="388.9" stroke="#231f20" stroke-width="0.55"/>
<line x1="43.6" y1="390.9" x2="45.2" y2="390.9" stroke="#231f20" stroke-width="0.55"/>
<line x1="43.6" y1="392.9" x2="45.2" y2="392.9" stroke="#231f20" stroke-width="0.55"/>
<line x1="43.6" y1="394.9" x2="45.2" y2="394.9" stroke="#231f20" stroke-width="0.55"/>
<line x1="43.6" y1="396.9" x2="45.2" y2="396.9" stroke="#231f20" stroke-width="0.55"/>
<line x1="43.6" y1="398.9" x2="45.2" y2="398.9" stroke="#231f20" stroke-width="0.55"/>
<line x1="43.6" y1="400.9" x2="45.2" y2="400.9" stroke="#231f20" stroke-width="0.55"/>
<line x1="43.6" y1="402.9" x2="45.2" y2="402.9" stroke="#231f20" stroke-width="0.55"/>
<line x1="43.6" y1="404.9" x2="45.2" y2="404.9" stroke="#231f20" stroke-width="0.55"/>
<line x1="43.6" y1="406.9" x2="45.2" y2="406.9" stroke="#231f20" stroke-width="0.55"/>
<line x1="43.6" y1="408.9" x2="45.2" y2="408.9" stroke="#231f20" stroke-width="0.55"/>
<line x1="43.6" y1="410.9" x2="45.2" y2="410.9" stroke="#231f20" stroke-width="0.55"/>
<line x1="43.6" y1="412.9" x2="45.2" y2="412.9" stroke="#231f20" stroke-width="0.55"/>
<line x1="43.6" y1="414.9" x2="45.2" y2="414.9" stroke="#231f20" stroke-width="0.55"/>
<line x1="52.8" y1="416.7" x2="52.8" y2="419.7" stroke="#231f20" stroke-width="0.9"/>
<text x="52.8" y="428.3" font-size="6.0" fill="#2a2a2a" text-anchor="middle">0</text>
<line x1="69.6" y1="416.7" x2="69.6" y2="419.7" stroke="#231f20" stroke-width="0.9"/>
<text x="66.0" y="428.3" font-size="6.0" fill="#2a2a2a" textLength="5.5" lengthAdjust="spacingAndGlyphs">10</text>
<text x="71.89999999999999" y="425.5" font-size="3.8" fill="#2a2a2a">3</text>
<line x1="84.5" y1="416.7" x2="84.5" y2="419.7" stroke="#231f20" stroke-width="0.9"/>
<text x="80.9" y="428.3" font-size="6.0" fill="#2a2a2a" textLength="5.5" lengthAdjust="spacingAndGlyphs">10</text>
<text x="86.8" y="425.5" font-size="3.8" fill="#2a2a2a">4</text>
<line x1="98.8" y1="416.7" x2="98.8" y2="419.7" stroke="#231f20" stroke-width="0.9"/>
<text x="95.2" y="428.3" font-size="6.0" fill="#2a2a2a" textLength="5.5" lengthAdjust="spacingAndGlyphs">10</text>
<text x="101.1" y="425.5" font-size="3.8" fill="#2a2a2a">5</text>
<line x1="47.2" y1="416.7" x2="47.2" y2="418.3" stroke="#231f20" stroke-width="0.55"/>
<line x1="49.2" y1="416.7" x2="49.2" y2="418.3" stroke="#231f20" stroke-width="0.55"/>
<line x1="51.2" y1="416.7" x2="51.2" y2="418.3" stroke="#231f20" stroke-width="0.55"/>
<line x1="53.2" y1="416.7" x2="53.2" y2="418.3" stroke="#231f20" stroke-width="0.55"/>
<line x1="55.2" y1="416.7" x2="55.2" y2="418.3" stroke="#231f20" stroke-width="0.55"/>
<line x1="57.2" y1="416.7" x2="57.2" y2="418.3" stroke="#231f20" stroke-width="0.55"/>
<line x1="59.2" y1="416.7" x2="59.2" y2="418.3" stroke="#231f20" stroke-width="0.55"/>
<line x1="61.2" y1="416.7" x2="61.2" y2="418.3" stroke="#231f20" stroke-width="0.55"/>
<line x1="63.2" y1="416.7" x2="63.2" y2="418.3" stroke="#231f20" stroke-width="0.55"/>
<line x1="65.2" y1="416.7" x2="65.2" y2="418.3" stroke="#231f20" stroke-width="0.55"/>
<line x1="67.2" y1="416.7" x2="67.2" y2="418.3" stroke="#231f20" stroke-width="0.55"/>
<line x1="69.2" y1="416.7" x2="69.2" y2="418.3" stroke="#231f20" stroke-width="0.55"/>
<line x1="71.2" y1="416.7" x2="71.2" y2="418.3" stroke="#231f20" stroke-width="0.55"/>
<line x1="73.2" y1="416.7" x2="73.2" y2="418.3" stroke="#231f20" stroke-width="0.55"/>
<line x1="75.2" y1="416.7" x2="75.2" y2="418.3" stroke="#231f20" stroke-width="0.55"/>
<line x1="77.2" y1="416.7" x2="77.2" y2="418.3" stroke="#231f20" stroke-width="0.55"/>
<line x1="79.2" y1="416.7" x2="79.2" y2="418.3" stroke="#231f20" stroke-width="0.55"/>
<line x1="81.2" y1="416.7" x2="81.2" y2="418.3" stroke="#231f20" stroke-width="0.55"/>
<line x1="83.2" y1="416.7" x2="83.2" y2="418.3" stroke="#231f20" stroke-width="0.55"/>
<line x1="85.2" y1="416.7" x2="85.2" y2="418.3" stroke="#231f20" stroke-width="0.55"/>
<line x1="87.2" y1="416.7" x2="87.2" y2="418.3" stroke="#231f20" stroke-width="0.55"/>
<line x1="89.2" y1="416.7" x2="89.2" y2="418.3" stroke="#231f20" stroke-width="0.55"/>
<line x1="91.2" y1="416.7" x2="91.2" y2="418.3" stroke="#231f20" stroke-width="0.55"/>
<line x1="93.2" y1="416.7" x2="93.2" y2="418.3" stroke="#231f20" stroke-width="0.55"/>
<line x1="95.2" y1="416.7" x2="95.2" y2="418.3" stroke="#231f20" stroke-width="0.55"/>
<line x1="97.2" y1="416.7" x2="97.2" y2="418.3" stroke="#231f20" stroke-width="0.55"/>
<line x1="99.2" y1="416.7" x2="99.2" y2="418.3" stroke="#231f20" stroke-width="0.55"/>
<line x1="101.2" y1="416.7" x2="101.2" y2="418.3" stroke="#231f20" stroke-width="0.55"/>
<line x1="103.2" y1="416.7" x2="103.2" y2="418.3" stroke="#231f20" stroke-width="0.55"/>
<rect x="45.2" y="356.9" width="59.8" height="59.8" fill="none" stroke="#231f20" stroke-width="1.3"/>
<text x="77.9" y="441.0" font-size="9.7" fill="#231f20" text-anchor="middle" textLength="17.4" lengthAdjust="spacingAndGlyphs">CD8</text>
<text transform="translate(24.500000000000004,384.0) rotate(-90)" font-size="9.9" text-anchor="middle" fill="#231f20" textLength="17.3" lengthAdjust="spacingAndGlyphs">CD4</text>
<g clip-path="url(#cpB4)">
<path d="M168.1 399.4h0.8v0.8h-0.8zM180.0 393.1h0.8v0.8h-0.8zM180.8 392.2h0.8v0.8h-0.8zM170.2 400.2h0.8v0.8h-0.8zM189.5 382.6h0.8v0.8h-0.8zM183.2 389.7h0.8v0.8h-0.8zM193.3 388.2h0.8v0.8h-0.8zM175.2 397.2h0.8v0.8h-0.8zM188.4 393.1h0.8v0.8h-0.8zM186.3 395.7h0.8v0.8h-0.8zM192.5 390.2h0.8v0.8h-0.8zM194.3 396.9h0.8v0.8h-0.8zM196.8 400.6h0.8v0.8h-0.8zM195.2 397.7h0.8v0.8h-0.8zM189.3 389.9h0.8v0.8h-0.8zM179.0 393.8h0.8v0.8h-0.8zM169.7 395.0h0.8v0.8h-0.8zM175.3 397.7h0.8v0.8h-0.8zM184.1 390.6h0.8v0.8h-0.8zM185.1 383.2h0.8v0.8h-0.8zM195.9 398.2h0.8v0.8h-0.8zM193.1 392.1h0.8v0.8h-0.8zM189.6 397.2h0.8v0.8h-0.8zM177.2 394.9h0.8v0.8h-0.8zM168.0 395.7h0.8v0.8h-0.8zM194.0 395.6h0.8v0.8h-0.8zM180.0 394.8h0.8v0.8h-0.8zM174.8 390.1h0.8v0.8h-0.8zM188.3 403.4h0.8v0.8h-0.8zM186.2 401.2h0.8v0.8h-0.8zM168.0 387.6h0.8v0.8h-0.8zM177.0 395.9h0.8v0.8h-0.8zM168.2 396.0h0.8v0.8h-0.8zM175.3 396.6h0.8v0.8h-0.8zM169.8 396.0h0.8v0.8h-0.8zM192.3 396.6h0.8v0.8h-0.8zM170.5 396.9h0.8v0.8h-0.8zM169.3 393.9h0.8v0.8h-0.8zM181.0 391.9h0.8v0.8h-0.8zM194.2 393.5h0.8v0.8h-0.8zM183.4 394.7h0.8v0.8h-0.8zM183.0 393.3h0.8v0.8h-0.8zM177.6 398.2h0.8v0.8h-0.8zM196.6 394.6h0.8v0.8h-0.8zM184.6 393.8h0.8v0.8h-0.8zM195.1 397.5h0.8v0.8h-0.8zM188.6 393.6h0.8v0.8h-0.8zM195.4 375.9h0.8v0.8h-0.8zM189.0 393.8h0.8v0.8h-0.8zM193.1 391.4h0.8v0.8h-0.8zM184.1 395.8h0.8v0.8h-0.8zM168.5 388.8h0.8v0.8h-0.8zM181.5 394.0h0.8v0.8h-0.8zM169.4 396.2h0.8v0.8h-0.8zM170.6 398.7h0.8v0.8h-0.8zM181.6 394.3h0.8v0.8h-0.8zM195.5 378.7h0.8v0.8h-0.8zM178.0 393.7h0.8v0.8h-0.8zM179.1 393.2h0.8v0.8h-0.8zM185.8 390.2h0.8v0.8h-0.8zM186.8 397.3h0.8v0.8h-0.8zM171.1 396.5h0.8v0.8h-0.8zM187.4 395.3h0.8v0.8h-0.8zM186.6 391.8h0.8v0.8h-0.8zM180.4 392.8h0.8v0.8h-0.8zM172.0 398.6h0.8v0.8h-0.8zM182.5 395.7h0.8v0.8h-0.8zM189.1 382.7h0.8v0.8h-0.8zM173.0 392.7h0.8v0.8h-0.8zM177.0 394.2h0.8v0.8h-0.8zM196.9 395.7h0.8v0.8h-0.8zM176.7 387.3h0.8v0.8h-0.8zM176.4 401.2h0.8v0.8h-0.8zM186.2 399.2h0.8v0.8h-0.8zM194.2 391.8h0.8v0.8h-0.8zM169.3 385.5h0.8v0.8h-0.8zM192.9 387.0h0.8v0.8h-0.8zM186.5 396.6h0.8v0.8h-0.8zM193.6 389.2h0.8v0.8h-0.8zM179.1 398.8h0.8v0.8h-0.8zM194.5 394.3h0.8v0.8h-0.8zM191.0 400.0h0.8v0.8h-0.8zM177.4 391.6h0.8v0.8h-0.8zM179.4 396.6h0.8v0.8h-0.8zM190.5 392.7h0.8v0.8h-0.8zM190.8 390.7h0.8v0.8h-0.8zM175.1 393.8h0.8v0.8h-0.8zM186.0 394.5h0.8v0.8h-0.8zM169.0 396.8h0.8v0.8h-0.8zM172.0 396.6h0.8v0.8h-0.8zM174.3 395.7h0.8v0.8h-0.8zM176.9 397.1h0.8v0.8h-0.8zM178.9 396.7h0.8v0.8h-0.8zM174.7 393.9h0.8v0.8h-0.8zM175.3 393.3h0.8v0.8h-0.8zM196.9 395.5h0.8v0.8h-0.8zM169.6 395.7h0.8v0.8h-0.8zM174.6 396.5h0.8v0.8h-0.8zM176.9 398.6h0.8v0.8h-0.8zM179.1 399.8h0.8v0.8h-0.8zM180.5 392.4h0.8v0.8h-0.8zM184.8 396.9h0.8v0.8h-0.8zM191.9 395.5h0.8v0.8h-0.8zM171.6 398.5h0.8v0.8h-0.8zM181.2 375.7h0.8v0.8h-0.8zM176.6 395.5h0.8v0.8h-0.8zM193.8 399.1h0.8v0.8h-0.8zM187.3 392.9h0.8v0.8h-0.8zM190.3 387.2h0.8v0.8h-0.8zM193.7 388.9h0.8v0.8h-0.8zM181.5 397.2h0.8v0.8h-0.8zM193.2 397.9h0.8v0.8h-0.8zM184.2 398.2h0.8v0.8h-0.8zM169.1 390.3h0.8v0.8h-0.8zM181.8 387.0h0.8v0.8h-0.8zM172.0 390.5h0.8v0.8h-0.8zM171.6 395.4h0.8v0.8h-0.8zM189.9 391.2h0.8v0.8h-0.8zM173.7 400.8h0.8v0.8h-0.8zM188.6 398.1h0.8v0.8h-0.8zM196.8 374.1h0.8v0.8h-0.8zM182.6 392.3h0.8v0.8h-0.8zM175.7 395.2h0.8v0.8h-0.8zM181.8 379.9h0.8v0.8h-0.8zM189.2 397.3h0.8v0.8h-0.8zM175.1 389.8h0.8v0.8h-0.8zM189.4 394.7h0.8v0.8h-0.8zM174.8 402.9h0.8v0.8h-0.8zM173.1 397.5h0.8v0.8h-0.8zM185.4 397.7h0.8v0.8h-0.8zM172.2 395.3h0.8v0.8h-0.8zM193.7 392.0h0.8v0.8h-0.8zM171.2 394.5h0.8v0.8h-0.8zM174.9 397.2h0.8v0.8h-0.8zM181.1 392.5h0.8v0.8h-0.8zM174.5 400.6h0.8v0.8h-0.8zM171.1 388.3h0.8v0.8h-0.8zM184.8 374.2h0.8v0.8h-0.8zM172.3 394.9h0.8v0.8h-0.8zM186.0 399.7h0.8v0.8h-0.8zM170.5 394.0h0.8v0.8h-0.8zM178.3 393.9h0.8v0.8h-0.8zM185.5 399.4h0.8v0.8h-0.8zM192.3 391.9h0.8v0.8h-0.8zM187.1 389.7h0.8v0.8h-0.8zM178.1 398.2h0.8v0.8h-0.8zM174.3 380.4h0.8v0.8h-0.8zM186.5 381.3h0.8v0.8h-0.8zM179.4 394.3h0.8v0.8h-0.8zM184.4 398.1h0.8v0.8h-0.8zM195.6 376.4h0.8v0.8h-0.8zM188.6 395.1h0.8v0.8h-0.8zM172.2 390.3h0.8v0.8h-0.8zM190.3 391.0h0.8v0.8h-0.8zM171.7 394.7h0.8v0.8h-0.8zM181.3 392.8h0.8v0.8h-0.8zM193.3 405.1h0.8v0.8h-0.8zM194.5 382.3h0.8v0.8h-0.8zM167.4 379.2h0.8v0.8h-0.8zM172.7 397.7h0.8v0.8h-0.8zM191.7 394.4h0.8v0.8h-0.8zM192.9 395.9h0.8v0.8h-0.8zM178.3 374.2h0.8v0.8h-0.8zM188.4 399.4h0.8v0.8h-0.8zM196.7 396.5h0.8v0.8h-0.8zM195.0 392.8h0.8v0.8h-0.8zM170.6 397.1h0.8v0.8h-0.8zM177.1 398.4h0.8v0.8h-0.8zM188.9 401.3h0.8v0.8h-0.8zM174.5 395.1h0.8v0.8h-0.8zM176.9 397.6h0.8v0.8h-0.8zM191.8 401.9h0.8v0.8h-0.8zM187.5 402.3h0.8v0.8h-0.8zM173.8 386.3h0.8v0.8h-0.8zM183.5 391.4h0.8v0.8h-0.8zM190.2 396.7h0.8v0.8h-0.8zM188.1 398.4h0.8v0.8h-0.8zM181.4 392.6h0.8v0.8h-0.8zM185.6 395.2h0.8v0.8h-0.8zM175.2 378.7h0.8v0.8h-0.8zM185.5 398.8h0.8v0.8h-0.8zM171.7 395.3h0.8v0.8h-0.8zM179.4 397.6h0.8v0.8h-0.8zM192.1 397.2h0.8v0.8h-0.8zM181.1 400.6h0.8v0.8h-0.8zM174.9 397.6h0.8v0.8h-0.8zM193.7 390.5h0.8v0.8h-0.8zM176.6 394.7h0.8v0.8h-0.8zM180.4 393.9h0.8v0.8h-0.8zM176.0 395.2h0.8v0.8h-0.8zM184.5 399.7h0.8v0.8h-0.8zM188.9 398.9h0.8v0.8h-0.8zM181.5 392.2h0.8v0.8h-0.8zM194.0 395.9h0.8v0.8h-0.8zM170.7 396.8h0.8v0.8h-0.8zM180.4 399.0h0.8v0.8h-0.8zM188.3 396.7h0.8v0.8h-0.8zM180.1 392.3h0.8v0.8h-0.8zM196.1 394.3h0.8v0.8h-0.8zM185.3 403.0h0.8v0.8h-0.8zM180.4 396.1h0.8v0.8h-0.8zM183.8 395.5h0.8v0.8h-0.8zM191.6 397.6h0.8v0.8h-0.8zM179.2 377.4h0.8v0.8h-0.8zM171.4 399.8h0.8v0.8h-0.8zM194.4 391.1h0.8v0.8h-0.8zM185.2 391.7h0.8v0.8h-0.8zM178.3 391.4h0.8v0.8h-0.8zM186.3 395.1h0.8v0.8h-0.8zM187.6 393.1h0.8v0.8h-0.8zM196.3 403.8h0.8v0.8h-0.8zM194.3 385.1h0.8v0.8h-0.8zM191.1 393.2h0.8v0.8h-0.8zM173.0 401.1h0.8v0.8h-0.8zM169.4 400.2h0.8v0.8h-0.8zM178.1 394.8h0.8v0.8h-0.8zM192.5 397.6h0.8v0.8h-0.8zM181.9 401.2h0.8v0.8h-0.8zM184.5 393.2h0.8v0.8h-0.8zM172.5 400.5h0.8v0.8h-0.8zM166.5 374.2h0.8v0.8h-0.8zM178.8 389.9h0.8v0.8h-0.8zM194.5 385.8h0.8v0.8h-0.8zM181.6 397.6h0.8v0.8h-0.8zM196.2 396.8h0.8v0.8h-0.8zM196.2 394.5h0.8v0.8h-0.8zM179.6 392.5h0.8v0.8h-0.8zM170.6 393.1h0.8v0.8h-0.8zM194.4 398.4h0.8v0.8h-0.8zM185.3 396.0h0.8v0.8h-0.8zM183.7 402.8h0.8v0.8h-0.8zM191.4 399.8h0.8v0.8h-0.8zM171.0 393.8h0.8v0.8h-0.8zM169.7 392.5h0.8v0.8h-0.8zM170.4 393.5h0.8v0.8h-0.8zM181.2 396.2h0.8v0.8h-0.8zM190.9 393.0h0.8v0.8h-0.8zM188.1 397.3h0.8v0.8h-0.8zM188.4 397.3h0.8v0.8h-0.8zM168.2 397.1h0.8v0.8h-0.8zM192.4 394.1h0.8v0.8h-0.8zM178.0 396.1h0.8v0.8h-0.8zM180.7 396.3h0.8v0.8h-0.8zM172.1 396.4h0.8v0.8h-0.8zM180.1 396.7h0.8v0.8h-0.8zM184.4 397.0h0.8v0.8h-0.8zM188.5 393.2h0.8v0.8h-0.8zM184.5 395.0h0.8v0.8h-0.8zM182.4 398.3h0.8v0.8h-0.8zM179.4 396.4h0.8v0.8h-0.8zM168.9 389.1h0.8v0.8h-0.8zM180.7 387.8h0.8v0.8h-0.8zM169.6 385.5h0.8v0.8h-0.8zM185.5 398.0h0.8v0.8h-0.8zM174.4 398.8h0.8v0.8h-0.8zM179.9 404.9h0.8v0.8h-0.8zM188.3 391.1h0.8v0.8h-0.8zM177.9 399.9h0.8v0.8h-0.8zM177.4 377.0h0.8v0.8h-0.8zM191.1 396.3h0.8v0.8h-0.8zM190.3 399.6h0.8v0.8h-0.8zM196.9 398.2h0.8v0.8h-0.8zM180.5 382.5h0.8v0.8h-0.8zM166.7 374.1h0.8v0.8h-0.8zM183.6 393.7h0.8v0.8h-0.8zM173.8 395.7h0.8v0.8h-0.8zM174.0 395.6h0.8v0.8h-0.8zM179.4 377.7h0.8v0.8h-0.8zM180.8 395.6h0.8v0.8h-0.8zM180.1 397.8h0.8v0.8h-0.8zM179.5 374.6h0.8v0.8h-0.8zM188.7 391.0h0.8v0.8h-0.8zM175.5 376.5h0.8v0.8h-0.8zM195.7 394.7h0.8v0.8h-0.8zM184.4 395.4h0.8v0.8h-0.8zM174.1 392.6h0.8v0.8h-0.8zM190.7 389.3h0.8v0.8h-0.8zM190.9 393.0h0.8v0.8h-0.8zM193.1 392.7h0.8v0.8h-0.8zM188.8 394.6h0.8v0.8h-0.8zM196.2 392.0h0.8v0.8h-0.8zM182.8 384.5h0.8v0.8h-0.8zM196.1 401.2h0.8v0.8h-0.8zM177.9 379.1h0.8v0.8h-0.8zM187.5 399.7h0.8v0.8h-0.8zM178.8 397.5h0.8v0.8h-0.8zM194.9 401.7h0.8v0.8h-0.8zM180.7 395.4h0.8v0.8h-0.8zM171.3 396.7h0.8v0.8h-0.8zM175.1 393.8h0.8v0.8h-0.8zM182.3 386.1h0.8v0.8h-0.8zM192.3 399.5h0.8v0.8h-0.8zM179.1 396.0h0.8v0.8h-0.8zM196.5 398.8h0.8v0.8h-0.8zM179.8 394.3h0.8v0.8h-0.8zM196.2 400.9h0.8v0.8h-0.8zM168.3 386.5h0.8v0.8h-0.8zM177.2 394.7h0.8v0.8h-0.8zM174.1 397.8h0.8v0.8h-0.8zM175.9 386.0h0.8v0.8h-0.8zM171.0 393.9h0.8v0.8h-0.8zM174.2 401.6h0.8v0.8h-0.8zM196.9 394.0h0.8v0.8h-0.8zM169.2 398.2h0.8v0.8h-0.8zM177.9 401.0h0.8v0.8h-0.8zM179.6 390.6h0.8v0.8h-0.8zM184.3 392.2h0.8v0.8h-0.8zM172.8 388.0h0.8v0.8h-0.8zM194.1 384.1h0.8v0.8h-0.8zM182.1 399.8h0.8v0.8h-0.8zM182.3 383.0h0.8v0.8h-0.8zM184.3 393.2h0.8v0.8h-0.8zM195.6 392.2h0.8v0.8h-0.8zM186.0 398.2h0.8v0.8h-0.8zM168.3 394.7h0.8v0.8h-0.8zM174.7 394.7h0.8v0.8h-0.8zM184.2 383.0h0.8v0.8h-0.8zM175.5 379.9h0.8v0.8h-0.8zM195.0 385.1h0.8v0.8h-0.8zM194.1 395.6h0.8v0.8h-0.8zM171.3 394.5h0.8v0.8h-0.8zM196.3 395.2h0.8v0.8h-0.8zM171.9 396.9h0.8v0.8h-0.8zM179.0 393.9h0.8v0.8h-0.8zM191.8 396.5h0.8v0.8h-0.8zM169.7 404.2h0.8v0.8h-0.8zM195.5 395.2h0.8v0.8h-0.8zM168.8 398.0h0.8v0.8h-0.8zM180.1 399.1h0.8v0.8h-0.8zM185.6 390.0h0.8v0.8h-0.8zM177.6 387.1h0.8v0.8h-0.8zM170.2 398.2h0.8v0.8h-0.8zM166.7 376.0h0.8v0.8h-0.8zM192.4 400.6h0.8v0.8h-0.8zM179.1 391.8h0.8v0.8h-0.8zM184.8 393.0h0.8v0.8h-0.8zM194.7 378.1h0.8v0.8h-0.8zM175.1 378.5h0.8v0.8h-0.8zM192.5 402.7h0.8v0.8h-0.8zM182.1 397.8h0.8v0.8h-0.8zM189.8 396.8h0.8v0.8h-0.8zM181.1 391.1h0.8v0.8h-0.8zM181.5 397.2h0.8v0.8h-0.8zM178.6 384.0h0.8v0.8h-0.8zM190.3 394.2h0.8v0.8h-0.8zM175.0 393.6h0.8v0.8h-0.8zM170.0 375.2h0.8v0.8h-0.8zM168.9 392.9h0.8v0.8h-0.8zM180.0 392.5h0.8v0.8h-0.8zM171.7 393.3h0.8v0.8h-0.8zM185.7 394.6h0.8v0.8h-0.8zM193.1 399.7h0.8v0.8h-0.8zM174.5 396.5h0.8v0.8h-0.8zM194.7 391.7h0.8v0.8h-0.8zM178.0 393.9h0.8v0.8h-0.8zM178.5 397.8h0.8v0.8h-0.8zM196.5 399.8h0.8v0.8h-0.8zM169.7 390.1h0.8v0.8h-0.8zM196.2 399.2h0.8v0.8h-0.8zM190.8 396.3h0.8v0.8h-0.8zM190.1 395.7h0.8v0.8h-0.8zM192.7 394.9h0.8v0.8h-0.8zM169.0 399.1h0.8v0.8h-0.8zM184.2 389.2h0.8v0.8h-0.8zM188.6 388.9h0.8v0.8h-0.8zM173.7 395.9h0.8v0.8h-0.8zM172.4 399.5h0.8v0.8h-0.8zM193.9 398.9h0.8v0.8h-0.8zM192.1 380.6h0.8v0.8h-0.8zM177.5 399.6h0.8v0.8h-0.8zM169.0 395.7h0.8v0.8h-0.8zM166.1 387.6h0.8v0.8h-0.8zM175.6 399.0h0.8v0.8h-0.8zM194.9 393.8h0.8v0.8h-0.8zM166.9 383.3h0.8v0.8h-0.8zM184.5 390.7h0.8v0.8h-0.8zM186.9 398.8h0.8v0.8h-0.8zM181.0 395.0h0.8v0.8h-0.8zM189.4 396.7h0.8v0.8h-0.8zM176.2 398.7h0.8v0.8h-0.8zM188.8 376.8h0.8v0.8h-0.8zM191.3 395.4h0.8v0.8h-0.8zM176.3 390.2h0.8v0.8h-0.8zM192.0 395.1h0.8v0.8h-0.8zM195.0 392.5h0.8v0.8h-0.8zM184.9 381.3h0.8v0.8h-0.8zM169.6 392.2h0.8v0.8h-0.8zM183.0 394.0h0.8v0.8h-0.8zM179.3 396.8h0.8v0.8h-0.8zM186.9 397.0h0.8v0.8h-0.8zM170.0 397.3h0.8v0.8h-0.8zM192.4 399.4h0.8v0.8h-0.8zM194.4 392.7h0.8v0.8h-0.8zM191.7 396.0h0.8v0.8h-0.8zM168.8 396.6h0.8v0.8h-0.8zM182.9 398.9h0.8v0.8h-0.8zM168.4 392.0h0.8v0.8h-0.8zM180.7 374.5h0.8v0.8h-0.8zM194.3 400.2h0.8v0.8h-0.8zM168.0 397.3h0.8v0.8h-0.8zM171.4 391.7h0.8v0.8h-0.8zM188.2 396.2h0.8v0.8h-0.8zM168.6 393.6h0.8v0.8h-0.8zM178.7 397.1h0.8v0.8h-0.8zM179.5 398.6h0.8v0.8h-0.8zM179.5 400.4h0.8v0.8h-0.8zM178.8 397.7h0.8v0.8h-0.8zM183.9 398.3h0.8v0.8h-0.8zM173.1 397.3h0.8v0.8h-0.8zM193.9 391.4h0.8v0.8h-0.8zM175.6 395.0h0.8v0.8h-0.8zM169.0 401.2h0.8v0.8h-0.8zM169.6 398.1h0.8v0.8h-0.8zM176.8 382.3h0.8v0.8h-0.8zM182.4 397.8h0.8v0.8h-0.8zM173.3 397.1h0.8v0.8h-0.8zM176.3 397.4h0.8v0.8h-0.8zM173.8 392.9h0.8v0.8h-0.8zM173.2 393.6h0.8v0.8h-0.8zM173.7 396.8h0.8v0.8h-0.8zM171.6 393.1h0.8v0.8h-0.8zM175.9 394.1h0.8v0.8h-0.8zM183.2 392.4h0.8v0.8h-0.8zM173.9 385.9h0.8v0.8h-0.8zM184.1 395.2h0.8v0.8h-0.8zM179.8 394.9h0.8v0.8h-0.8zM189.8 398.2h0.8v0.8h-0.8zM188.5 397.8h0.8v0.8h-0.8zM190.9 390.9h0.8v0.8h-0.8zM179.3 387.3h0.8v0.8h-0.8zM180.0 394.7h0.8v0.8h-0.8zM170.6 390.4h0.8v0.8h-0.8zM168.8 397.3h0.8v0.8h-0.8zM192.0 392.7h0.8v0.8h-0.8zM189.7 396.6h0.8v0.8h-0.8zM190.0 394.7h0.8v0.8h-0.8zM191.2 399.3h0.8v0.8h-0.8zM173.0 399.9h0.8v0.8h-0.8zM176.3 400.8h0.8v0.8h-0.8zM179.2 398.6h0.8v0.8h-0.8zM189.7 390.6h0.8v0.8h-0.8zM176.0 397.0h0.8v0.8h-0.8zM189.1 399.3h0.8v0.8h-0.8zM180.0 397.3h0.8v0.8h-0.8zM193.6 393.9h0.8v0.8h-0.8zM194.5 394.5h0.8v0.8h-0.8zM175.7 395.0h0.8v0.8h-0.8zM194.3 398.2h0.8v0.8h-0.8zM181.5 382.1h0.8v0.8h-0.8zM196.8 397.1h0.8v0.8h-0.8zM193.0 397.0h0.8v0.8h-0.8zM190.6 396.7h0.8v0.8h-0.8zM195.0 398.0h0.8v0.8h-0.8zM186.0 393.4h0.8v0.8h-0.8zM173.0 394.0h0.8v0.8h-0.8zM172.7 386.0h0.8v0.8h-0.8zM182.1 396.2h0.8v0.8h-0.8zM193.2 393.7h0.8v0.8h-0.8zM170.4 396.3h0.8v0.8h-0.8zM175.5 399.1h0.8v0.8h-0.8zM168.6 394.5h0.8v0.8h-0.8zM191.1 389.1h0.8v0.8h-0.8zM193.3 389.6h0.8v0.8h-0.8zM183.8 391.8h0.8v0.8h-0.8zM196.2 382.3h0.8v0.8h-0.8zM175.5 378.8h0.8v0.8h-0.8zM176.1 387.8h0.8v0.8h-0.8zM176.5 395.2h0.8v0.8h-0.8zM193.4 397.8h0.8v0.8h-0.8zM173.3 395.8h0.8v0.8h-0.8zM174.8 399.3h0.8v0.8h-0.8zM196.2 398.9h0.8v0.8h-0.8zM193.9 402.1h0.8v0.8h-0.8zM175.8 391.9h0.8v0.8h-0.8zM170.6 398.7h0.8v0.8h-0.8zM188.6 395.6h0.8v0.8h-0.8zM170.5 391.3h0.8v0.8h-0.8zM168.7 398.4h0.8v0.8h-0.8zM188.9 397.0h0.8v0.8h-0.8zM192.5 398.3h0.8v0.8h-0.8zM170.2 396.2h0.8v0.8h-0.8zM172.2 401.3h0.8v0.8h-0.8zM180.2 392.4h0.8v0.8h-0.8zM179.3 395.7h0.8v0.8h-0.8zM194.6 401.6h0.8v0.8h-0.8zM174.0 395.6h0.8v0.8h-0.8zM168.2 396.4h0.8v0.8h-0.8zM189.8 399.1h0.8v0.8h-0.8zM183.0 396.1h0.8v0.8h-0.8zM171.0 396.0h0.8v0.8h-0.8zM178.8 405.1h0.8v0.8h-0.8zM175.0 395.3h0.8v0.8h-0.8zM173.6 395.4h0.8v0.8h-0.8zM180.5 391.6h0.8v0.8h-0.8zM172.0 397.3h0.8v0.8h-0.8zM169.0 398.4h0.8v0.8h-0.8zM174.7 392.5h0.8v0.8h-0.8zM169.8 388.1h0.8v0.8h-0.8zM185.1 391.7h0.8v0.8h-0.8zM174.9 397.7h0.8v0.8h-0.8zM189.6 400.2h0.8v0.8h-0.8zM176.2 397.6h0.8v0.8h-0.8zM190.4 390.7h0.8v0.8h-0.8zM185.6 398.4h0.8v0.8h-0.8zM195.0 398.2h0.8v0.8h-0.8zM173.1 392.3h0.8v0.8h-0.8zM169.3 377.8h0.8v0.8h-0.8zM169.5 400.3h0.8v0.8h-0.8zM181.1 393.4h0.8v0.8h-0.8zM168.2 398.6h0.8v0.8h-0.8zM187.1 389.6h0.8v0.8h-0.8zM176.4 390.9h0.8v0.8h-0.8zM171.8 387.2h0.8v0.8h-0.8zM172.1 398.9h0.8v0.8h-0.8zM176.5 398.9h0.8v0.8h-0.8zM194.0 396.2h0.8v0.8h-0.8zM175.0 399.0h0.8v0.8h-0.8zM174.7 397.3h0.8v0.8h-0.8zM194.9 396.9h0.8v0.8h-0.8zM180.1 397.7h0.8v0.8h-0.8zM178.2 388.5h0.8v0.8h-0.8zM171.6 393.0h0.8v0.8h-0.8zM183.6 392.9h0.8v0.8h-0.8zM177.5 395.5h0.8v0.8h-0.8zM196.7 392.5h0.8v0.8h-0.8zM172.0 396.6h0.8v0.8h-0.8zM184.1 393.3h0.8v0.8h-0.8zM196.6 393.0h0.8v0.8h-0.8zM192.6 393.0h0.8v0.8h-0.8zM182.1 395.2h0.8v0.8h-0.8zM179.1 392.7h0.8v0.8h-0.8zM178.7 390.8h0.8v0.8h-0.8zM191.4 398.9h0.8v0.8h-0.8zM195.6 399.0h0.8v0.8h-0.8zM196.2 396.8h0.8v0.8h-0.8zM175.7 391.5h0.8v0.8h-0.8zM171.0 401.9h0.8v0.8h-0.8zM172.0 395.1h0.8v0.8h-0.8zM182.6 382.7h0.8v0.8h-0.8zM194.5 398.9h0.8v0.8h-0.8zM195.5 396.3h0.8v0.8h-0.8zM184.0 390.9h0.8v0.8h-0.8zM193.2 397.6h0.8v0.8h-0.8zM180.8 380.3h0.8v0.8h-0.8zM184.6 397.4h0.8v0.8h-0.8zM174.2 390.0h0.8v0.8h-0.8zM171.1 384.5h0.8v0.8h-0.8zM175.4 395.5h0.8v0.8h-0.8zM183.8 397.4h0.8v0.8h-0.8zM183.9 401.6h0.8v0.8h-0.8zM174.9 401.2h0.8v0.8h-0.8zM180.4 398.6h0.8v0.8h-0.8zM188.6 387.2h0.8v0.8h-0.8zM190.5 399.1h0.8v0.8h-0.8zM170.1 399.1h0.8v0.8h-0.8zM173.2 399.9h0.8v0.8h-0.8zM193.0 394.0h0.8v0.8h-0.8zM190.8 374.7h0.8v0.8h-0.8zM183.1 392.4h0.8v0.8h-0.8zM184.2 397.1h0.8v0.8h-0.8zM194.1 389.8h0.8v0.8h-0.8zM190.4 396.2h0.8v0.8h-0.8zM196.9 398.7h0.8v0.8h-0.8zM188.9 378.3h0.8v0.8h-0.8zM174.3 397.1h0.8v0.8h-0.8zM179.8 391.0h0.8v0.8h-0.8zM178.2 394.9h0.8v0.8h-0.8zM178.0 398.8h0.8v0.8h-0.8zM169.1 393.2h0.8v0.8h-0.8zM187.1 399.2h0.8v0.8h-0.8zM178.4 394.5h0.8v0.8h-0.8zM191.5 392.8h0.8v0.8h-0.8zM183.8 389.7h0.8v0.8h-0.8zM187.1 395.5h0.8v0.8h-0.8zM193.2 400.0h0.8v0.8h-0.8zM176.2 391.2h0.8v0.8h-0.8zM179.9 394.2h0.8v0.8h-0.8zM172.0 398.3h0.8v0.8h-0.8zM187.7 396.0h0.8v0.8h-0.8zM169.1 390.7h0.8v0.8h-0.8zM188.6 393.5h0.8v0.8h-0.8zM180.4 402.7h0.8v0.8h-0.8zM186.9 396.1h0.8v0.8h-0.8zM181.2 393.6h0.8v0.8h-0.8zM184.2 395.3h0.8v0.8h-0.8zM179.2 392.6h0.8v0.8h-0.8zM174.1 384.6h0.8v0.8h-0.8zM195.1 398.1h0.8v0.8h-0.8zM195.7 391.9h0.8v0.8h-0.8zM187.2 395.0h0.8v0.8h-0.8zM195.0 396.3h0.8v0.8h-0.8zM172.0 393.8h0.8v0.8h-0.8zM195.4 402.3h0.8v0.8h-0.8zM185.0 391.7h0.8v0.8h-0.8zM193.3 393.8h0.8v0.8h-0.8zM191.9 389.6h0.8v0.8h-0.8zM173.7 396.4h0.8v0.8h-0.8zM192.0 399.9h0.8v0.8h-0.8zM179.7 395.9h0.8v0.8h-0.8zM193.0 395.6h0.8v0.8h-0.8zM186.5 392.1h0.8v0.8h-0.8zM185.9 402.3h0.8v0.8h-0.8zM183.5 396.3h0.8v0.8h-0.8zM195.7 391.5h0.8v0.8h-0.8zM178.8 396.7h0.8v0.8h-0.8zM192.3 396.0h0.8v0.8h-0.8zM189.6 397.0h0.8v0.8h-0.8zM188.4 391.1h0.8v0.8h-0.8zM168.1 392.8h0.8v0.8h-0.8zM175.6 394.6h0.8v0.8h-0.8zM176.1 382.8h0.8v0.8h-0.8zM185.3 396.3h0.8v0.8h-0.8zM169.1 398.5h0.8v0.8h-0.8zM172.2 397.5h0.8v0.8h-0.8zM168.5 387.4h0.8v0.8h-0.8zM182.9 393.8h0.8v0.8h-0.8zM170.6 399.0h0.8v0.8h-0.8zM185.1 398.8h0.8v0.8h-0.8zM177.9 397.9h0.8v0.8h-0.8zM195.0 378.3h0.8v0.8h-0.8zM196.2 400.5h0.8v0.8h-0.8zM178.8 384.3h0.8v0.8h-0.8zM195.5 395.0h0.8v0.8h-0.8zM168.5 394.4h0.8v0.8h-0.8zM189.9 398.3h0.8v0.8h-0.8zM178.2 398.0h0.8v0.8h-0.8zM169.1 394.7h0.8v0.8h-0.8zM194.3 380.4h0.8v0.8h-0.8zM172.7 387.9h0.8v0.8h-0.8zM180.7 395.3h0.8v0.8h-0.8zM193.9 384.5h0.8v0.8h-0.8zM170.3 398.2h0.8v0.8h-0.8zM178.6 392.3h0.8v0.8h-0.8zM175.5 396.2h0.8v0.8h-0.8zM180.1 390.8h0.8v0.8h-0.8zM176.9 398.2h0.8v0.8h-0.8zM173.8 396.1h0.8v0.8h-0.8zM180.6 396.1h0.8v0.8h-0.8zM185.5 395.7h0.8v0.8h-0.8zM173.8 393.8h0.8v0.8h-0.8zM194.3 399.0h0.8v0.8h-0.8zM190.2 392.9h0.8v0.8h-0.8zM181.2 389.6h0.8v0.8h-0.8zM173.6 396.5h0.8v0.8h-0.8zM180.9 394.5h0.8v0.8h-0.8zM180.9 390.5h0.8v0.8h-0.8zM196.9 394.0h0.8v0.8h-0.8zM173.5 394.3h0.8v0.8h-0.8zM194.9 393.4h0.8v0.8h-0.8zM174.4 396.2h0.8v0.8h-0.8z" fill="#4a4cb0" fill-opacity="0.4"/>
<ellipse cx="182.0" cy="395.0" rx="14" ry="6.5" fill="#4a50c0" fill-opacity="0.4" filter="url(#bl15)"/>
<ellipse cx="182.0" cy="398.0" rx="13" ry="4.2" fill="#2c4fbf" fill-opacity="0.75" filter="url(#bl1)"/>
<ellipse cx="177.0" cy="399.5" rx="8" ry="2.6" fill="#1fa8df" fill-opacity="0.75" filter="url(#bl1)"/>
<ellipse cx="190.6" cy="399.3" rx="5" ry="3.4" fill="#1fa8df" fill-opacity="1" filter="url(#bl05)"/>
<ellipse cx="190.6" cy="399.3" rx="3.6" ry="2.6" fill="#1fae4c" fill-opacity="1" filter="url(#bl05)"/>
<ellipse cx="190.6" cy="399.3" rx="2.4" ry="1.8" fill="#ebe224" fill-opacity="1" filter="url(#bl05)"/>
<ellipse cx="190.6" cy="399.3" rx="1.2" ry="1.0" fill="#e43a25" fill-opacity="1" filter="url(#bl05)"/>
</g>
<path d="M165.6 356.9 V387 H199.6 V356.9" fill="none" stroke="#8a8a8a" stroke-width="0.8"/>
<text x="172.8" y="366.3" font-size="7.4" fill="#231f20" textLength="19.2" lengthAdjust="spacingAndGlyphs">0.48%</text>
<line x1="145.79999999999998" y1="362.5" x2="149.2" y2="362.5" stroke="#231f20" stroke-width="0.9"/>
<text x="139.2" y="364.8" font-size="6.4" fill="#2a2a2a" text-anchor="end" textLength="5.4" lengthAdjust="spacingAndGlyphs">10</text>
<text x="139.6" y="361.9" font-size="4.0" fill="#2a2a2a">5</text>
<line x1="145.79999999999998" y1="376.7" x2="149.2" y2="376.7" stroke="#231f20" stroke-width="0.9"/>
<text x="139.2" y="379.0" font-size="6.4" fill="#2a2a2a" text-anchor="end" textLength="5.4" lengthAdjust="spacingAndGlyphs">10</text>
<text x="139.6" y="376.09999999999997" font-size="4.0" fill="#2a2a2a">4</text>
<line x1="145.79999999999998" y1="393.2" x2="149.2" y2="393.2" stroke="#231f20" stroke-width="0.9"/>
<text x="139.2" y="395.5" font-size="6.4" fill="#2a2a2a" text-anchor="end" textLength="5.4" lengthAdjust="spacingAndGlyphs">10</text>
<text x="139.6" y="392.59999999999997" font-size="4.0" fill="#2a2a2a">3</text>
<line x1="145.79999999999998" y1="402.6" x2="149.2" y2="402.6" stroke="#231f20" stroke-width="0.9"/>
<text x="139.79999999999998" y="404.70000000000005" font-size="6.0" fill="#2a2a2a" text-anchor="end">0</text>
<line x1="145.79999999999998" y1="412.8" x2="149.2" y2="412.8" stroke="#231f20" stroke-width="0.9"/>
<text x="139.2" y="415.1" font-size="6.4" fill="#2a2a2a" text-anchor="end" textLength="8.0" lengthAdjust="spacingAndGlyphs">-10</text>
<text x="139.6" y="412.2" font-size="4.0" fill="#2a2a2a">3</text>
<line x1="147.6" y1="358.9" x2="149.2" y2="358.9" stroke="#231f20" stroke-width="0.55"/>
<line x1="147.6" y1="360.9" x2="149.2" y2="360.9" stroke="#231f20" stroke-width="0.55"/>
<line x1="147.6" y1="362.9" x2="149.2" y2="362.9" stroke="#231f20" stroke-width="0.55"/>
<line x1="147.6" y1="364.9" x2="149.2" y2="364.9" stroke="#231f20" stroke-width="0.55"/>
<line x1="147.6" y1="366.9" x2="149.2" y2="366.9" stroke="#231f20" stroke-width="0.55"/>
<line x1="147.6" y1="368.9" x2="149.2" y2="368.9" stroke="#231f20" stroke-width="0.55"/>
<line x1="147.6" y1="370.9" x2="149.2" y2="370.9" stroke="#231f20" stroke-width="0.55"/>
<line x1="147.6" y1="372.9" x2="149.2" y2="372.9" stroke="#231f20" stroke-width="0.55"/>
<line x1="147.6" y1="374.9" x2="149.2" y2="374.9" stroke="#231f20" stroke-width="0.55"/>
<line x1="147.6" y1="376.9" x2="149.2" y2="376.9" stroke="#231f20" stroke-width="0.55"/>
<line x1="147.6" y1="378.9" x2="149.2" y2="378.9" stroke="#231f20" stroke-width="0.55"/>
<line x1="147.6" y1="380.9" x2="149.2" y2="380.9" stroke="#231f20" stroke-width="0.55"/>
<line x1="147.6" y1="382.9" x2="149.2" y2="382.9" stroke="#231f20" stroke-width="0.55"/>
<line x1="147.6" y1="384.9" x2="149.2" y2="384.9" stroke="#231f20" stroke-width="0.55"/>
<line x1="147.6" y1="386.9" x2="149.2" y2="386.9" stroke="#231f20" stroke-width="0.55"/>
<line x1="147.6" y1="388.9" x2="149.2" y2="388.9" stroke="#231f20" stroke-width="0.55"/>
<line x1="147.6" y1="390.9" x2="149.2" y2="390.9" stroke="#231f20" stroke-width="0.55"/>
<line x1="147.6" y1="392.9" x2="149.2" y2="392.9" stroke="#231f20" stroke-width="0.55"/>
<line x1="147.6" y1="394.9" x2="149.2" y2="394.9" stroke="#231f20" stroke-width="0.55"/>
<line x1="147.6" y1="396.9" x2="149.2" y2="396.9" stroke="#231f20" stroke-width="0.55"/>
<line x1="147.6" y1="398.9" x2="149.2" y2="398.9" stroke="#231f20" stroke-width="0.55"/>
<line x1="147.6" y1="400.9" x2="149.2" y2="400.9" stroke="#231f20" stroke-width="0.55"/>
<line x1="147.6" y1="402.9" x2="149.2" y2="402.9" stroke="#231f20" stroke-width="0.55"/>
<line x1="147.6" y1="404.9" x2="149.2" y2="404.9" stroke="#231f20" stroke-width="0.55"/>
<line x1="147.6" y1="406.9" x2="149.2" y2="406.9" stroke="#231f20" stroke-width="0.55"/>
<line x1="147.6" y1="408.9" x2="149.2" y2="408.9" stroke="#231f20" stroke-width="0.55"/>
<line x1="147.6" y1="410.9" x2="149.2" y2="410.9" stroke="#231f20" stroke-width="0.55"/>
<line x1="147.6" y1="412.9" x2="149.2" y2="412.9" stroke="#231f20" stroke-width="0.55"/>
<line x1="147.6" y1="414.9" x2="149.2" y2="414.9" stroke="#231f20" stroke-width="0.55"/>
<line x1="157.8" y1="416.7" x2="157.8" y2="419.7" stroke="#231f20" stroke-width="0.9"/>
<text x="157.8" y="428.3" font-size="6.0" fill="#2a2a2a" text-anchor="middle">0</text>
<line x1="174.0" y1="416.7" x2="174.0" y2="419.7" stroke="#231f20" stroke-width="0.9"/>
<text x="170.4" y="428.3" font-size="6.0" fill="#2a2a2a" textLength="5.5" lengthAdjust="spacingAndGlyphs">10</text>
<text x="176.3" y="425.5" font-size="3.8" fill="#2a2a2a">3</text>
<line x1="189.7" y1="416.7" x2="189.7" y2="419.7" stroke="#231f20" stroke-width="0.9"/>
<text x="186.1" y="428.3" font-size="6.0" fill="#2a2a2a" textLength="5.5" lengthAdjust="spacingAndGlyphs">10</text>
<text x="192.0" y="425.5" font-size="3.8" fill="#2a2a2a">4</text>
<line x1="203.2" y1="416.7" x2="203.2" y2="419.7" stroke="#231f20" stroke-width="0.9"/>
<text x="199.6" y="428.3" font-size="6.0" fill="#2a2a2a" textLength="5.5" lengthAdjust="spacingAndGlyphs">10</text>
<text x="205.5" y="425.5" font-size="3.8" fill="#2a2a2a">5</text>
<line x1="151.2" y1="416.7" x2="151.2" y2="418.3" stroke="#231f20" stroke-width="0.55"/>
<line x1="153.2" y1="416.7" x2="153.2" y2="418.3" stroke="#231f20" stroke-width="0.55"/>
<line x1="155.2" y1="416.7" x2="155.2" y2="418.3" stroke="#231f20" stroke-width="0.55"/>
<line x1="157.2" y1="416.7" x2="157.2" y2="418.3" stroke="#231f20" stroke-width="0.55"/>
<line x1="159.2" y1="416.7" x2="159.2" y2="418.3" stroke="#231f20" stroke-width="0.55"/>
<line x1="161.2" y1="416.7" x2="161.2" y2="418.3" stroke="#231f20" stroke-width="0.55"/>
<line x1="163.2" y1="416.7" x2="163.2" y2="418.3" stroke="#231f20" stroke-width="0.55"/>
<line x1="165.2" y1="416.7" x2="165.2" y2="418.3" stroke="#231f20" stroke-width="0.55"/>
<line x1="167.2" y1="416.7" x2="167.2" y2="418.3" stroke="#231f20" stroke-width="0.55"/>
<line x1="169.2" y1="416.7" x2="169.2" y2="418.3" stroke="#231f20" stroke-width="0.55"/>
<line x1="171.2" y1="416.7" x2="171.2" y2="418.3" stroke="#231f20" stroke-width="0.55"/>
<line x1="173.2" y1="416.7" x2="173.2" y2="418.3" stroke="#231f20" stroke-width="0.55"/>
<line x1="175.2" y1="416.7" x2="175.2" y2="418.3" stroke="#231f20" stroke-width="0.55"/>
<line x1="177.2" y1="416.7" x2="177.2" y2="418.3" stroke="#231f20" stroke-width="0.55"/>
<line x1="179.2" y1="416.7" x2="179.2" y2="418.3" stroke="#231f20" stroke-width="0.55"/>
<line x1="181.2" y1="416.7" x2="181.2" y2="418.3" stroke="#231f20" stroke-width="0.55"/>
<line x1="183.2" y1="416.7" x2="183.2" y2="418.3" stroke="#231f20" stroke-width="0.55"/>
<line x1="185.2" y1="416.7" x2="185.2" y2="418.3" stroke="#231f20" stroke-width="0.55"/>
<line x1="187.2" y1="416.7" x2="187.2" y2="418.3" stroke="#231f20" stroke-width="0.55"/>
<line x1="189.2" y1="416.7" x2="189.2" y2="418.3" stroke="#231f20" stroke-width="0.55"/>
<line x1="191.2" y1="416.7" x2="191.2" y2="418.3" stroke="#231f20" stroke-width="0.55"/>
<line x1="193.2" y1="416.7" x2="193.2" y2="418.3" stroke="#231f20" stroke-width="0.55"/>
<line x1="195.2" y1="416.7" x2="195.2" y2="418.3" stroke="#231f20" stroke-width="0.55"/>
<line x1="197.2" y1="416.7" x2="197.2" y2="418.3" stroke="#231f20" stroke-width="0.55"/>
<line x1="199.2" y1="416.7" x2="199.2" y2="418.3" stroke="#231f20" stroke-width="0.55"/>
<line x1="201.2" y1="416.7" x2="201.2" y2="418.3" stroke="#231f20" stroke-width="0.55"/>
<line x1="203.2" y1="416.7" x2="203.2" y2="418.3" stroke="#231f20" stroke-width="0.55"/>
<line x1="205.2" y1="416.7" x2="205.2" y2="418.3" stroke="#231f20" stroke-width="0.55"/>
<line x1="207.2" y1="416.7" x2="207.2" y2="418.3" stroke="#231f20" stroke-width="0.55"/>
<rect x="149.2" y="356.9" width="59.8" height="59.8" fill="none" stroke="#231f20" stroke-width="1.3"/>
<text x="182.2" y="441.0" font-size="9.7" fill="#231f20" text-anchor="middle" textLength="17.4" lengthAdjust="spacingAndGlyphs">CD8</text>
<text x="160.6" y="350.8" font-size="7.0" fill="#231f20" textLength="36.7" lengthAdjust="spacingAndGlyphs">No Peptide</text>
<g transform="translate(125.99999999999999,394.4) rotate(-90)"><text x="0" y="0" font-size="9.9" fill="#231f20" textLength="12.9" lengthAdjust="spacingAndGlyphs">IFN</text><text x="13.0" y="1.8" font-size="6.4" fill="#231f20">γ</text></g>
<g clip-path="url(#cpB5)">
<path d="M294.6 380.9h0.8v0.8h-0.8zM272.0 389.9h0.8v0.8h-0.8zM274.7 388.8h0.8v0.8h-0.8zM287.3 393.9h0.8v0.8h-0.8zM280.9 400.4h0.8v0.8h-0.8zM270.3 373.0h0.8v0.8h-0.8zM274.3 392.2h0.8v0.8h-0.8zM273.4 397.5h0.8v0.8h-0.8zM289.6 388.8h0.8v0.8h-0.8zM278.2 388.7h0.8v0.8h-0.8zM285.2 399.5h0.8v0.8h-0.8zM288.2 391.7h0.8v0.8h-0.8zM274.9 399.7h0.8v0.8h-0.8zM272.1 399.4h0.8v0.8h-0.8zM294.6 395.8h0.8v0.8h-0.8zM281.4 387.1h0.8v0.8h-0.8zM286.7 379.0h0.8v0.8h-0.8zM277.0 396.1h0.8v0.8h-0.8zM283.7 389.3h0.8v0.8h-0.8zM292.5 394.7h0.8v0.8h-0.8zM273.4 400.3h0.8v0.8h-0.8zM276.9 397.6h0.8v0.8h-0.8zM267.4 385.5h0.8v0.8h-0.8zM286.8 395.8h0.8v0.8h-0.8zM287.1 399.4h0.8v0.8h-0.8zM294.3 372.8h0.8v0.8h-0.8zM277.2 394.5h0.8v0.8h-0.8zM287.4 368.6h0.8v0.8h-0.8zM282.1 402.7h0.8v0.8h-0.8zM281.0 404.0h0.8v0.8h-0.8zM290.3 387.3h0.8v0.8h-0.8zM275.1 370.2h0.8v0.8h-0.8zM272.8 368.4h0.8v0.8h-0.8zM278.1 382.0h0.8v0.8h-0.8zM281.7 392.4h0.8v0.8h-0.8zM268.4 389.1h0.8v0.8h-0.8zM268.8 385.0h0.8v0.8h-0.8zM287.1 382.5h0.8v0.8h-0.8zM292.6 389.4h0.8v0.8h-0.8zM270.4 398.0h0.8v0.8h-0.8zM275.5 392.3h0.8v0.8h-0.8zM290.3 390.2h0.8v0.8h-0.8zM285.8 376.9h0.8v0.8h-0.8zM293.0 387.3h0.8v0.8h-0.8zM271.0 402.3h0.8v0.8h-0.8zM285.3 394.1h0.8v0.8h-0.8zM294.3 372.6h0.8v0.8h-0.8zM284.2 373.1h0.8v0.8h-0.8zM277.9 386.2h0.8v0.8h-0.8zM288.9 398.0h0.8v0.8h-0.8zM270.9 367.2h0.8v0.8h-0.8zM285.0 378.5h0.8v0.8h-0.8zM280.5 402.2h0.8v0.8h-0.8zM274.8 398.1h0.8v0.8h-0.8zM286.2 374.5h0.8v0.8h-0.8zM295.0 396.5h0.8v0.8h-0.8zM283.1 369.5h0.8v0.8h-0.8zM278.1 397.4h0.8v0.8h-0.8zM278.1 369.6h0.8v0.8h-0.8zM281.6 394.0h0.8v0.8h-0.8zM294.1 393.2h0.8v0.8h-0.8zM295.2 396.3h0.8v0.8h-0.8zM266.2 396.9h0.8v0.8h-0.8zM269.7 394.5h0.8v0.8h-0.8zM279.7 395.4h0.8v0.8h-0.8zM280.6 396.8h0.8v0.8h-0.8zM267.5 396.1h0.8v0.8h-0.8zM271.0 401.0h0.8v0.8h-0.8zM277.2 377.8h0.8v0.8h-0.8zM290.8 397.1h0.8v0.8h-0.8zM294.1 396.1h0.8v0.8h-0.8zM282.5 398.0h0.8v0.8h-0.8zM284.7 383.1h0.8v0.8h-0.8zM271.2 393.4h0.8v0.8h-0.8zM267.9 398.9h0.8v0.8h-0.8zM279.3 398.7h0.8v0.8h-0.8zM270.4 398.0h0.8v0.8h-0.8zM278.5 377.0h0.8v0.8h-0.8zM295.6 369.5h0.8v0.8h-0.8zM276.2 396.4h0.8v0.8h-0.8zM290.8 371.2h0.8v0.8h-0.8zM282.4 378.0h0.8v0.8h-0.8zM287.4 368.8h0.8v0.8h-0.8zM294.4 399.9h0.8v0.8h-0.8zM282.7 370.0h0.8v0.8h-0.8zM287.2 391.1h0.8v0.8h-0.8zM273.2 395.2h0.8v0.8h-0.8zM284.4 379.7h0.8v0.8h-0.8zM280.8 369.7h0.8v0.8h-0.8zM294.1 392.3h0.8v0.8h-0.8zM287.9 398.7h0.8v0.8h-0.8zM283.7 403.8h0.8v0.8h-0.8zM285.3 376.0h0.8v0.8h-0.8zM293.0 394.3h0.8v0.8h-0.8zM285.6 393.0h0.8v0.8h-0.8zM287.8 373.8h0.8v0.8h-0.8zM274.6 402.6h0.8v0.8h-0.8zM293.4 395.7h0.8v0.8h-0.8zM292.6 396.7h0.8v0.8h-0.8zM289.8 398.7h0.8v0.8h-0.8zM277.2 394.9h0.8v0.8h-0.8zM284.6 373.2h0.8v0.8h-0.8zM293.0 389.8h0.8v0.8h-0.8zM288.7 383.8h0.8v0.8h-0.8zM279.8 391.8h0.8v0.8h-0.8zM291.1 401.1h0.8v0.8h-0.8zM288.3 369.5h0.8v0.8h-0.8zM290.6 381.9h0.8v0.8h-0.8zM280.9 369.8h0.8v0.8h-0.8zM273.8 366.2h0.8v0.8h-0.8zM286.3 388.1h0.8v0.8h-0.8zM296.0 392.2h0.8v0.8h-0.8zM283.1 389.6h0.8v0.8h-0.8zM286.2 380.6h0.8v0.8h-0.8zM275.8 401.0h0.8v0.8h-0.8zM280.0 375.9h0.8v0.8h-0.8zM294.1 366.4h0.8v0.8h-0.8zM279.0 393.6h0.8v0.8h-0.8zM282.4 384.7h0.8v0.8h-0.8zM289.6 375.5h0.8v0.8h-0.8zM295.2 393.6h0.8v0.8h-0.8zM290.0 367.7h0.8v0.8h-0.8zM284.7 395.2h0.8v0.8h-0.8zM271.9 398.2h0.8v0.8h-0.8zM281.5 394.8h0.8v0.8h-0.8zM284.3 374.3h0.8v0.8h-0.8zM275.2 399.5h0.8v0.8h-0.8zM267.0 393.1h0.8v0.8h-0.8zM281.3 388.3h0.8v0.8h-0.8zM295.9 396.9h0.8v0.8h-0.8zM287.0 379.5h0.8v0.8h-0.8zM283.8 390.5h0.8v0.8h-0.8zM266.1 373.6h0.8v0.8h-0.8zM269.2 387.5h0.8v0.8h-0.8zM278.0 386.9h0.8v0.8h-0.8zM271.1 398.5h0.8v0.8h-0.8zM276.9 385.2h0.8v0.8h-0.8zM290.1 371.0h0.8v0.8h-0.8zM279.8 398.3h0.8v0.8h-0.8zM279.9 381.8h0.8v0.8h-0.8zM286.4 376.3h0.8v0.8h-0.8zM283.6 389.6h0.8v0.8h-0.8zM278.2 393.6h0.8v0.8h-0.8zM284.4 389.5h0.8v0.8h-0.8zM278.6 394.3h0.8v0.8h-0.8zM274.1 389.3h0.8v0.8h-0.8zM286.0 395.5h0.8v0.8h-0.8zM278.9 389.7h0.8v0.8h-0.8zM294.7 399.7h0.8v0.8h-0.8zM277.1 393.9h0.8v0.8h-0.8zM286.8 400.1h0.8v0.8h-0.8zM283.3 382.4h0.8v0.8h-0.8zM289.2 379.5h0.8v0.8h-0.8zM288.1 399.4h0.8v0.8h-0.8zM294.2 398.1h0.8v0.8h-0.8zM274.4 394.7h0.8v0.8h-0.8zM269.6 399.2h0.8v0.8h-0.8zM294.1 392.6h0.8v0.8h-0.8zM280.2 391.0h0.8v0.8h-0.8zM270.6 397.8h0.8v0.8h-0.8zM287.1 377.7h0.8v0.8h-0.8zM291.3 393.0h0.8v0.8h-0.8zM279.1 386.1h0.8v0.8h-0.8zM291.0 382.9h0.8v0.8h-0.8zM282.4 392.6h0.8v0.8h-0.8zM291.4 398.3h0.8v0.8h-0.8zM291.5 369.6h0.8v0.8h-0.8zM288.8 389.3h0.8v0.8h-0.8zM268.9 386.6h0.8v0.8h-0.8zM282.3 396.0h0.8v0.8h-0.8zM282.7 399.1h0.8v0.8h-0.8zM278.8 388.5h0.8v0.8h-0.8zM277.8 385.2h0.8v0.8h-0.8zM283.5 386.7h0.8v0.8h-0.8zM279.4 395.8h0.8v0.8h-0.8zM277.9 394.5h0.8v0.8h-0.8zM266.3 396.6h0.8v0.8h-0.8zM283.7 390.7h0.8v0.8h-0.8zM292.0 400.5h0.8v0.8h-0.8zM283.2 385.6h0.8v0.8h-0.8zM287.2 397.9h0.8v0.8h-0.8zM291.6 392.0h0.8v0.8h-0.8zM278.2 399.3h0.8v0.8h-0.8zM280.7 368.9h0.8v0.8h-0.8zM268.4 387.4h0.8v0.8h-0.8zM266.0 401.0h0.8v0.8h-0.8zM280.6 380.0h0.8v0.8h-0.8zM294.4 401.6h0.8v0.8h-0.8zM293.5 396.9h0.8v0.8h-0.8zM270.0 398.5h0.8v0.8h-0.8zM290.3 397.4h0.8v0.8h-0.8zM272.8 396.2h0.8v0.8h-0.8zM284.7 370.8h0.8v0.8h-0.8zM276.1 391.7h0.8v0.8h-0.8zM280.1 377.5h0.8v0.8h-0.8zM269.4 390.0h0.8v0.8h-0.8zM284.4 380.1h0.8v0.8h-0.8zM272.7 396.0h0.8v0.8h-0.8zM290.7 399.3h0.8v0.8h-0.8zM288.2 385.4h0.8v0.8h-0.8zM287.4 400.4h0.8v0.8h-0.8zM287.2 375.1h0.8v0.8h-0.8zM289.2 397.9h0.8v0.8h-0.8zM267.2 393.5h0.8v0.8h-0.8zM288.4 399.1h0.8v0.8h-0.8zM270.2 397.3h0.8v0.8h-0.8zM283.2 391.5h0.8v0.8h-0.8zM287.0 368.8h0.8v0.8h-0.8zM274.7 396.6h0.8v0.8h-0.8zM277.6 401.5h0.8v0.8h-0.8zM285.4 390.4h0.8v0.8h-0.8zM284.1 378.9h0.8v0.8h-0.8zM294.7 397.9h0.8v0.8h-0.8zM283.8 392.9h0.8v0.8h-0.8zM273.1 401.8h0.8v0.8h-0.8zM289.2 392.1h0.8v0.8h-0.8zM267.9 398.3h0.8v0.8h-0.8zM280.2 384.7h0.8v0.8h-0.8zM277.9 380.4h0.8v0.8h-0.8zM270.2 401.0h0.8v0.8h-0.8zM276.2 386.7h0.8v0.8h-0.8zM279.4 398.7h0.8v0.8h-0.8zM273.6 400.8h0.8v0.8h-0.8zM290.5 367.8h0.8v0.8h-0.8zM273.3 400.6h0.8v0.8h-0.8zM281.5 398.4h0.8v0.8h-0.8zM283.2 396.8h0.8v0.8h-0.8zM283.4 371.2h0.8v0.8h-0.8zM286.0 398.0h0.8v0.8h-0.8zM279.9 388.9h0.8v0.8h-0.8zM272.4 400.0h0.8v0.8h-0.8zM274.1 372.6h0.8v0.8h-0.8zM289.4 400.1h0.8v0.8h-0.8zM284.1 380.4h0.8v0.8h-0.8zM276.5 369.1h0.8v0.8h-0.8zM289.7 399.7h0.8v0.8h-0.8zM284.0 398.4h0.8v0.8h-0.8zM267.3 390.7h0.8v0.8h-0.8zM289.0 376.7h0.8v0.8h-0.8zM278.5 392.8h0.8v0.8h-0.8zM282.7 393.0h0.8v0.8h-0.8zM279.3 372.8h0.8v0.8h-0.8zM281.3 385.3h0.8v0.8h-0.8zM267.6 396.0h0.8v0.8h-0.8zM281.2 373.4h0.8v0.8h-0.8zM285.6 380.4h0.8v0.8h-0.8zM274.7 368.9h0.8v0.8h-0.8zM284.3 376.6h0.8v0.8h-0.8zM293.5 397.2h0.8v0.8h-0.8zM282.1 372.2h0.8v0.8h-0.8zM285.0 367.9h0.8v0.8h-0.8zM296.0 378.2h0.8v0.8h-0.8zM266.5 397.0h0.8v0.8h-0.8zM272.2 398.7h0.8v0.8h-0.8zM293.3 393.2h0.8v0.8h-0.8zM280.2 388.1h0.8v0.8h-0.8zM271.2 389.9h0.8v0.8h-0.8zM266.2 403.5h0.8v0.8h-0.8zM285.6 392.1h0.8v0.8h-0.8zM292.7 389.4h0.8v0.8h-0.8zM295.1 398.3h0.8v0.8h-0.8zM288.4 368.0h0.8v0.8h-0.8zM287.8 370.4h0.8v0.8h-0.8zM272.5 399.0h0.8v0.8h-0.8zM286.3 374.0h0.8v0.8h-0.8zM267.9 399.0h0.8v0.8h-0.8zM278.7 399.9h0.8v0.8h-0.8zM269.1 392.3h0.8v0.8h-0.8zM282.8 379.2h0.8v0.8h-0.8zM267.4 396.5h0.8v0.8h-0.8zM293.8 396.5h0.8v0.8h-0.8zM279.0 396.1h0.8v0.8h-0.8zM288.6 379.3h0.8v0.8h-0.8zM285.0 376.0h0.8v0.8h-0.8zM278.9 381.7h0.8v0.8h-0.8zM278.5 395.3h0.8v0.8h-0.8zM284.2 396.9h0.8v0.8h-0.8zM297.2 392.8h0.8v0.8h-0.8zM275.4 381.8h0.8v0.8h-0.8zM275.1 398.8h0.8v0.8h-0.8zM282.7 387.3h0.8v0.8h-0.8zM290.2 392.4h0.8v0.8h-0.8zM273.5 399.6h0.8v0.8h-0.8zM292.8 381.2h0.8v0.8h-0.8zM282.4 392.9h0.8v0.8h-0.8zM282.1 370.1h0.8v0.8h-0.8zM295.0 379.5h0.8v0.8h-0.8zM295.4 397.0h0.8v0.8h-0.8zM278.4 366.6h0.8v0.8h-0.8zM286.2 377.5h0.8v0.8h-0.8zM281.3 378.8h0.8v0.8h-0.8zM283.2 372.2h0.8v0.8h-0.8zM280.3 389.2h0.8v0.8h-0.8zM281.4 382.9h0.8v0.8h-0.8zM272.1 399.3h0.8v0.8h-0.8zM289.4 379.1h0.8v0.8h-0.8zM270.1 396.6h0.8v0.8h-0.8zM284.3 387.1h0.8v0.8h-0.8zM284.2 384.3h0.8v0.8h-0.8zM282.9 380.3h0.8v0.8h-0.8zM273.1 392.6h0.8v0.8h-0.8zM267.8 375.9h0.8v0.8h-0.8zM279.8 393.0h0.8v0.8h-0.8zM291.4 393.8h0.8v0.8h-0.8zM289.8 400.5h0.8v0.8h-0.8zM277.4 374.1h0.8v0.8h-0.8zM287.1 399.2h0.8v0.8h-0.8zM288.3 400.4h0.8v0.8h-0.8zM291.1 399.7h0.8v0.8h-0.8zM284.5 394.2h0.8v0.8h-0.8zM274.4 394.7h0.8v0.8h-0.8zM274.6 378.3h0.8v0.8h-0.8zM277.0 400.9h0.8v0.8h-0.8zM288.4 398.0h0.8v0.8h-0.8zM268.2 399.7h0.8v0.8h-0.8zM292.2 399.2h0.8v0.8h-0.8zM285.4 386.3h0.8v0.8h-0.8zM267.0 392.3h0.8v0.8h-0.8zM288.9 401.9h0.8v0.8h-0.8zM270.0 371.9h0.8v0.8h-0.8zM287.6 385.5h0.8v0.8h-0.8zM270.1 382.5h0.8v0.8h-0.8zM282.8 376.5h0.8v0.8h-0.8zM272.3 397.3h0.8v0.8h-0.8zM277.1 399.9h0.8v0.8h-0.8zM295.7 386.5h0.8v0.8h-0.8zM283.9 384.6h0.8v0.8h-0.8zM289.6 389.9h0.8v0.8h-0.8zM287.9 376.7h0.8v0.8h-0.8zM284.2 386.6h0.8v0.8h-0.8zM279.5 386.4h0.8v0.8h-0.8zM295.6 395.2h0.8v0.8h-0.8zM279.8 382.1h0.8v0.8h-0.8zM289.8 382.5h0.8v0.8h-0.8zM270.8 388.2h0.8v0.8h-0.8zM289.7 392.3h0.8v0.8h-0.8zM277.0 375.3h0.8v0.8h-0.8zM273.0 374.6h0.8v0.8h-0.8zM295.8 391.7h0.8v0.8h-0.8zM290.3 382.2h0.8v0.8h-0.8zM276.8 386.5h0.8v0.8h-0.8zM269.0 397.6h0.8v0.8h-0.8zM279.1 392.0h0.8v0.8h-0.8zM286.8 369.2h0.8v0.8h-0.8zM285.2 394.1h0.8v0.8h-0.8zM271.7 369.1h0.8v0.8h-0.8zM283.4 396.6h0.8v0.8h-0.8zM293.0 366.7h0.8v0.8h-0.8zM284.3 384.2h0.8v0.8h-0.8zM282.3 385.9h0.8v0.8h-0.8zM277.3 395.6h0.8v0.8h-0.8zM292.2 396.3h0.8v0.8h-0.8zM274.1 369.5h0.8v0.8h-0.8zM288.0 378.5h0.8v0.8h-0.8zM266.2 372.9h0.8v0.8h-0.8zM287.4 371.2h0.8v0.8h-0.8zM281.1 395.3h0.8v0.8h-0.8zM284.4 399.9h0.8v0.8h-0.8zM268.9 393.4h0.8v0.8h-0.8zM294.4 390.5h0.8v0.8h-0.8zM273.1 392.9h0.8v0.8h-0.8zM286.3 371.7h0.8v0.8h-0.8zM283.0 373.5h0.8v0.8h-0.8zM270.7 398.6h0.8v0.8h-0.8zM278.0 373.9h0.8v0.8h-0.8zM283.2 386.8h0.8v0.8h-0.8zM273.9 381.7h0.8v0.8h-0.8zM282.7 381.9h0.8v0.8h-0.8zM289.3 390.1h0.8v0.8h-0.8zM294.7 398.9h0.8v0.8h-0.8zM293.1 395.5h0.8v0.8h-0.8zM293.4 403.7h0.8v0.8h-0.8zM271.6 399.2h0.8v0.8h-0.8zM292.7 390.8h0.8v0.8h-0.8zM283.6 393.1h0.8v0.8h-0.8zM295.0 398.8h0.8v0.8h-0.8zM273.4 393.6h0.8v0.8h-0.8zM269.3 379.4h0.8v0.8h-0.8zM285.9 397.8h0.8v0.8h-0.8zM292.3 370.3h0.8v0.8h-0.8zM290.7 394.7h0.8v0.8h-0.8zM290.7 400.0h0.8v0.8h-0.8zM284.3 394.6h0.8v0.8h-0.8zM285.1 393.2h0.8v0.8h-0.8zM273.3 395.4h0.8v0.8h-0.8zM272.1 396.6h0.8v0.8h-0.8zM272.4 402.0h0.8v0.8h-0.8zM283.3 394.1h0.8v0.8h-0.8zM283.6 397.6h0.8v0.8h-0.8zM293.8 397.0h0.8v0.8h-0.8zM283.2 399.3h0.8v0.8h-0.8zM278.0 393.7h0.8v0.8h-0.8zM294.0 400.0h0.8v0.8h-0.8zM287.8 401.4h0.8v0.8h-0.8zM275.7 399.8h0.8v0.8h-0.8zM267.5 384.0h0.8v0.8h-0.8zM290.8 390.1h0.8v0.8h-0.8zM285.1 372.6h0.8v0.8h-0.8zM286.5 372.9h0.8v0.8h-0.8zM286.4 385.0h0.8v0.8h-0.8zM272.4 370.5h0.8v0.8h-0.8zM289.6 393.3h0.8v0.8h-0.8zM287.7 398.1h0.8v0.8h-0.8zM285.0 397.5h0.8v0.8h-0.8zM289.2 393.3h0.8v0.8h-0.8zM267.3 398.9h0.8v0.8h-0.8zM281.9 392.6h0.8v0.8h-0.8zM284.0 371.9h0.8v0.8h-0.8zM294.3 391.0h0.8v0.8h-0.8zM282.7 397.7h0.8v0.8h-0.8zM276.3 394.6h0.8v0.8h-0.8zM287.3 372.0h0.8v0.8h-0.8zM284.2 373.6h0.8v0.8h-0.8zM281.7 378.0h0.8v0.8h-0.8zM267.1 399.6h0.8v0.8h-0.8zM266.4 371.4h0.8v0.8h-0.8zM278.2 398.7h0.8v0.8h-0.8zM282.8 394.3h0.8v0.8h-0.8zM280.5 394.7h0.8v0.8h-0.8zM278.7 399.9h0.8v0.8h-0.8zM295.2 395.5h0.8v0.8h-0.8zM278.2 399.3h0.8v0.8h-0.8zM275.4 391.9h0.8v0.8h-0.8zM282.9 369.7h0.8v0.8h-0.8zM283.2 384.2h0.8v0.8h-0.8zM279.1 390.5h0.8v0.8h-0.8zM279.3 385.7h0.8v0.8h-0.8zM281.8 396.0h0.8v0.8h-0.8zM292.5 399.5h0.8v0.8h-0.8zM274.4 369.3h0.8v0.8h-0.8zM279.2 391.7h0.8v0.8h-0.8zM289.1 394.4h0.8v0.8h-0.8zM270.1 367.1h0.8v0.8h-0.8zM282.2 389.2h0.8v0.8h-0.8zM273.8 384.1h0.8v0.8h-0.8zM292.7 401.8h0.8v0.8h-0.8zM287.3 396.7h0.8v0.8h-0.8zM266.4 396.4h0.8v0.8h-0.8zM273.0 376.7h0.8v0.8h-0.8zM287.0 398.6h0.8v0.8h-0.8zM281.8 395.7h0.8v0.8h-0.8zM285.2 375.9h0.8v0.8h-0.8zM294.7 368.7h0.8v0.8h-0.8zM283.5 395.4h0.8v0.8h-0.8zM277.4 379.7h0.8v0.8h-0.8zM273.4 382.6h0.8v0.8h-0.8zM286.2 379.8h0.8v0.8h-0.8zM270.4 366.3h0.8v0.8h-0.8zM285.0 381.0h0.8v0.8h-0.8zM282.8 392.3h0.8v0.8h-0.8zM276.4 368.1h0.8v0.8h-0.8zM269.1 385.9h0.8v0.8h-0.8zM284.1 393.6h0.8v0.8h-0.8zM278.1 401.3h0.8v0.8h-0.8zM270.4 395.3h0.8v0.8h-0.8zM287.2 373.8h0.8v0.8h-0.8zM282.5 400.3h0.8v0.8h-0.8zM283.3 377.6h0.8v0.8h-0.8zM271.8 402.9h0.8v0.8h-0.8zM275.7 401.3h0.8v0.8h-0.8zM277.9 374.3h0.8v0.8h-0.8zM281.4 383.8h0.8v0.8h-0.8zM280.6 387.6h0.8v0.8h-0.8zM283.3 382.2h0.8v0.8h-0.8zM296.0 400.1h0.8v0.8h-0.8zM281.7 389.7h0.8v0.8h-0.8zM280.7 396.4h0.8v0.8h-0.8zM269.8 380.6h0.8v0.8h-0.8zM291.8 381.4h0.8v0.8h-0.8zM291.1 395.7h0.8v0.8h-0.8zM276.7 396.7h0.8v0.8h-0.8zM285.1 395.5h0.8v0.8h-0.8zM269.6 381.4h0.8v0.8h-0.8zM266.0 396.3h0.8v0.8h-0.8zM280.1 387.2h0.8v0.8h-0.8zM287.6 394.9h0.8v0.8h-0.8zM277.2 369.1h0.8v0.8h-0.8zM275.7 378.2h0.8v0.8h-0.8zM270.7 398.7h0.8v0.8h-0.8zM272.5 400.9h0.8v0.8h-0.8zM272.6 387.3h0.8v0.8h-0.8zM271.2 393.9h0.8v0.8h-0.8zM292.1 397.4h0.8v0.8h-0.8zM277.7 382.6h0.8v0.8h-0.8zM274.6 384.0h0.8v0.8h-0.8zM281.5 380.1h0.8v0.8h-0.8zM277.2 400.9h0.8v0.8h-0.8zM292.7 397.5h0.8v0.8h-0.8zM272.4 396.0h0.8v0.8h-0.8zM282.5 399.2h0.8v0.8h-0.8zM286.1 379.3h0.8v0.8h-0.8zM271.6 379.4h0.8v0.8h-0.8zM272.4 367.4h0.8v0.8h-0.8zM277.6 380.7h0.8v0.8h-0.8zM293.2 378.8h0.8v0.8h-0.8zM287.4 377.0h0.8v0.8h-0.8zM284.1 373.6h0.8v0.8h-0.8zM281.5 388.9h0.8v0.8h-0.8zM266.1 380.9h0.8v0.8h-0.8zM286.4 368.3h0.8v0.8h-0.8zM287.9 400.2h0.8v0.8h-0.8zM268.0 396.0h0.8v0.8h-0.8zM276.4 399.4h0.8v0.8h-0.8zM283.1 399.7h0.8v0.8h-0.8zM289.7 368.3h0.8v0.8h-0.8zM273.5 398.1h0.8v0.8h-0.8zM269.8 401.2h0.8v0.8h-0.8zM269.9 395.6h0.8v0.8h-0.8zM290.2 398.3h0.8v0.8h-0.8zM288.3 392.5h0.8v0.8h-0.8zM292.0 397.8h0.8v0.8h-0.8zM277.1 401.4h0.8v0.8h-0.8zM282.4 395.8h0.8v0.8h-0.8zM285.9 391.4h0.8v0.8h-0.8zM269.8 404.2h0.8v0.8h-0.8zM269.6 397.2h0.8v0.8h-0.8zM288.6 398.7h0.8v0.8h-0.8zM285.8 397.3h0.8v0.8h-0.8zM274.0 399.4h0.8v0.8h-0.8zM277.4 401.1h0.8v0.8h-0.8zM279.9 394.2h0.8v0.8h-0.8zM284.7 401.4h0.8v0.8h-0.8zM268.9 372.5h0.8v0.8h-0.8zM290.3 400.2h0.8v0.8h-0.8zM272.1 390.5h0.8v0.8h-0.8zM286.0 394.9h0.8v0.8h-0.8zM272.0 398.2h0.8v0.8h-0.8zM281.5 374.5h0.8v0.8h-0.8zM278.0 367.1h0.8v0.8h-0.8zM290.1 394.2h0.8v0.8h-0.8zM280.0 396.6h0.8v0.8h-0.8zM288.6 377.9h0.8v0.8h-0.8zM285.9 397.1h0.8v0.8h-0.8zM287.7 368.1h0.8v0.8h-0.8zM286.7 387.5h0.8v0.8h-0.8zM274.4 396.3h0.8v0.8h-0.8zM284.7 400.0h0.8v0.8h-0.8zM266.9 384.3h0.8v0.8h-0.8zM286.7 387.8h0.8v0.8h-0.8zM291.6 393.1h0.8v0.8h-0.8zM284.4 397.2h0.8v0.8h-0.8zM271.8 397.6h0.8v0.8h-0.8zM280.4 389.7h0.8v0.8h-0.8zM285.0 400.3h0.8v0.8h-0.8zM268.8 396.8h0.8v0.8h-0.8zM285.0 398.2h0.8v0.8h-0.8zM280.9 393.9h0.8v0.8h-0.8zM289.0 399.6h0.8v0.8h-0.8zM284.1 380.4h0.8v0.8h-0.8zM295.0 397.3h0.8v0.8h-0.8zM285.0 390.1h0.8v0.8h-0.8zM288.2 397.5h0.8v0.8h-0.8zM286.7 391.5h0.8v0.8h-0.8zM283.8 401.6h0.8v0.8h-0.8zM281.0 383.3h0.8v0.8h-0.8zM282.5 398.4h0.8v0.8h-0.8zM283.8 369.1h0.8v0.8h-0.8zM273.3 393.1h0.8v0.8h-0.8zM269.8 395.1h0.8v0.8h-0.8zM277.3 377.4h0.8v0.8h-0.8zM290.3 394.5h0.8v0.8h-0.8zM292.2 386.6h0.8v0.8h-0.8zM283.1 392.2h0.8v0.8h-0.8zM283.6 392.0h0.8v0.8h-0.8zM272.3 397.6h0.8v0.8h-0.8zM266.6 402.0h0.8v0.8h-0.8zM271.6 396.6h0.8v0.8h-0.8zM282.6 398.3h0.8v0.8h-0.8zM268.6 398.8h0.8v0.8h-0.8zM293.8 401.7h0.8v0.8h-0.8zM293.0 398.2h0.8v0.8h-0.8zM281.6 377.0h0.8v0.8h-0.8zM294.7 381.7h0.8v0.8h-0.8zM294.8 396.8h0.8v0.8h-0.8zM281.6 398.0h0.8v0.8h-0.8zM286.8 368.0h0.8v0.8h-0.8zM284.5 395.8h0.8v0.8h-0.8zM272.3 371.0h0.8v0.8h-0.8zM292.3 368.8h0.8v0.8h-0.8zM288.5 396.7h0.8v0.8h-0.8zM283.9 369.3h0.8v0.8h-0.8zM277.3 400.7h0.8v0.8h-0.8zM279.8 394.4h0.8v0.8h-0.8zM293.7 392.9h0.8v0.8h-0.8zM289.7 395.2h0.8v0.8h-0.8zM289.3 397.1h0.8v0.8h-0.8zM285.4 394.9h0.8v0.8h-0.8zM285.0 393.9h0.8v0.8h-0.8zM268.1 382.0h0.8v0.8h-0.8zM287.3 381.7h0.8v0.8h-0.8zM274.0 398.2h0.8v0.8h-0.8zM288.3 369.2h0.8v0.8h-0.8zM284.2 403.7h0.8v0.8h-0.8zM279.9 376.3h0.8v0.8h-0.8zM273.7 374.7h0.8v0.8h-0.8zM275.6 390.8h0.8v0.8h-0.8zM281.0 395.6h0.8v0.8h-0.8zM294.1 395.9h0.8v0.8h-0.8zM273.2 398.0h0.8v0.8h-0.8zM276.3 393.0h0.8v0.8h-0.8zM269.9 400.5h0.8v0.8h-0.8zM281.2 398.1h0.8v0.8h-0.8zM271.1 398.0h0.8v0.8h-0.8zM286.8 395.5h0.8v0.8h-0.8zM287.0 393.2h0.8v0.8h-0.8zM271.0 401.6h0.8v0.8h-0.8zM292.0 396.7h0.8v0.8h-0.8zM295.2 366.6h0.8v0.8h-0.8zM283.6 383.1h0.8v0.8h-0.8zM275.6 366.6h0.8v0.8h-0.8zM285.4 375.8h0.8v0.8h-0.8zM277.8 393.7h0.8v0.8h-0.8zM292.0 366.1h0.8v0.8h-0.8zM267.2 395.1h0.8v0.8h-0.8zM289.1 397.1h0.8v0.8h-0.8zM281.1 399.0h0.8v0.8h-0.8zM283.9 380.9h0.8v0.8h-0.8zM281.9 392.5h0.8v0.8h-0.8zM283.8 400.2h0.8v0.8h-0.8zM278.9 399.0h0.8v0.8h-0.8zM279.8 375.1h0.8v0.8h-0.8zM266.4 371.8h0.8v0.8h-0.8zM278.1 397.9h0.8v0.8h-0.8zM273.1 389.5h0.8v0.8h-0.8zM276.1 383.1h0.8v0.8h-0.8zM278.5 366.6h0.8v0.8h-0.8zM275.6 400.7h0.8v0.8h-0.8zM267.0 399.2h0.8v0.8h-0.8zM273.7 392.3h0.8v0.8h-0.8zM287.8 394.4h0.8v0.8h-0.8zM293.2 385.0h0.8v0.8h-0.8zM275.6 386.1h0.8v0.8h-0.8zM267.8 383.0h0.8v0.8h-0.8zM270.7 393.4h0.8v0.8h-0.8zM290.5 397.4h0.8v0.8h-0.8zM270.6 367.7h0.8v0.8h-0.8zM271.4 392.6h0.8v0.8h-0.8zM281.8 383.1h0.8v0.8h-0.8zM294.3 397.6h0.8v0.8h-0.8zM272.7 403.0h0.8v0.8h-0.8zM268.7 391.6h0.8v0.8h-0.8zM283.4 379.1h0.8v0.8h-0.8zM284.4 378.0h0.8v0.8h-0.8zM277.8 395.2h0.8v0.8h-0.8zM274.9 391.1h0.8v0.8h-0.8zM285.8 397.7h0.8v0.8h-0.8zM288.1 392.2h0.8v0.8h-0.8zM272.6 399.2h0.8v0.8h-0.8zM287.7 395.2h0.8v0.8h-0.8zM287.0 398.2h0.8v0.8h-0.8zM289.1 384.0h0.8v0.8h-0.8zM291.8 397.0h0.8v0.8h-0.8zM276.2 394.7h0.8v0.8h-0.8zM273.9 393.0h0.8v0.8h-0.8zM277.1 372.7h0.8v0.8h-0.8zM295.3 373.1h0.8v0.8h-0.8zM288.4 391.6h0.8v0.8h-0.8zM293.7 390.3h0.8v0.8h-0.8zM287.5 386.9h0.8v0.8h-0.8zM283.4 375.4h0.8v0.8h-0.8zM287.8 393.5h0.8v0.8h-0.8zM278.8 379.4h0.8v0.8h-0.8zM288.1 378.5h0.8v0.8h-0.8zM294.1 400.0h0.8v0.8h-0.8zM287.5 373.5h0.8v0.8h-0.8zM294.5 392.3h0.8v0.8h-0.8zM268.8 400.6h0.8v0.8h-0.8zM267.6 397.4h0.8v0.8h-0.8zM286.6 372.2h0.8v0.8h-0.8zM273.8 366.1h0.8v0.8h-0.8zM281.0 382.4h0.8v0.8h-0.8zM283.3 395.0h0.8v0.8h-0.8zM287.1 368.7h0.8v0.8h-0.8zM282.0 391.6h0.8v0.8h-0.8zM281.0 384.9h0.8v0.8h-0.8zM288.2 369.1h0.8v0.8h-0.8zM282.1 377.4h0.8v0.8h-0.8zM280.3 394.4h0.8v0.8h-0.8zM282.3 372.4h0.8v0.8h-0.8zM284.1 368.9h0.8v0.8h-0.8zM285.2 384.5h0.8v0.8h-0.8zM284.4 377.1h0.8v0.8h-0.8zM276.0 388.4h0.8v0.8h-0.8zM285.2 369.3h0.8v0.8h-0.8zM291.7 398.2h0.8v0.8h-0.8zM280.9 370.9h0.8v0.8h-0.8zM274.9 397.4h0.8v0.8h-0.8zM278.8 399.2h0.8v0.8h-0.8zM284.4 395.9h0.8v0.8h-0.8zM292.7 367.1h0.8v0.8h-0.8zM267.7 396.8h0.8v0.8h-0.8zM268.8 395.8h0.8v0.8h-0.8zM282.2 382.2h0.8v0.8h-0.8zM284.5 375.1h0.8v0.8h-0.8zM276.8 394.5h0.8v0.8h-0.8zM281.3 393.6h0.8v0.8h-0.8zM274.2 390.2h0.8v0.8h-0.8zM266.9 374.8h0.8v0.8h-0.8zM273.7 384.9h0.8v0.8h-0.8zM285.8 380.1h0.8v0.8h-0.8zM267.6 400.2h0.8v0.8h-0.8zM289.2 397.6h0.8v0.8h-0.8zM272.4 397.8h0.8v0.8h-0.8zM287.1 396.9h0.8v0.8h-0.8zM267.9 394.8h0.8v0.8h-0.8zM285.1 398.9h0.8v0.8h-0.8zM293.5 373.2h0.8v0.8h-0.8zM290.5 380.4h0.8v0.8h-0.8zM282.7 387.7h0.8v0.8h-0.8zM294.2 369.7h0.8v0.8h-0.8zM287.0 367.6h0.8v0.8h-0.8zM282.5 375.2h0.8v0.8h-0.8zM269.7 397.3h0.8v0.8h-0.8zM281.9 403.8h0.8v0.8h-0.8zM271.8 392.6h0.8v0.8h-0.8zM281.6 371.4h0.8v0.8h-0.8zM284.8 401.8h0.8v0.8h-0.8zM290.3 398.2h0.8v0.8h-0.8zM290.5 375.0h0.8v0.8h-0.8zM271.4 396.7h0.8v0.8h-0.8zM283.4 395.1h0.8v0.8h-0.8zM285.7 388.8h0.8v0.8h-0.8zM286.3 397.2h0.8v0.8h-0.8zM274.3 394.7h0.8v0.8h-0.8zM292.7 367.3h0.8v0.8h-0.8zM291.2 383.6h0.8v0.8h-0.8zM279.1 374.4h0.8v0.8h-0.8zM283.3 390.5h0.8v0.8h-0.8zM271.3 370.0h0.8v0.8h-0.8zM284.8 395.5h0.8v0.8h-0.8zM275.4 398.8h0.8v0.8h-0.8zM280.2 394.9h0.8v0.8h-0.8zM296.0 367.1h0.8v0.8h-0.8zM291.1 387.5h0.8v0.8h-0.8zM283.4 395.3h0.8v0.8h-0.8zM273.1 394.8h0.8v0.8h-0.8zM284.1 375.3h0.8v0.8h-0.8zM283.1 396.2h0.8v0.8h-0.8zM285.4 376.5h0.8v0.8h-0.8zM279.1 384.1h0.8v0.8h-0.8zM285.0 392.4h0.8v0.8h-0.8zM275.3 369.5h0.8v0.8h-0.8zM267.9 394.9h0.8v0.8h-0.8zM279.0 372.0h0.8v0.8h-0.8zM280.4 373.7h0.8v0.8h-0.8zM286.5 399.1h0.8v0.8h-0.8zM288.1 384.7h0.8v0.8h-0.8zM274.3 400.8h0.8v0.8h-0.8zM289.0 387.8h0.8v0.8h-0.8zM292.2 388.2h0.8v0.8h-0.8zM279.2 382.7h0.8v0.8h-0.8zM271.9 396.2h0.8v0.8h-0.8zM266.0 370.4h0.8v0.8h-0.8zM284.9 400.4h0.8v0.8h-0.8zM279.5 394.1h0.8v0.8h-0.8zM287.5 374.6h0.8v0.8h-0.8zM278.0 386.5h0.8v0.8h-0.8zM267.7 398.8h0.8v0.8h-0.8zM283.5 367.5h0.8v0.8h-0.8zM289.4 370.3h0.8v0.8h-0.8zM283.5 376.3h0.8v0.8h-0.8zM281.0 397.0h0.8v0.8h-0.8zM267.4 373.0h0.8v0.8h-0.8zM277.5 397.0h0.8v0.8h-0.8zM272.7 397.4h0.8v0.8h-0.8zM281.5 368.7h0.8v0.8h-0.8zM292.8 379.0h0.8v0.8h-0.8zM287.5 399.8h0.8v0.8h-0.8zM278.7 374.8h0.8v0.8h-0.8zM284.4 397.5h0.8v0.8h-0.8zM271.3 376.9h0.8v0.8h-0.8zM287.2 388.4h0.8v0.8h-0.8zM286.2 370.6h0.8v0.8h-0.8zM279.4 390.5h0.8v0.8h-0.8zM286.9 399.0h0.8v0.8h-0.8zM266.1 394.9h0.8v0.8h-0.8zM281.8 398.8h0.8v0.8h-0.8zM284.1 370.6h0.8v0.8h-0.8zM272.4 394.7h0.8v0.8h-0.8zM293.2 394.2h0.8v0.8h-0.8zM282.3 399.1h0.8v0.8h-0.8zM286.5 372.6h0.8v0.8h-0.8zM267.3 393.3h0.8v0.8h-0.8zM272.4 395.9h0.8v0.8h-0.8zM285.1 381.0h0.8v0.8h-0.8zM271.9 399.7h0.8v0.8h-0.8zM267.2 367.1h0.8v0.8h-0.8zM281.0 395.5h0.8v0.8h-0.8zM295.7 396.2h0.8v0.8h-0.8zM274.2 398.2h0.8v0.8h-0.8zM269.5 394.2h0.8v0.8h-0.8zM283.7 383.6h0.8v0.8h-0.8zM266.8 396.5h0.8v0.8h-0.8zM288.1 397.0h0.8v0.8h-0.8zM295.1 399.1h0.8v0.8h-0.8zM289.0 367.4h0.8v0.8h-0.8zM275.9 401.0h0.8v0.8h-0.8zM276.8 392.9h0.8v0.8h-0.8zM276.5 381.6h0.8v0.8h-0.8zM280.0 377.9h0.8v0.8h-0.8z" fill="#4a4cb0" fill-opacity="0.4"/>
<path d="M268 372 L282 364 L292 368 L290 386 L296 396 L296 402 L266 402 L266 380 Z" fill="#5a5cc0" fill-opacity="0.45" filter="url(#bl2)"/>
<ellipse cx="285.5" cy="379.0" rx="4.5" ry="12" fill="#2c4fbf" fill-opacity="0.9" filter="url(#bl15)" transform="rotate(-8 285.5 379)"/>
<ellipse cx="286.0" cy="380.0" rx="2.2" ry="8" fill="#1fa8df" fill-opacity="0.6" filter="url(#bl1)" transform="rotate(-8 286 380)"/>
<ellipse cx="280.5" cy="369.3" rx="7.8" ry="5.6" fill="#2c4fbf" fill-opacity="1" filter="url(#bl1)"/>
<ellipse cx="280.5" cy="369.3" rx="6.0" ry="4.3" fill="#1fa8df" fill-opacity="1" filter="url(#bl05)"/>
<ellipse cx="280.5" cy="369.2" rx="4.4" ry="3.2" fill="#1fae4c" fill-opacity="1" filter="url(#bl05)"/>
<ellipse cx="280.4" cy="369.1" rx="3.0" ry="2.3" fill="#ebe224" fill-opacity="1" filter="url(#bl05)"/>
<ellipse cx="280.3" cy="369.1" rx="1.7" ry="1.3" fill="#e43a25" fill-opacity="1" filter="url(#bl05)"/>
<ellipse cx="279.0" cy="395.5" rx="15" ry="7" fill="#2c4fbf" fill-opacity="0.8" filter="url(#bl15)"/>
<ellipse cx="280.0" cy="397.5" rx="14" ry="4.5" fill="#2c4fbf" fill-opacity="1" filter="url(#bl1)"/>
<ellipse cx="278.0" cy="397.5" rx="8" ry="3.0" fill="#1fa8df" fill-opacity="0.8" filter="url(#bl05)"/>
<ellipse cx="274.8" cy="397.3" rx="4.6" ry="2.8" fill="#1fae4c" fill-opacity="1" filter="url(#bl05)"/>
<ellipse cx="274.8" cy="397.3" rx="2.6" ry="1.7" fill="#ebe224" fill-opacity="1" filter="url(#bl05)"/>
<ellipse cx="291.3" cy="398.0" rx="3.2" ry="2.2" fill="#1fae4c" fill-opacity="1" filter="url(#bl05)"/>
<ellipse cx="291.3" cy="398.0" rx="1.5" ry="1.1" fill="#ebe224" fill-opacity="1" filter="url(#bl05)"/>
</g>
<path d="M265.6 356.9 V387 H298.9 V356.9" fill="none" stroke="#8a8a8a" stroke-width="0.8"/>
<text x="266.6" y="364.5" font-size="7.4" fill="#231f20" textLength="18.8" lengthAdjust="spacingAndGlyphs">43.1%</text>
<line x1="245.6" y1="362.5" x2="249.0" y2="362.5" stroke="#231f20" stroke-width="0.9"/>
<text x="239.0" y="364.8" font-size="6.4" fill="#2a2a2a" text-anchor="end" textLength="5.4" lengthAdjust="spacingAndGlyphs">10</text>
<text x="239.4" y="361.9" font-size="4.0" fill="#2a2a2a">5</text>
<line x1="245.6" y1="376.7" x2="249.0" y2="376.7" stroke="#231f20" stroke-width="0.9"/>
<text x="239.0" y="379.0" font-size="6.4" fill="#2a2a2a" text-anchor="end" textLength="5.4" lengthAdjust="spacingAndGlyphs">10</text>
<text x="239.4" y="376.09999999999997" font-size="4.0" fill="#2a2a2a">4</text>
<line x1="245.6" y1="393.2" x2="249.0" y2="393.2" stroke="#231f20" stroke-width="0.9"/>
<text x="239.0" y="395.5" font-size="6.4" fill="#2a2a2a" text-anchor="end" textLength="5.4" lengthAdjust="spacingAndGlyphs">10</text>
<text x="239.4" y="392.59999999999997" font-size="4.0" fill="#2a2a2a">3</text>
<line x1="245.6" y1="402.6" x2="249.0" y2="402.6" stroke="#231f20" stroke-width="0.9"/>
<text x="239.6" y="404.70000000000005" font-size="6.0" fill="#2a2a2a" text-anchor="end">0</text>
<line x1="245.6" y1="412.8" x2="249.0" y2="412.8" stroke="#231f20" stroke-width="0.9"/>
<text x="239.0" y="415.1" font-size="6.4" fill="#2a2a2a" text-anchor="end" textLength="8.0" lengthAdjust="spacingAndGlyphs">-10</text>
<text x="239.4" y="412.2" font-size="4.0" fill="#2a2a2a">3</text>
<line x1="247.4" y1="358.9" x2="249.0" y2="358.9" stroke="#231f20" stroke-width="0.55"/>
<line x1="247.4" y1="360.9" x2="249.0" y2="360.9" stroke="#231f20" stroke-width="0.55"/>
<line x1="247.4" y1="362.9" x2="249.0" y2="362.9" stroke="#231f20" stroke-width="0.55"/>
<line x1="247.4" y1="364.9" x2="249.0" y2="364.9" stroke="#231f20" stroke-width="0.55"/>
<line x1="247.4" y1="366.9" x2="249.0" y2="366.9" stroke="#231f20" stroke-width="0.55"/>
<line x1="247.4" y1="368.9" x2="249.0" y2="368.9" stroke="#231f20" stroke-width="0.55"/>
<line x1="247.4" y1="370.9" x2="249.0" y2="370.9" stroke="#231f20" stroke-width="0.55"/>
<line x1="247.4" y1="372.9" x2="249.0" y2="372.9" stroke="#231f20" stroke-width="0.55"/>
<line x1="247.4" y1="374.9" x2="249.0" y2="374.9" stroke="#231f20" stroke-width="0.55"/>
<line x1="247.4" y1="376.9" x2="249.0" y2="376.9" stroke="#231f20" stroke-width="0.55"/>
<line x1="247.4" y1="378.9" x2="249.0" y2="378.9" stroke="#231f20" stroke-width="0.55"/>
<line x1="247.4" y1="380.9" x2="249.0" y2="380.9" stroke="#231f20" stroke-width="0.55"/>
<line x1="247.4" y1="382.9" x2="249.0" y2="382.9" stroke="#231f20" stroke-width="0.55"/>
<line x1="247.4" y1="384.9" x2="249.0" y2="384.9" stroke="#231f20" stroke-width="0.55"/>
<line x1="247.4" y1="386.9" x2="249.0" y2="386.9" stroke="#231f20" stroke-width="0.55"/>
<line x1="247.4" y1="388.9" x2="249.0" y2="388.9" stroke="#231f20" stroke-width="0.55"/>
<line x1="247.4" y1="390.9" x2="249.0" y2="390.9" stroke="#231f20" stroke-width="0.55"/>
<line x1="247.4" y1="392.9" x2="249.0" y2="392.9" stroke="#231f20" stroke-width="0.55"/>
<line x1="247.4" y1="394.9" x2="249.0" y2="394.9" stroke="#231f20" stroke-width="0.55"/>
<line x1="247.4" y1="396.9" x2="249.0" y2="396.9" stroke="#231f20" stroke-width="0.55"/>
<line x1="247.4" y1="398.9" x2="249.0" y2="398.9" stroke="#231f20" stroke-width="0.55"/>
<line x1="247.4" y1="400.9" x2="249.0" y2="400.9" stroke="#231f20" stroke-width="0.55"/>
<line x1="247.4" y1="402.9" x2="249.0" y2="402.9" stroke="#231f20" stroke-width="0.55"/>
<line x1="247.4" y1="404.9" x2="249.0" y2="404.9" stroke="#231f20" stroke-width="0.55"/>
<line x1="247.4" y1="406.9" x2="249.0" y2="406.9" stroke="#231f20" stroke-width="0.55"/>
<line x1="247.4" y1="408.9" x2="249.0" y2="408.9" stroke="#231f20" stroke-width="0.55"/>
<line x1="247.4" y1="410.9" x2="249.0" y2="410.9" stroke="#231f20" stroke-width="0.55"/>
<line x1="247.4" y1="412.9" x2="249.0" y2="412.9" stroke="#231f20" stroke-width="0.55"/>
<line x1="247.4" y1="414.9" x2="249.0" y2="414.9" stroke="#231f20" stroke-width="0.55"/>
<line x1="257.5" y1="416.7" x2="257.5" y2="419.7" stroke="#231f20" stroke-width="0.9"/>
<text x="257.5" y="428.3" font-size="6.0" fill="#2a2a2a" text-anchor="middle">0</text>
<line x1="273.5" y1="416.7" x2="273.5" y2="419.7" stroke="#231f20" stroke-width="0.9"/>
<text x="269.9" y="428.3" font-size="6.0" fill="#2a2a2a" textLength="5.5" lengthAdjust="spacingAndGlyphs">10</text>
<text x="275.8" y="425.5" font-size="3.8" fill="#2a2a2a">3</text>
<line x1="289.1" y1="416.7" x2="289.1" y2="419.7" stroke="#231f20" stroke-width="0.9"/>
<text x="285.5" y="428.3" font-size="6.0" fill="#2a2a2a" textLength="5.5" lengthAdjust="spacingAndGlyphs">10</text>
<text x="291.40000000000003" y="425.5" font-size="3.8" fill="#2a2a2a">4</text>
<line x1="302.2" y1="416.7" x2="302.2" y2="419.7" stroke="#231f20" stroke-width="0.9"/>
<text x="298.59999999999997" y="428.3" font-size="6.0" fill="#2a2a2a" textLength="5.5" lengthAdjust="spacingAndGlyphs">10</text>
<text x="304.5" y="425.5" font-size="3.8" fill="#2a2a2a">5</text>
<line x1="251.0" y1="416.7" x2="251.0" y2="418.3" stroke="#231f20" stroke-width="0.55"/>
<line x1="253.0" y1="416.7" x2="253.0" y2="418.3" stroke="#231f20" stroke-width="0.55"/>
<line x1="255.0" y1="416.7" x2="255.0" y2="418.3" stroke="#231f20" stroke-width="0.55"/>
<line x1="257.0" y1="416.7" x2="257.0" y2="418.3" stroke="#231f20" stroke-width="0.55"/>
<line x1="259.0" y1="416.7" x2="259.0" y2="418.3" stroke="#231f20" stroke-width="0.55"/>
<line x1="261.0" y1="416.7" x2="261.0" y2="418.3" stroke="#231f20" stroke-width="0.55"/>
<line x1="263.0" y1="416.7" x2="263.0" y2="418.3" stroke="#231f20" stroke-width="0.55"/>
<line x1="265.0" y1="416.7" x2="265.0" y2="418.3" stroke="#231f20" stroke-width="0.55"/>
<line x1="267.0" y1="416.7" x2="267.0" y2="418.3" stroke="#231f20" stroke-width="0.55"/>
<line x1="269.0" y1="416.7" x2="269.0" y2="418.3" stroke="#231f20" stroke-width="0.55"/>
<line x1="271.0" y1="416.7" x2="271.0" y2="418.3" stroke="#231f20" stroke-width="0.55"/>
<line x1="273.0" y1="416.7" x2="273.0" y2="418.3" stroke="#231f20" stroke-width="0.55"/>
<line x1="275.0" y1="416.7" x2="275.0" y2="418.3" stroke="#231f20" stroke-width="0.55"/>
<line x1="277.0" y1="416.7" x2="277.0" y2="418.3" stroke="#231f20" stroke-width="0.55"/>
<line x1="279.0" y1="416.7" x2="279.0" y2="418.3" stroke="#231f20" stroke-width="0.55"/>
<line x1="281.0" y1="416.7" x2="281.0" y2="418.3" stroke="#231f20" stroke-width="0.55"/>
<line x1="283.0" y1="416.7" x2="283.0" y2="418.3" stroke="#231f20" stroke-width="0.55"/>
<line x1="285.0" y1="416.7" x2="285.0" y2="418.3" stroke="#231f20" stroke-width="0.55"/>
<line x1="287.0" y1="416.7" x2="287.0" y2="418.3" stroke="#231f20" stroke-width="0.55"/>
<line x1="289.0" y1="416.7" x2="289.0" y2="418.3" stroke="#231f20" stroke-width="0.55"/>
<line x1="291.0" y1="416.7" x2="291.0" y2="418.3" stroke="#231f20" stroke-width="0.55"/>
<line x1="293.0" y1="416.7" x2="293.0" y2="418.3" stroke="#231f20" stroke-width="0.55"/>
<line x1="295.0" y1="416.7" x2="295.0" y2="418.3" stroke="#231f20" stroke-width="0.55"/>
<line x1="297.0" y1="416.7" x2="297.0" y2="418.3" stroke="#231f20" stroke-width="0.55"/>
<line x1="299.0" y1="416.7" x2="299.0" y2="418.3" stroke="#231f20" stroke-width="0.55"/>
<line x1="301.0" y1="416.7" x2="301.0" y2="418.3" stroke="#231f20" stroke-width="0.55"/>
<line x1="303.0" y1="416.7" x2="303.0" y2="418.3" stroke="#231f20" stroke-width="0.55"/>
<line x1="305.0" y1="416.7" x2="305.0" y2="418.3" stroke="#231f20" stroke-width="0.55"/>
<line x1="307.0" y1="416.7" x2="307.0" y2="418.3" stroke="#231f20" stroke-width="0.55"/>
<rect x="249.0" y="356.9" width="59.8" height="59.8" fill="none" stroke="#231f20" stroke-width="1.3"/>
<text x="282.2" y="441.0" font-size="9.7" fill="#231f20" text-anchor="middle" textLength="17.4" lengthAdjust="spacingAndGlyphs">CD8</text>
<text x="254.0" y="350.8" font-size="7.0" fill="#231f20" textLength="46.6" lengthAdjust="spacingAndGlyphs">CMV peptides</text>
<g transform="translate(225.8,394.4) rotate(-90)"><text x="0" y="0" font-size="9.9" fill="#231f20" textLength="12.9" lengthAdjust="spacingAndGlyphs">IFN</text><text x="13.0" y="1.8" font-size="6.4" fill="#231f20">γ</text></g>
<text x="319.4" y="232.7" font-size="11.6" fill="#231f20">D</text>
<line x1="355.4" y1="246.5" x2="355.4" y2="348" stroke="#555" stroke-width="0.9" stroke-dasharray="0.9 3.2"/>
<line x1="362.4" y1="246.5" x2="362.4" y2="348" stroke="#555" stroke-width="0.9" stroke-dasharray="0.9 3.2"/>
<line x1="369.8" y1="246.5" x2="369.8" y2="348" stroke="#555" stroke-width="0.9" stroke-dasharray="0.9 3.2"/>
<line x1="378.3" y1="246.5" x2="378.3" y2="348" stroke="#555" stroke-width="0.9" stroke-dasharray="0.9 3.2"/>
<line x1="385.7" y1="246.5" x2="385.7" y2="348" stroke="#555" stroke-width="0.9" stroke-dasharray="0.9 3.2"/>
<line x1="393.5" y1="246.5" x2="393.5" y2="348" stroke="#555" stroke-width="0.9" stroke-dasharray="0.9 3.2"/>
<line x1="409.4" y1="246.5" x2="409.4" y2="348" stroke="#555" stroke-width="0.9" stroke-dasharray="0.9 3.2"/>
<line x1="417.8" y1="246.5" x2="417.8" y2="348" stroke="#555" stroke-width="0.9" stroke-dasharray="0.9 3.2"/>
<line x1="425.2" y1="246.5" x2="425.2" y2="348" stroke="#555" stroke-width="0.9" stroke-dasharray="0.9 3.2"/>
<line x1="433.7" y1="246.5" x2="433.7" y2="348" stroke="#555" stroke-width="0.9" stroke-dasharray="0.9 3.2"/>
<line x1="441.5" y1="246.5" x2="441.5" y2="348" stroke="#555" stroke-width="0.9" stroke-dasharray="0.9 3.2"/>
<line x1="449.1" y1="246.5" x2="449.1" y2="348" stroke="#555" stroke-width="0.9" stroke-dasharray="0.9 3.2"/>
<path d="M350.8 243.6 H510.3 V350.0 H350.8" fill="none" stroke="#231f20" stroke-width="1.1"/>
<line x1="350.8" y1="243.1" x2="350.8" y2="292.8" stroke="#231f20" stroke-width="1.1"/>
<line x1="350.8" y1="300.8" x2="350.8" y2="350.5" stroke="#231f20" stroke-width="1.1"/>
<line x1="348.40000000000003" y1="292.8" x2="354.0" y2="292.8" stroke="#231f20" stroke-width="1.0"/>
<line x1="348.40000000000003" y1="300.8" x2="354.0" y2="300.8" stroke="#231f20" stroke-width="1.0"/>
<path d="M351.2 242.4 V239.6 H398.4 V242.4" fill="none" stroke="#231f20" stroke-width="0.75"/>
<path d="M404.3 242.4 V239.6 H451.5 V242.4" fill="none" stroke="#231f20" stroke-width="0.75"/>
<text x="362.9" y="237.2" font-size="8.8" fill="#231f20" textLength="22.6" lengthAdjust="spacingAndGlyphs">cycle 1</text>
<text x="415.0" y="237.2" font-size="8.8" fill="#231f20" textLength="22.5" lengthAdjust="spacingAndGlyphs">cycle 2</text>
<line x1="348.2" y1="243.6" x2="350.8" y2="243.6" stroke="#231f20" stroke-width="0.9"/>
<text x="345.2" y="246.2" font-size="7.4" fill="#231f20" text-anchor="end">4</text>
<line x1="348.2" y1="256.5" x2="350.8" y2="256.5" stroke="#231f20" stroke-width="0.9"/>
<text x="345.2" y="259.1" font-size="7.4" fill="#231f20" text-anchor="end">3</text>
<line x1="348.2" y1="269.5" x2="350.8" y2="269.5" stroke="#231f20" stroke-width="0.9"/>
<text x="345.2" y="272.1" font-size="7.4" fill="#231f20" text-anchor="end">2</text>
<line x1="348.2" y1="282.3" x2="350.8" y2="282.3" stroke="#231f20" stroke-width="0.9"/>
<text x="345.2" y="284.90000000000003" font-size="7.4" fill="#231f20" text-anchor="end">1</text>
<line x1="348.2" y1="300.8" x2="350.8" y2="300.8" stroke="#231f20" stroke-width="0.9"/>
<text x="343.4" y="303.40000000000003" font-size="7.4" fill="#231f20" text-anchor="end" textLength="10.2" lengthAdjust="spacingAndGlyphs">0.2</text>
<line x1="348.2" y1="325.2" x2="350.8" y2="325.2" stroke="#231f20" stroke-width="0.9"/>
<text x="343.4" y="327.8" font-size="7.4" fill="#231f20" text-anchor="end" textLength="10.2" lengthAdjust="spacingAndGlyphs">0.1</text>
<line x1="348.2" y1="349.6" x2="350.8" y2="349.6" stroke="#231f20" stroke-width="0.9"/>
<text x="343.4" y="352.20000000000005" font-size="7.4" fill="#231f20" text-anchor="end" textLength="10.2" lengthAdjust="spacingAndGlyphs">0.0</text>
<line x1="355.2" y1="350.0" x2="355.2" y2="352.6" stroke="#231f20" stroke-width="0.9"/>
<text transform="translate(357.4,362.2) rotate(-45)" font-size="8.2" text-anchor="end" fill="#231f20" textLength="43.0" lengthAdjust="spacingAndGlyphs">22-Mar-2018</text>
<line x1="393.98" y1="350.0" x2="393.98" y2="352.6" stroke="#231f20" stroke-width="0.9"/>
<text transform="translate(396.18,362.2) rotate(-45)" font-size="8.2" text-anchor="end" fill="#231f20" textLength="41.5" lengthAdjust="spacingAndGlyphs">26-Apr-2018</text>
<line x1="432.76" y1="350.0" x2="432.76" y2="352.6" stroke="#231f20" stroke-width="0.9"/>
<text transform="translate(434.96,362.2) rotate(-45)" font-size="8.2" text-anchor="end" fill="#231f20" textLength="44.0" lengthAdjust="spacingAndGlyphs">31-May-2018</text>
<line x1="471.53999999999996" y1="350.0" x2="471.53999999999996" y2="352.6" stroke="#231f20" stroke-width="0.9"/>
<text transform="translate(473.73999999999995,362.2) rotate(-45)" font-size="8.2" text-anchor="end" fill="#231f20" textLength="35.0" lengthAdjust="spacingAndGlyphs">5-Jul-2018</text>
<line x1="510.32" y1="350.0" x2="510.32" y2="352.6" stroke="#231f20" stroke-width="0.9"/>
<text transform="translate(512.52,362.2) rotate(-45)" font-size="8.2" text-anchor="end" fill="#231f20" textLength="38.5" lengthAdjust="spacingAndGlyphs">9-Aug-2018</text>
<text transform="translate(327.8,294.5) rotate(-90)" font-size="8.6" text-anchor="middle" fill="#231f20">IFN<tspan font-size="5.6" dy="1.6">γ</tspan><tspan dy="-1.6"> (IU/mL)</tspan></text>
<path d="M355.4 348.0 L377.6 338.7 L401.5 333.9 L425.9 332.0 L461.6 336.4 L488.3 315.0" fill="none" stroke="#a62a3c" stroke-width="1.3"/>
<circle cx="355.4" cy="348.0" r="2.1" fill="#a62a3c"/>
<circle cx="377.6" cy="338.7" r="2.1" fill="#a62a3c"/>
<circle cx="401.5" cy="333.9" r="2.1" fill="#a62a3c"/>
<circle cx="425.9" cy="332.0" r="2.1" fill="#a62a3c"/>
<circle cx="461.6" cy="336.4" r="2.1" fill="#a62a3c"/>
<circle cx="488.3" cy="315.0" r="2.1" fill="#a62a3c"/>
<path d="M355.0 315.6 L366.7 301.4" fill="none" stroke="#3b5b8e" stroke-width="1.3"/>
<path d="M372.9 293.0 L377.1 287.7 L382.5 293.0" fill="none" stroke="#3b5b8e" stroke-width="1.3"/>
<path d="M390.2 300.8 L401.7 311.2 L414.2 300.8" fill="none" stroke="#3b5b8e" stroke-width="1.3"/>
<path d="M426.0 290.9 L461.9 256.5 L488.2 268.9" fill="none" stroke="#3b5b8e" stroke-width="1.3"/>
<rect x="353.0" y="313.6" width="4" height="4" fill="#3b5b8e"/>
<rect x="375.1" y="285.7" width="4" height="4" fill="#3b5b8e"/>
<rect x="399.7" y="309.2" width="4" height="4" fill="#3b5b8e"/>
<rect x="424.0" y="288.9" width="4" height="4" fill="#3b5b8e"/>
<rect x="459.9" y="254.5" width="4" height="4" fill="#3b5b8e"/>
<rect x="486.2" y="266.9" width="4" height="4" fill="#3b5b8e"/>
<line x1="459.9" y1="287.0" x2="471.5" y2="287.0" stroke="#a62a3c" stroke-width="1.3"/>
<circle cx="465.7" cy="287.0" r="2.1" fill="#a62a3c"/>
<text x="478.0" y="289.8" font-size="7.4" fill="#231f20" textLength="14.6" lengthAdjust="spacingAndGlyphs">CMV</text>
<line x1="459.9" y1="301.5" x2="471.5" y2="301.5" stroke="#3b5b8e" stroke-width="1.3"/>
<rect x="463.7" y="299.5" width="4" height="4" fill="#3b5b8e"/>
<text x="478.0" y="304.5" font-size="7.4" fill="#231f20" textLength="26.0" lengthAdjust="spacingAndGlyphs" font-style="italic">Mitogen</text>
</svg></body></html>
